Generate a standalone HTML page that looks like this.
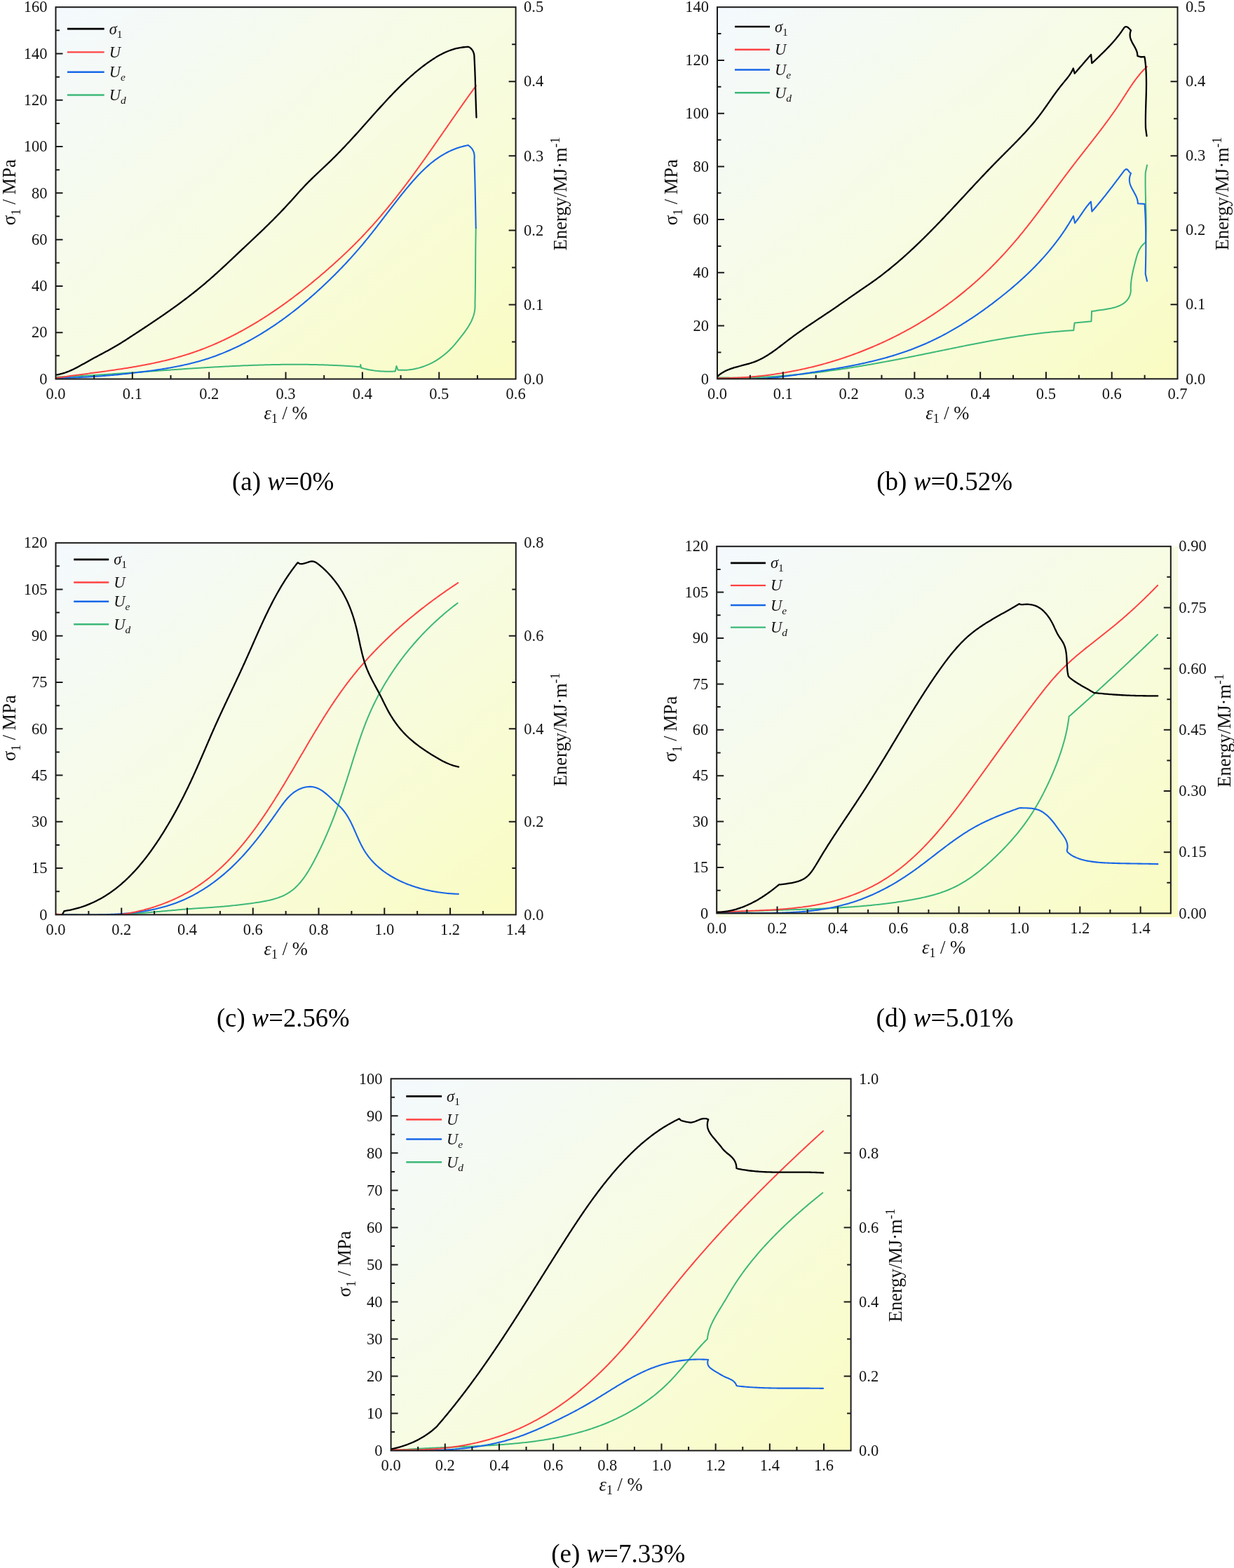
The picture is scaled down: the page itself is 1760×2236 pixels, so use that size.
<!DOCTYPE html><html><head><meta charset="utf-8"><title>Figure</title><style>html,body{margin:0;padding:0;background:#fff;}body{width:1760px;height:2236px;overflow:hidden;}svg{display:block;}</style></head><body><svg xmlns="http://www.w3.org/2000/svg" width="1760" height="2236" viewBox="0 0 1760 2236" font-family='"Liberation Serif", "DejaVu Serif", serif'><defs><linearGradient id="ga" x1="0" y1="0" x2="1" y2="1"><stop offset="0" stop-color="#f4f9fe"/><stop offset="0.5" stop-color="#f7fce3"/><stop offset="1" stop-color="#fafcc2"/></linearGradient><clipPath id="ca"><rect x="79.5" y="10.2" width="656.1" height="530.3"/></clipPath><linearGradient id="gb" x1="0" y1="0" x2="1" y2="1"><stop offset="0" stop-color="#f4f9fe"/><stop offset="0.5" stop-color="#f7fce3"/><stop offset="1" stop-color="#fafcc2"/></linearGradient><clipPath id="cb"><rect x="1023" y="10.2" width="656.5" height="530.1"/></clipPath><linearGradient id="gc" x1="0" y1="0" x2="1" y2="1"><stop offset="0" stop-color="#f4f9fe"/><stop offset="0.5" stop-color="#f7fce3"/><stop offset="1" stop-color="#fafcc2"/></linearGradient><clipPath id="cc"><rect x="79.5" y="774.2" width="656.3" height="530.2"/></clipPath><linearGradient id="gd" x1="0" y1="0" x2="1" y2="1"><stop offset="0" stop-color="#f4f9fe"/><stop offset="0.5" stop-color="#f7fce3"/><stop offset="1" stop-color="#fafcc2"/></linearGradient><clipPath id="cd"><rect x="1022.2" y="779.2" width="647.6" height="523.2"/></clipPath><linearGradient id="ge" x1="0" y1="0" x2="1" y2="1"><stop offset="0" stop-color="#f4f9fe"/><stop offset="0.5" stop-color="#f7fce3"/><stop offset="1" stop-color="#fafcc2"/></linearGradient><clipPath id="ce"><rect x="557.6" y="1538.3" width="656" height="530.3"/></clipPath></defs><rect x="79.5" y="10.2" width="656.1" height="530.3" fill="url(#ga)"/>
<g clip-path="url(#ca)" fill="none" stroke-linejoin="round" stroke-linecap="round">
<path d="M79,537.78 81,537.7 83.01,537.62 85.01,537.53 87.01,537.44 89.01,537.35 91.01,537.26 93.01,537.17 95.01,537.08 97.01,536.98 99.02,536.89 101.02,536.79 103.02,536.69 105.02,536.59 107.02,536.48 109.02,536.38 111.02,536.27 113.03,536.17 115.03,536.06 117.03,535.95 119.03,535.84 121.03,535.72 123.03,535.61 125.03,535.5 127.04,535.38 129.04,535.26 131.04,535.14 133.04,535.02 135.04,534.9 137.04,534.78 139.05,534.66 141.05,534.53 143.05,534.41 145.05,534.28 147.05,534.16 149.06,534.03 151.06,533.9 153.06,533.77 155.06,533.64 157.06,533.51 159.07,533.38 161.07,533.24 163.07,533.11 165.07,532.98 167.07,532.84 169.08,532.71 171.08,532.57 173.08,532.43 175.08,532.3 177.08,532.16 179.09,532.02 181.09,531.88 183.09,531.74 185.09,531.6 187.1,531.46 189.1,531.32 191.1,531.18 193.1,531.04 195.11,530.9 197.11,530.76 199.11,530.62 201.11,530.48 203.12,530.33 205.12,530.19 207.12,530.05 209.12,529.91 211.13,529.76 213.13,529.62 215.13,529.48 217.14,529.34 219.14,529.19 221.14,529.05 223.14,528.91 225.15,528.77 227.15,528.62 229.15,528.48 231.16,528.34 233.16,528.2 235.16,528.06 237.16,527.91 239.17,527.77 241.17,527.63 243.17,527.49 245.18,527.35 247.18,527.21 249.18,527.08 251.19,526.94 253.19,526.8 255.19,526.66 257.2,526.52 259.2,526.39 261.2,526.25 263.21,526.12 265.21,525.98 267.21,525.85 269.22,525.72 271.22,525.58 273.22,525.45 275.23,525.32 277.23,525.19 279.23,525.06 281.24,524.94 283.24,524.81 285.24,524.68 287.25,524.56 289.25,524.43 291.26,524.31 293.26,524.19 295.26,524.06 297.27,523.94 299.27,523.83 301.27,523.71 303.28,523.59 305.28,523.47 307.29,523.36 309.29,523.25 311.29,523.14 313.3,523.02 315.3,522.92 317.31,522.81 319.31,522.7 321.31,522.6 323.32,522.49 325.32,522.39 327.33,522.29 329.33,522.19 331.33,522.09 333.34,522 335.34,521.9 337.35,521.81 339.35,521.72 341.36,521.63 343.36,521.54 345.36,521.46 347.37,521.37 349.37,521.29 351.38,521.21 353.38,521.13 355.39,521.05 357.39,520.98 359.4,520.9 361.4,520.83 363.41,520.76 365.41,520.7 367.41,520.63 369.42,520.57 371.42,520.51 373.43,520.45 375.43,520.39 377.44,520.34 379.44,520.28 381.45,520.23 383.45,520.19 385.46,520.14 387.46,520.1 389.47,520.06 391.47,520.02 393.48,519.98 395.48,519.95 397.49,519.92 399.49,519.89 401.5,519.86 403.5,519.84 405.51,519.82 407.51,519.8 409.52,519.78 411.52,519.77 413.53,519.76 415.53,519.75 417.54,519.74 419.55,519.74 421.55,519.74 423.56,519.74 425.56,519.75 427.57,519.76 429.57,519.77 431.58,519.78 433.58,519.8 435.59,519.82 437.59,519.84 439.6,519.87 441.61,519.9 443.61,519.93 445.62,519.97 447.62,520 449.63,520.05 451.63,520.09 453.64,520.14 455.65,520.19 457.65,520.24 459.66,520.3 461.66,520.36 463.67,520.43 465.68,520.49 467.68,520.57 469.69,520.64 471.69,520.72 473.7,520.8 475.71,520.88 477.71,520.97 479.72,521.06 481.72,521.16 483.73,521.26 485.74,521.36 487.74,521.47 489.75,521.58 491.76,521.69 493.76,521.81 495.77,521.93 497.77,522.06 499.78,522.19 501.79,522.32 503.79,522.45 505.8,522.59 507.81,522.74 509.81,522.89 511.82,523.04 513.83,523.2 514.25,520 515,524.5 516.97,525.08 518.95,525.61 520.94,526.11 522.94,526.58 524.95,527.01 526.96,527.4 528.98,527.76 531,528.09 533.03,528.38 535.07,528.64 537.11,528.88 539.15,529.08 541.19,529.25 543.24,529.4 545.29,529.52 547.34,529.61 549.4,529.67 551.45,529.72 553.5,529.73 555.56,529.73 557.61,529.7 559.66,529.66 561.71,529.59 563.75,529.5 565.5,522 567.5,527.5 569.44,527.68 571.53,527.77 573.61,527.81 575.68,527.8 577.74,527.74 579.79,527.63 581.83,527.48 583.86,527.28 585.88,527.03 587.89,526.74 589.88,526.4 591.87,526.02 593.84,525.59 595.79,525.12 597.74,524.61 599.67,524.06 601.58,523.46 603.48,522.82 605.37,522.15 607.24,521.43 609.09,520.67 610.93,519.88 612.75,519.05 614.55,518.18 616.33,517.27 618.1,516.33 619.85,515.35 621.58,514.34 623.28,513.29 624.97,512.21 626.64,511.09 628.29,509.94 629.92,508.76 631.52,507.55 633.11,506.31 634.67,505.04 636.21,503.73 637.72,502.4 639.21,501.04 640.68,499.65 642.13,498.24 643.54,496.79 644.94,495.33 646.3,493.83 647.65,492.31 648.97,490.78 650.28,489.22 651.57,487.66 652.85,486.08 654.12,484.49 655.38,482.9 656.64,481.31 657.89,479.71 659.14,478.12 660.38,476.52 661.6,474.91 662.8,473.29 663.98,471.67 665.13,470.03 666.26,468.38 667.35,466.71 668.41,465.02 669.43,463.32 670.4,461.6 671.33,459.85 672.21,458.08 673.04,456.29 673.8,454.48 674.51,452.63 675.15,450.76 675.73,448.86 676.23,446.93 676.66,444.97 677.01,442.97 677.27,440.94 677.46,438.88 677.55,436.78 677.55,434.63 677.45,432.45 677.55,430.47 677.59,428.44 677.63,426.42 677.67,424.39 677.71,422.36 677.75,420.33 677.78,418.3 677.81,416.27 677.84,414.25 677.87,412.22 677.89,410.19 677.92,408.16 677.94,406.13 677.96,404.11 677.98,402.08 678,400.05 678.02,398.02 678.03,395.99 678.05,393.96 678.06,391.94 678.08,389.91 678.09,387.88 678.1,385.85 678.12,383.82 678.13,381.79 678.14,379.76 678.15,377.74 678.17,375.71 678.18,373.68 678.19,371.65 678.2,369.62 678.22,367.59 678.23,365.57 678.24,363.54 678.26,361.51 678.27,359.48 678.29,357.45 678.31,355.42 678.32,353.4 678.34,351.37 678.36,349.34 678.39,347.31 678.41,345.28 678.44,343.25 678.46,341.23 678.49,339.2 678.52,337.17 678.55,335.14 678.59,333.11 678.63,331.08 678.66,329.06 678.71,327.03 678.75,325" stroke="#3cb878" stroke-width="2.0"/>
<path d="M79.07,538.97 81.08,538.95 83.08,538.93 85.08,538.9 87.09,538.88 89.09,538.84 91.09,538.8 93.09,538.76 95.09,538.71 97.09,538.66 99.09,538.61 101.09,538.55 103.09,538.49 105.08,538.42 107.08,538.34 109.08,538.27 111.07,538.19 113.07,538.1 115.06,538.01 117.06,537.92 119.05,537.82 121.05,537.72 123.04,537.62 125.04,537.51 127.03,537.4 129.02,537.28 131.02,537.16 133.01,537.03 135,536.9 136.99,536.77 138.98,536.63 140.98,536.49 142.97,536.35 144.96,536.2 146.95,536.05 148.94,535.89 150.93,535.73 152.93,535.57 154.92,535.4 156.91,535.23 158.9,535.06 160.89,534.88 162.88,534.7 164.87,534.51 166.86,534.33 168.86,534.13 170.85,533.94 172.84,533.74 174.83,533.54 176.82,533.33 178.81,533.12 180.81,532.91 182.8,532.69 184.79,532.47 186.78,532.24 188.78,532.02 190.77,531.79 192.76,531.55 194.76,531.32 196.75,531.08 198.75,530.83 200.74,530.59 202.74,530.34 204.73,530.08 206.73,529.83 208.73,529.57 210.72,529.3 212.72,529.04 214.72,528.76 216.71,528.49 218.71,528.21 220.7,527.92 222.7,527.63 224.69,527.34 226.69,527.04 228.68,526.73 230.67,526.42 232.66,526.11 234.65,525.78 236.64,525.46 238.63,525.12 240.62,524.78 242.6,524.43 244.58,524.07 246.56,523.71 248.54,523.34 250.52,522.96 252.49,522.58 254.47,522.19 256.44,521.78 258.4,521.37 260.37,520.96 262.33,520.53 264.29,520.09 266.25,519.65 268.2,519.2 270.15,518.73 272.1,518.26 274.05,517.78 275.99,517.28 277.92,516.78 279.86,516.27 281.79,515.74 283.71,515.21 285.64,514.66 287.56,514.1 289.47,513.54 291.38,512.96 293.29,512.36 295.19,511.76 297.08,511.14 298.98,510.52 300.86,509.88 302.75,509.23 304.63,508.57 306.5,507.9 308.37,507.21 310.24,506.52 312.1,505.81 313.96,505.09 315.81,504.36 317.66,503.63 319.5,502.88 321.34,502.12 323.18,501.34 325.01,500.56 326.83,499.77 328.65,498.97 330.47,498.16 332.29,497.33 334.09,496.5 335.9,495.66 337.7,494.81 339.49,493.94 341.28,493.07 343.07,492.19 344.85,491.3 346.63,490.4 348.4,489.49 350.17,488.57 351.94,487.64 353.7,486.7 355.45,485.75 357.2,484.8 358.95,483.83 360.69,482.86 362.43,481.87 364.16,480.88 365.89,479.88 367.62,478.87 369.34,477.86 371.05,476.83 372.77,475.8 374.47,474.75 376.18,473.7 377.87,472.65 379.57,471.58 381.26,470.51 382.94,469.42 384.62,468.33 386.3,467.24 387.97,466.13 389.64,465.02 391.3,463.9 392.96,462.77 394.61,461.64 396.26,460.5 397.91,459.35 399.55,458.19 401.18,457.03 402.82,455.86 404.44,454.68 406.07,453.5 407.69,452.31 409.3,451.12 410.91,449.92 412.52,448.71 414.12,447.49 415.71,446.27 417.3,445.04 418.89,443.81 420.48,442.57 422.05,441.33 423.63,440.08 425.2,438.82 426.76,437.56 428.33,436.29 429.88,435.02 431.43,433.74 432.98,432.46 434.53,431.17 436.06,429.88 437.6,428.58 439.13,427.28 440.66,425.97 442.18,424.65 443.69,423.34 445.21,422.01 446.71,420.69 448.22,419.36 449.72,418.02 451.21,416.68 452.7,415.34 454.19,413.99 455.67,412.63 457.15,411.28 458.62,409.92 460.09,408.55 461.55,407.19 463.01,405.82 464.46,404.44 465.91,403.06 467.36,401.68 468.8,400.29 470.24,398.9 471.67,397.51 473.1,396.11 474.52,394.71 475.94,393.31 477.36,391.9 478.77,390.49 480.18,389.07 481.58,387.65 482.97,386.23 484.37,384.8 485.76,383.37 487.14,381.94 488.52,380.5 489.9,379.06 491.27,377.61 492.63,376.16 493.99,374.7 495.35,373.25 496.71,371.78 498.05,370.32 499.4,368.85 500.74,367.37 502.07,365.89 503.41,364.41 504.73,362.92 506.05,361.43 507.37,359.93 508.69,358.43 510,356.93 511.3,355.42 512.6,353.91 513.9,352.39 515.19,350.87 516.48,349.34 517.76,347.81 519.04,346.28 520.31,344.74 521.58,343.2 522.85,341.65 524.11,340.1 525.36,338.54 526.62,336.98 527.87,335.42 529.12,333.85 530.36,332.28 531.6,330.71 532.84,329.14 534.08,327.56 535.31,325.98 536.54,324.39 537.77,322.81 539,321.22 540.22,319.63 541.45,318.04 542.67,316.45 543.9,314.86 545.12,313.26 546.34,311.67 547.56,310.07 548.78,308.47 550,306.88 551.22,305.28 552.45,303.68 553.67,302.08 554.89,300.49 556.12,298.89 557.34,297.3 558.57,295.7 559.8,294.11 561.03,292.52 562.26,290.92 563.49,289.34 564.73,287.75 565.97,286.16 567.21,284.58 568.46,283 569.71,281.42 570.96,279.84 572.21,278.27 573.47,276.7 574.73,275.13 576,273.57 577.27,272.01 578.55,270.45 579.83,268.9 581.11,267.35 582.41,265.8 583.7,264.27 585,262.73 586.31,261.21 587.63,259.69 588.95,258.18 590.28,256.68 591.62,255.18 592.97,253.7 594.32,252.23 595.68,250.77 597.06,249.32 598.44,247.88 599.83,246.45 601.23,245.04 602.65,243.64 604.07,242.26 605.51,240.89 606.95,239.54 608.41,238.21 609.89,236.89 611.37,235.59 612.87,234.31 614.38,233.04 615.9,231.8 617.44,230.58 619,229.38 620.57,228.19 622.15,227.04 623.75,225.9 625.37,224.79 627,223.7 628.65,222.64 630.31,221.6 632,220.58 633.7,219.6 635.42,218.64 637.15,217.71 638.91,216.8 640.69,215.93 642.48,215.08 644.3,214.27 646.13,213.48 647.99,212.73 649.86,212.01 651.76,211.32 653.68,210.67 655.63,210.05 657.59,209.46 659.58,208.91 661.59,208.39 663.62,207.91 665.68,207.47 667.76,207.06 669.33,208.24 670.95,209.61 672.37,211.1 673.59,212.71 674.61,214.45 675.43,216.31 676.05,218.3 676.46,220.41 676.68,222.65 676.69,225.01 676.5,227.5 676.57,229.53 676.64,231.56 676.71,233.59 676.77,235.62 676.84,237.65 676.9,239.68 676.96,241.72 677.02,243.75 677.08,245.78 677.13,247.81 677.19,249.84 677.24,251.87 677.29,253.9 677.34,255.93 677.39,257.96 677.44,260 677.49,262.03 677.54,264.06 677.58,266.09 677.62,268.12 677.67,270.15 677.71,272.18 677.75,274.21 677.79,276.25 677.83,278.28 677.88,280.31 677.91,282.34 677.95,284.37 677.99,286.4 678.03,288.43 678.07,290.47 678.11,292.5 678.15,294.53 678.19,296.56 678.22,298.59 678.26,300.62 678.3,302.65 678.34,304.69 678.38,306.72 678.42,308.75 678.46,310.78 678.5,312.81 678.54,314.84 678.58,316.87 678.62,318.91 678.66,320.94 678.71,322.97 678.75,325" stroke="#1766e8" stroke-width="2.1"/>
<path d="M79.3,539.13 81.24,538.84 83.18,538.56 85.13,538.27 87.07,537.99 89.02,537.71 90.97,537.43 92.93,537.16 94.88,536.88 96.84,536.61 98.8,536.34 100.76,536.07 102.72,535.8 104.69,535.53 106.66,535.27 108.63,535 110.6,534.74 112.57,534.47 114.55,534.21 116.52,533.94 118.5,533.68 120.48,533.42 122.46,533.15 124.44,532.89 126.42,532.63 128.41,532.36 130.39,532.1 132.38,531.83 134.36,531.57 136.35,531.3 138.34,531.03 140.33,530.76 142.32,530.49 144.31,530.22 146.3,529.95 148.29,529.67 150.29,529.4 152.28,529.12 154.27,528.84 156.27,528.56 158.26,528.27 160.25,527.99 162.25,527.7 164.24,527.41 166.23,527.11 168.23,526.81 170.22,526.51 172.21,526.21 174.2,525.9 176.2,525.6 178.19,525.28 180.18,524.97 182.17,524.64 184.16,524.32 186.15,523.99 188.14,523.66 190.13,523.32 192.11,522.98 194.1,522.64 196.08,522.29 198.07,521.93 200.05,521.58 202.03,521.21 204.01,520.84 205.99,520.47 207.97,520.09 209.94,519.7 211.92,519.31 213.89,518.92 215.86,518.52 217.83,518.11 219.8,517.7 221.76,517.28 223.73,516.85 225.69,516.42 227.65,515.98 229.61,515.53 231.56,515.08 233.51,514.62 235.47,514.16 237.41,513.68 239.36,513.2 241.3,512.71 243.24,512.22 245.18,511.72 247.12,511.21 249.05,510.69 250.98,510.16 252.91,509.63 254.83,509.08 256.75,508.53 258.67,507.97 260.58,507.41 262.5,506.83 264.4,506.24 266.31,505.65 268.21,505.05 270.11,504.43 272,503.81 273.89,503.18 275.78,502.54 277.67,501.89 279.55,501.23 281.42,500.56 283.29,499.88 285.16,499.2 287.03,498.5 288.89,497.79 290.75,497.08 292.6,496.36 294.46,495.63 296.3,494.88 298.15,494.14 299.99,493.38 301.83,492.61 303.66,491.84 305.49,491.05 307.32,490.26 309.14,489.46 310.96,488.65 312.77,487.83 314.59,487.01 316.39,486.18 318.2,485.33 320,484.49 321.8,483.63 323.59,482.76 325.39,481.89 327.17,481.01 328.96,480.12 330.74,479.23 332.52,478.32 334.29,477.41 336.06,476.5 337.83,475.57 339.59,474.64 341.35,473.7 343.11,472.75 344.86,471.8 346.61,470.84 348.36,469.87 350.1,468.89 351.84,467.91 353.58,466.92 355.31,465.93 357.04,464.92 358.76,463.92 360.49,462.9 362.21,461.88 363.92,460.85 365.63,459.82 367.34,458.78 369.05,457.73 370.75,456.68 372.45,455.62 374.15,454.55 375.84,453.48 377.53,452.4 379.21,451.32 380.9,450.23 382.57,449.14 384.25,448.04 385.92,446.93 387.59,445.82 389.26,444.7 390.92,443.58 392.58,442.45 394.23,441.32 395.89,440.18 397.54,439.04 399.18,437.89 400.83,436.74 402.47,435.58 404.1,434.42 405.73,433.25 407.36,432.08 408.99,430.9 410.61,429.72 412.23,428.53 413.85,427.34 415.46,426.14 417.07,424.94 418.68,423.74 420.29,422.53 421.89,421.31 423.48,420.1 425.08,418.87 426.67,417.65 428.26,416.42 429.84,415.19 431.42,413.95 433,412.71 434.58,411.46 436.15,410.21 437.72,408.96 439.29,407.7 440.85,406.44 442.41,405.18 443.96,403.91 445.52,402.64 447.07,401.37 448.62,400.09 450.16,398.81 451.7,397.53 453.24,396.24 454.77,394.95 456.3,393.66 457.83,392.36 459.36,391.06 460.88,389.75 462.4,388.45 463.92,387.14 465.43,385.82 466.94,384.51 468.45,383.19 469.95,381.86 471.46,380.54 472.95,379.21 474.45,377.88 475.94,376.54 477.43,375.2 478.92,373.86 480.4,372.52 481.88,371.17 483.36,369.82 484.83,368.47 486.3,367.11 487.76,365.75 489.22,364.38 490.68,363.01 492.14,361.64 493.59,360.26 495.03,358.88 496.48,357.5 497.92,356.11 499.35,354.72 500.78,353.33 502.21,351.93 503.63,350.52 505.05,349.12 506.46,347.7 507.87,346.29 509.28,344.87 510.68,343.44 512.07,342.01 513.46,340.58 514.85,339.14 516.23,337.7 517.61,336.26 518.99,334.81 520.36,333.35 521.72,331.89 523.08,330.43 524.44,328.96 525.79,327.49 527.14,326.02 528.48,324.54 529.83,323.06 531.16,321.57 532.49,320.08 533.82,318.59 535.15,317.1 536.47,315.6 537.78,314.09 539.1,312.58 540.41,311.07 541.71,309.56 543.01,308.04 544.31,306.52 545.61,305 546.9,303.47 548.19,301.94 549.47,300.4 550.75,298.87 552.03,297.33 553.3,295.78 554.57,294.24 555.84,292.69 557.1,291.14 558.36,289.58 559.62,288.02 560.87,286.46 562.12,284.9 563.37,283.33 564.61,281.76 565.85,280.19 567.09,278.62 568.32,277.04 569.55,275.46 570.78,273.88 572.01,272.29 573.23,270.71 574.45,269.12 575.67,267.53 576.88,265.93 578.09,264.34 579.3,262.74 580.51,261.14 581.71,259.54 582.91,257.93 584.11,256.33 585.3,254.72 586.5,253.11 587.69,251.5 588.88,249.88 590.06,248.27 591.25,246.65 592.43,245.03 593.61,243.41 594.78,241.78 595.96,240.16 597.13,238.53 598.3,236.91 599.47,235.28 600.64,233.65 601.81,232.02 602.97,230.39 604.14,228.75 605.3,227.12 606.46,225.48 607.62,223.84 608.77,222.21 609.93,220.57 611.09,218.93 612.24,217.29 613.39,215.65 614.54,214 615.69,212.36 616.84,210.72 617.99,209.07 619.14,207.43 620.28,205.78 621.43,204.13 622.58,202.49 623.72,200.84 624.86,199.19 626.01,197.55 627.15,195.9 628.29,194.25 629.44,192.6 630.58,190.95 631.72,189.3 632.86,187.65 634,186.01 635.14,184.36 636.28,182.71 637.43,181.06 638.57,179.41 639.71,177.76 640.85,176.12 641.99,174.47 643.14,172.82 644.28,171.18 645.42,169.53 646.56,167.89 647.71,166.24 648.85,164.6 650,162.95 651.15,161.31 652.29,159.67 653.44,158.03 654.59,156.39 655.74,154.75 656.89,153.11 658.04,151.47 659.19,149.84 660.35,148.2 661.5,146.57 662.66,144.93 663.82,143.3 664.98,141.67 666.14,140.04 667.3,138.42 668.46,136.79 669.63,135.17 670.79,133.54 671.96,131.92 673.13,130.3 674.31,128.68 675.48,127.07 676.66,125.45 677.83,123.84 679.01,122.23" stroke="#ff4242" stroke-width="2.0"/>
<path d="M79.14,534.65 81.13,534.37 83.11,534.03 85.06,533.64 86.99,533.18 88.91,532.68 90.8,532.12 92.68,531.52 94.54,530.87 96.39,530.18 98.23,529.45 100.05,528.68 101.86,527.88 103.66,527.05 105.44,526.19 107.22,525.3 109,524.4 110.76,523.47 112.52,522.52 114.28,521.56 116.03,520.59 117.78,519.61 119.53,518.63 121.28,517.64 123.03,516.65 124.78,515.66 126.53,514.68 128.29,513.7 130.05,512.73 131.81,511.77 133.57,510.81 135.34,509.86 137.11,508.91 138.88,507.97 140.65,507.02 142.42,506.08 144.19,505.14 145.95,504.2 147.72,503.26 149.49,502.31 151.25,501.36 153.01,500.41 154.76,499.45 156.51,498.49 158.26,497.52 160,496.54 161.74,495.55 163.47,494.56 165.19,493.55 166.91,492.54 168.61,491.51 170.32,490.48 172.01,489.43 173.71,488.38 175.39,487.32 177.08,486.25 178.76,485.17 180.44,484.1 182.11,483.01 183.78,481.92 185.46,480.84 187.13,479.74 188.8,478.65 190.48,477.56 192.15,476.46 193.82,475.37 195.5,474.27 197.17,473.17 198.84,472.08 200.52,470.98 202.19,469.87 203.86,468.77 205.53,467.67 207.2,466.56 208.88,465.45 210.55,464.34 212.22,463.23 213.88,462.12 215.55,461 217.22,459.89 218.88,458.77 220.55,457.64 222.21,456.52 223.87,455.39 225.53,454.27 227.19,453.14 228.85,452 230.51,450.87 232.16,449.73 233.81,448.59 235.46,447.44 237.11,446.29 238.75,445.14 240.4,443.99 242.04,442.84 243.68,441.68 245.31,440.51 246.95,439.35 248.58,438.18 250.21,437.01 251.83,435.83 253.45,434.65 255.07,433.47 256.69,432.28 258.3,431.09 259.91,429.89 261.52,428.69 263.12,427.49 264.72,426.28 266.32,425.07 267.91,423.86 269.5,422.64 271.09,421.41 272.67,420.19 274.24,418.95 275.82,417.72 277.38,416.47 278.95,415.23 280.51,413.98 282.06,412.72 283.62,411.46 285.16,410.19 286.7,408.92 288.24,407.64 289.77,406.36 291.3,405.07 292.82,403.78 294.34,402.48 295.86,401.18 297.36,399.88 298.87,398.57 300.37,397.25 301.87,395.93 303.36,394.61 304.85,393.28 306.34,391.95 307.83,390.62 309.31,389.28 310.79,387.94 312.26,386.6 313.74,385.25 315.21,383.9 316.67,382.55 318.14,381.19 319.61,379.84 321.07,378.48 322.53,377.12 323.99,375.76 325.45,374.39 326.91,373.03 328.36,371.66 329.82,370.29 331.27,368.92 332.73,367.55 334.18,366.18 335.64,364.81 337.09,363.44 338.54,362.07 340,360.7 341.45,359.32 342.91,357.95 344.36,356.58 345.82,355.21 347.28,353.84 348.74,352.47 350.2,351.1 351.65,349.73 353.11,348.36 354.57,346.99 356.03,345.62 357.49,344.25 358.95,342.87 360.41,341.5 361.87,340.13 363.32,338.75 364.78,337.38 366.24,336 367.69,334.62 369.14,333.24 370.59,331.86 372.04,330.48 373.49,329.09 374.93,327.71 376.38,326.32 377.82,324.92 379.25,323.53 380.69,322.13 382.12,320.73 383.55,319.33 384.98,317.93 386.4,316.52 387.82,315.11 389.24,313.69 390.65,312.27 392.06,310.85 393.47,309.42 394.87,307.99 396.27,306.56 397.66,305.13 399.05,303.69 400.44,302.24 401.82,300.8 403.2,299.35 404.58,297.9 405.95,296.44 407.31,294.98 408.68,293.52 410.04,292.06 411.39,290.59 412.74,289.12 414.09,287.65 415.43,286.18 416.77,284.7 418.11,283.22 419.44,281.73 420.77,280.25 422.09,278.77 423.42,277.28 424.75,275.8 426.08,274.32 427.42,272.84 428.75,271.37 430.1,269.9 431.45,268.43 432.8,266.97 434.17,265.52 435.54,264.07 436.92,262.64 438.32,261.21 439.72,259.79 441.13,258.38 442.55,256.97 443.98,255.57 445.41,254.17 446.85,252.78 448.3,251.39 449.75,250.01 451.2,248.63 452.66,247.26 454.12,245.88 455.58,244.51 457.04,243.14 458.51,241.76 459.97,240.39 461.43,239.02 462.89,237.65 464.35,236.27 465.81,234.89 467.26,233.51 468.71,232.13 470.15,230.74 471.58,229.35 473.01,227.95 474.44,226.55 475.86,225.14 477.28,223.73 478.69,222.32 480.09,220.9 481.49,219.48 482.89,218.06 484.28,216.63 485.67,215.2 487.06,213.76 488.44,212.32 489.81,210.88 491.19,209.44 492.56,207.99 493.92,206.54 495.29,205.08 496.65,203.63 498,202.17 499.36,200.71 500.71,199.24 502.06,197.77 503.41,196.3 504.76,194.83 506.1,193.36 507.44,191.88 508.78,190.41 510.12,188.93 511.46,187.45 512.79,185.96 514.13,184.48 515.46,182.99 516.79,181.5 518.13,180.02 519.46,178.53 520.79,177.03 522.12,175.54 523.45,174.05 524.78,172.55 526.11,171.06 527.45,169.56 528.78,168.07 530.11,166.57 531.45,165.08 532.78,163.58 534.12,162.08 535.45,160.59 536.79,159.09 538.13,157.6 539.48,156.1 540.82,154.61 542.17,153.12 543.51,151.63 544.86,150.15 546.22,148.66 547.57,147.18 548.93,145.7 550.29,144.23 551.66,142.75 553.03,141.28 554.4,139.82 555.78,138.35 557.16,136.9 558.54,135.44 559.93,133.99 561.32,132.55 562.72,131.11 564.12,129.67 565.52,128.25 566.94,126.82 568.35,125.4 569.77,123.99 571.2,122.59 572.63,121.19 574.07,119.8 575.51,118.41 576.97,117.04 578.42,115.67 579.88,114.3 581.35,112.95 582.83,111.6 584.31,110.26 585.8,108.94 587.3,107.61 588.81,106.3 590.32,105 591.84,103.71 593.36,102.42 594.9,101.15 596.44,99.89 598,98.64 599.56,97.39 601.13,96.16 602.7,94.94 604.29,93.73 605.89,92.54 607.49,91.35 609.11,90.18 610.73,89.01 612.37,87.87 614.01,86.73 615.67,85.61 617.33,84.51 619.01,83.43 620.7,82.37 622.4,81.33 624.11,80.31 625.84,79.32 627.58,78.36 629.33,77.42 631.1,76.51 632.88,75.64 634.67,74.8 636.49,73.99 638.31,73.22 640.15,72.49 642.01,71.79 643.89,71.14 645.78,70.53 647.69,69.96 649.61,69.43 651.56,68.95 653.52,68.52 655.5,68.13 657.49,67.78 659.5,67.49 661.53,67.24 663.57,67.03 665.63,66.88 667.71,66.77 669.45,67.38 671.16,68.68 672.63,70.15 673.87,71.79 674.87,73.59 675.63,75.57 676.16,77.71 676.45,80.02 676.5,82.5 676.61,84.52 676.72,86.54 676.82,88.57 676.91,90.59 677.01,92.61 677.1,94.64 677.18,96.66 677.26,98.68 677.34,100.71 677.42,102.73 677.49,104.75 677.56,106.78 677.63,108.8 677.7,110.83 677.76,112.85 677.82,114.87 677.88,116.9 677.94,118.92 678,120.95 678.06,122.97 678.11,125 678.17,127.02 678.22,129.04 678.28,131.07 678.33,133.09 678.39,135.12 678.45,137.14 678.5,139.17 678.56,141.19 678.62,143.21 678.68,145.24 678.74,147.26 678.81,149.29 678.87,151.31 678.94,153.34 679.01,155.36 679.09,157.38 679.16,159.41 679.24,161.43 679.32,163.45 679.41,165.48 679.5,167.5" stroke="#000000" stroke-width="2.3"/>
</g>
<path d="M134.18,540.5V535M188.85,540.5V530.5M243.53,540.5V535M298.2,540.5V530.5M352.88,540.5V535M407.55,540.5V530.5M462.23,540.5V535M516.9,540.5V530.5M571.58,540.5V535M626.25,540.5V530.5M680.93,540.5V535M79.5,507.36H85M79.5,474.21H89.5M79.5,441.07H85M79.5,407.93H89.5M79.5,374.78H85M79.5,341.64H89.5M79.5,308.49H85M79.5,275.35H89.5M79.5,242.21H85M79.5,209.06H89.5M79.5,175.92H85M79.5,142.78H89.5M79.5,109.63H85M79.5,76.49H89.5M79.5,43.34H85M735.6,487.47H730.1M735.6,434.44H725.6M735.6,381.41H730.1M735.6,328.38H725.6M735.6,275.35H730.1M735.6,222.32H725.6M735.6,169.29H730.1M735.6,116.26H725.6M735.6,63.23H730.1" stroke="#1a1a1a" stroke-width="2" fill="none"/>
<rect x="79.5" y="10.2" width="656.1" height="530.3" fill="none" stroke="#1a1a1a" stroke-width="2"/>
<g font-size="22.5" fill="#111"><text x="79.5" y="569.1" text-anchor="middle">0.0</text><text x="188.85" y="569.1" text-anchor="middle">0.1</text><text x="298.2" y="569.1" text-anchor="middle">0.2</text><text x="407.55" y="569.1" text-anchor="middle">0.3</text><text x="516.9" y="569.1" text-anchor="middle">0.4</text><text x="626.25" y="569.1" text-anchor="middle">0.5</text><text x="735.6" y="569.1" text-anchor="middle">0.6</text><text x="67.5" y="547.7" text-anchor="end">0</text><text x="67.5" y="481.41" text-anchor="end">20</text><text x="67.5" y="415.12" text-anchor="end">40</text><text x="67.5" y="348.84" text-anchor="end">60</text><text x="67.5" y="282.55" text-anchor="end">80</text><text x="67.5" y="216.26" text-anchor="end">100</text><text x="67.5" y="149.98" text-anchor="end">120</text><text x="67.5" y="83.69" text-anchor="end">140</text><text x="67.5" y="17.4" text-anchor="end">160</text><text x="747.1" y="547.7">0.0</text><text x="747.1" y="441.64">0.1</text><text x="747.1" y="335.58">0.2</text><text x="747.1" y="229.52">0.3</text><text x="747.1" y="123.46">0.4</text><text x="747.1" y="17.4">0.5</text></g>
<text transform="translate(22,274.35) rotate(-90)" text-anchor="middle" font-size="26.5" fill="#111">σ<tspan font-size="18" dy="7">1</tspan><tspan dy="-7"> / MPa</tspan></text>
<text transform="translate(808.1,276.35) rotate(-90)" text-anchor="middle" font-size="26.5" fill="#111">Energy/MJ·m<tspan font-size="18" dy="-10">-1</tspan></text>
<text x="407.55" y="598" text-anchor="middle" font-size="26.5" fill="#111"><tspan font-style="italic">ε</tspan><tspan font-size="18" dy="5">1</tspan><tspan dy="-5"> / %</tspan></text>
<path d="M96,41.2H148.7" stroke="#000000" stroke-width="2.6999999999999997"/>
<text x="155.7" y="48.7" font-size="22.5" font-style="italic" fill="#111">σ<tspan font-size="15.5" dy="5" font-style="normal">1</tspan></text>
<path d="M96,74.4H148.7" stroke="#ff4242" stroke-width="2.4"/>
<text x="155.7" y="81.9" font-size="22.5" font-style="italic" fill="#111">U</text>
<path d="M96,102.7H148.7" stroke="#1766e8" stroke-width="2.5"/>
<text x="155.7" y="110.2" font-size="22.5" font-style="italic" fill="#111">U<tspan font-size="15.5" dy="5" font-style="italic">e</tspan></text>
<path d="M96,135.5H148.7" stroke="#3cb878" stroke-width="2.4"/>
<text x="155.7" y="143" font-size="22.5" font-style="italic" fill="#111">U<tspan font-size="15.5" dy="5" font-style="italic">d</tspan></text>
<text x="331" y="699.3" font-size="37" fill="#000" textLength="145.3" lengthAdjust="spacingAndGlyphs">(a) <tspan font-style="italic">w</tspan>=0%</text>
<rect x="1023" y="10.2" width="656.5" height="530.1" fill="url(#gb)"/>
<g clip-path="url(#cb)" fill="none" stroke-linejoin="round" stroke-linecap="round">
<path d="M1022.89,538.26 1024.91,538.33 1026.92,538.38 1028.93,538.44 1030.94,538.48 1032.95,538.52 1034.96,538.56 1036.97,538.59 1038.98,538.62 1040.99,538.64 1043,538.65 1045.01,538.66 1047.01,538.67 1049.02,538.67 1051.02,538.67 1053.03,538.66 1055.03,538.64 1057.04,538.62 1059.04,538.6 1061.04,538.57 1063.05,538.54 1065.05,538.5 1067.05,538.46 1069.05,538.41 1071.05,538.36 1073.05,538.3 1075.05,538.24 1077.05,538.17 1079.04,538.1 1081.04,538.02 1083.04,537.94 1085.04,537.86 1087.03,537.77 1089.03,537.68 1091.02,537.58 1093.02,537.48 1095.01,537.37 1097,537.26 1099,537.15 1100.99,537.03 1102.98,536.91 1104.97,536.78 1106.96,536.65 1108.95,536.51 1110.94,536.37 1112.93,536.23 1114.92,536.08 1116.91,535.93 1118.9,535.77 1120.89,535.61 1122.88,535.45 1124.86,535.28 1126.85,535.11 1128.84,534.94 1130.82,534.76 1132.81,534.57 1134.79,534.39 1136.78,534.2 1138.76,534 1140.75,533.81 1142.73,533.61 1144.71,533.4 1146.69,533.19 1148.68,532.98 1150.66,532.77 1152.64,532.55 1154.62,532.33 1156.6,532.1 1158.58,531.87 1160.56,531.64 1162.54,531.41 1164.52,531.17 1166.5,530.93 1168.48,530.68 1170.45,530.43 1172.43,530.18 1174.41,529.93 1176.39,529.67 1178.36,529.41 1180.34,529.15 1182.32,528.88 1184.29,528.61 1186.27,528.34 1188.24,528.06 1190.22,527.79 1192.19,527.51 1194.17,527.22 1196.14,526.94 1198.11,526.65 1200.09,526.35 1202.06,526.06 1204.03,525.76 1206,525.46 1207.98,525.16 1209.95,524.86 1211.92,524.55 1213.89,524.24 1215.86,523.92 1217.83,523.61 1219.8,523.29 1221.77,522.97 1223.74,522.65 1225.71,522.33 1227.68,522 1229.65,521.67 1231.62,521.34 1233.59,521 1235.56,520.67 1237.53,520.33 1239.49,519.99 1241.46,519.65 1243.43,519.3 1245.4,518.96 1247.36,518.61 1249.33,518.26 1251.3,517.91 1253.26,517.55 1255.23,517.2 1257.2,516.84 1259.16,516.48 1261.13,516.12 1263.09,515.76 1265.06,515.39 1267.02,515.03 1268.99,514.66 1270.95,514.29 1272.92,513.92 1274.88,513.54 1276.85,513.17 1278.81,512.79 1280.77,512.42 1282.74,512.04 1284.7,511.66 1286.67,511.27 1288.63,510.89 1290.59,510.51 1292.56,510.12 1294.52,509.73 1296.48,509.34 1298.44,508.96 1300.41,508.56 1302.37,508.17 1304.33,507.78 1306.29,507.39 1308.26,506.99 1310.22,506.59 1312.18,506.2 1314.14,505.8 1316.11,505.4 1318.07,505 1320.03,504.6 1321.99,504.2 1323.95,503.8 1325.91,503.4 1327.88,503 1329.84,502.59 1331.8,502.19 1333.76,501.79 1335.72,501.38 1337.68,500.98 1339.65,500.58 1341.61,500.17 1343.57,499.77 1345.53,499.37 1347.49,498.97 1349.45,498.56 1351.42,498.16 1353.38,497.76 1355.34,497.36 1357.3,496.96 1359.27,496.56 1361.23,496.16 1363.19,495.76 1365.15,495.36 1367.12,494.96 1369.08,494.57 1371.04,494.17 1373.01,493.78 1374.97,493.38 1376.93,492.99 1378.9,492.6 1380.86,492.21 1382.82,491.82 1384.79,491.44 1386.75,491.05 1388.72,490.67 1390.68,490.28 1392.65,489.9 1394.61,489.52 1396.58,489.15 1398.55,488.77 1400.51,488.4 1402.48,488.03 1404.45,487.66 1406.41,487.29 1408.38,486.93 1410.35,486.56 1412.32,486.2 1414.28,485.84 1416.25,485.49 1418.22,485.13 1420.19,484.78 1422.16,484.43 1424.13,484.09 1426.1,483.75 1428.07,483.41 1430.04,483.07 1432.01,482.73 1433.99,482.4 1435.96,482.07 1437.93,481.75 1439.9,481.43 1441.88,481.11 1443.85,480.79 1445.83,480.48 1447.8,480.17 1449.78,479.87 1451.75,479.56 1453.73,479.26 1455.71,478.97 1457.68,478.68 1459.66,478.39 1461.64,478.11 1463.62,477.83 1465.6,477.55 1467.58,477.28 1469.56,477.01 1471.54,476.75 1473.52,476.49 1475.5,476.24 1477.49,475.99 1479.47,475.74 1481.45,475.5 1483.44,475.26 1485.42,475.03 1487.41,474.8 1489.39,474.58 1491.38,474.36 1493.37,474.15 1495.36,473.94 1497.34,473.74 1499.33,473.54 1501.32,473.35 1503.31,473.16 1505.31,472.97 1507.3,472.8 1509.29,472.63 1511.28,472.46 1513.28,472.3 1515.27,472.14 1517.27,471.99 1519.26,471.85 1521.26,471.71 1523.26,471.57 1525.26,471.45 1527.26,471.33 1529.26,471.21 1531.26,471.1 1532.48,460.61 1556.49,458.27 1557.07,443.63 1559.05,443.8 1560.86,443.46 1562.73,443.15 1564.65,442.84 1566.62,442.55 1568.63,442.27 1570.67,441.98 1572.73,441.69 1574.82,441.39 1576.91,441.07 1579.02,440.72 1581.11,440.36 1583.21,439.96 1585.28,439.52 1587.33,439.03 1589.36,438.5 1591.34,437.92 1593.29,437.27 1595.18,436.56 1597.02,435.78 1598.79,434.92 1600.5,433.99 1602.12,432.96 1603.66,431.85 1605.11,430.63 1606.47,429.32 1607.71,427.9 1608.85,426.36 1609.87,424.7 1610.76,422.92 1611.51,421.01 1612.13,418.97 1612.61,416.78 1612.93,414.45 1612.74,412.59 1612.74,410.62 1612.79,408.65 1612.88,406.68 1613.02,404.7 1613.2,402.73 1613.42,400.76 1613.67,398.78 1613.96,396.81 1614.28,394.84 1614.63,392.87 1615.01,390.9 1615.41,388.93 1615.83,386.97 1616.27,385.01 1616.73,383.05 1617.2,381.1 1617.68,379.15 1618.18,377.2 1618.68,375.26 1619.19,373.33 1619.69,371.4 1620.21,369.48 1620.73,367.56 1621.28,365.67 1621.85,363.8 1622.48,361.95 1623.15,360.13 1623.89,358.35 1624.71,356.61 1625.61,354.92 1626.61,353.27 1627.71,351.69 1628.93,350.16 1630.28,348.7 1631.77,347.31 1633.4,345.99 1633.89,344.07 1634.01,342.04 1634.12,340.01 1634.22,337.98 1634.31,335.95 1634.38,333.92 1634.45,331.89 1634.5,329.86 1634.54,327.82 1634.58,325.79 1634.6,323.76 1634.62,321.73 1634.63,319.69 1634.63,317.66 1634.62,315.63 1634.61,313.6 1634.59,311.56 1634.56,309.53 1634.53,307.5 1634.5,305.46 1634.46,303.43 1634.42,301.4 1634.37,299.36 1634.32,297.33 1634.27,295.29 1634.22,293.26 1634.17,291.23 1634.11,289.19 1634.06,287.16 1634.01,285.13 1633.95,283.09 1633.9,281.06 1633.85,279.02 1633.81,276.99 1633.76,274.96 1633.72,272.92 1633.69,270.89 1633.66,268.85 1633.63,266.82 1633.61,264.79 1633.59,262.75 1633.58,260.72 1633.58,258.69 1633.58,256.65 1633.6,254.62 1633.62,252.59 1633.65,250.55 1633.69,248.52 1633.74,246.49 1636.01,235.55" stroke="#3cb878" stroke-width="2.0"/>
<path d="M1023.01,540.04 1025.03,540.21 1027.06,540.37 1029.08,540.51 1031.1,540.64 1033.12,540.76 1035.13,540.87 1037.15,540.97 1039.16,541.05 1041.18,541.12 1043.19,541.18 1045.2,541.23 1047.2,541.27 1049.21,541.3 1051.22,541.32 1053.22,541.32 1055.22,541.32 1057.22,541.3 1059.22,541.28 1061.22,541.24 1063.22,541.2 1065.22,541.15 1067.21,541.08 1069.21,541.01 1071.2,540.93 1073.2,540.84 1075.19,540.74 1077.18,540.63 1079.17,540.52 1081.16,540.39 1083.14,540.26 1085.13,540.12 1087.12,539.97 1089.1,539.82 1091.09,539.66 1093.07,539.49 1095.05,539.31 1097.04,539.13 1099.02,538.94 1101,538.75 1102.98,538.54 1104.96,538.34 1106.94,538.12 1108.92,537.9 1110.9,537.68 1112.87,537.45 1114.85,537.21 1116.83,536.97 1118.8,536.73 1120.78,536.48 1122.76,536.22 1124.73,535.96 1126.71,535.7 1128.68,535.43 1130.66,535.16 1132.63,534.89 1134.61,534.61 1136.58,534.33 1138.56,534.04 1140.53,533.76 1142.5,533.47 1144.48,533.17 1146.45,532.88 1148.43,532.58 1150.4,532.28 1152.38,531.98 1154.35,531.68 1156.32,531.37 1158.3,531.07 1160.27,530.76 1162.25,530.45 1164.23,530.15 1166.2,529.84 1168.18,529.53 1170.15,529.21 1172.13,528.9 1174.11,528.59 1176.08,528.27 1178.06,527.95 1180.04,527.63 1182.01,527.31 1183.99,526.99 1185.96,526.66 1187.94,526.33 1189.91,526 1191.89,525.67 1193.86,525.33 1195.83,524.99 1197.81,524.64 1199.78,524.3 1201.75,523.94 1203.72,523.59 1205.69,523.23 1207.66,522.86 1209.63,522.49 1211.6,522.12 1213.56,521.74 1215.53,521.36 1217.49,520.97 1219.46,520.58 1221.42,520.18 1223.38,519.78 1225.34,519.37 1227.3,518.95 1229.25,518.53 1231.21,518.11 1233.16,517.68 1235.12,517.24 1237.07,516.79 1239.01,516.35 1240.96,515.89 1242.91,515.43 1244.85,514.96 1246.79,514.49 1248.73,514.01 1250.67,513.52 1252.6,513.02 1254.54,512.52 1256.47,512.01 1258.4,511.5 1260.33,510.98 1262.25,510.45 1264.17,509.91 1266.09,509.37 1268.01,508.82 1269.92,508.26 1271.84,507.69 1273.75,507.12 1275.65,506.53 1277.56,505.94 1279.46,505.34 1281.36,504.74 1283.25,504.12 1285.14,503.5 1287.03,502.87 1288.92,502.23 1290.8,501.58 1292.68,500.92 1294.56,500.25 1296.44,499.58 1298.31,498.89 1300.17,498.2 1302.04,497.49 1303.9,496.78 1305.75,496.06 1307.61,495.33 1309.46,494.58 1311.3,493.83 1313.14,493.07 1314.98,492.3 1316.82,491.52 1318.65,490.73 1320.47,489.93 1322.3,489.12 1324.12,488.3 1325.93,487.47 1327.74,486.63 1329.55,485.78 1331.35,484.92 1333.15,484.05 1334.95,483.17 1336.74,482.28 1338.52,481.39 1340.31,480.48 1342.09,479.57 1343.86,478.65 1345.63,477.71 1347.4,476.77 1349.16,475.83 1350.92,474.87 1352.68,473.9 1354.43,472.93 1356.18,471.95 1357.92,470.96 1359.66,469.96 1361.4,468.96 1363.13,467.95 1364.86,466.93 1366.58,465.9 1368.3,464.87 1370.01,463.82 1371.72,462.77 1373.43,461.72 1375.13,460.65 1376.83,459.58 1378.53,458.51 1380.22,457.42 1381.9,456.33 1383.59,455.24 1385.27,454.13 1386.94,453.02 1388.61,451.91 1390.28,450.79 1391.94,449.66 1393.6,448.52 1395.25,447.38 1396.9,446.24 1398.54,445.09 1400.19,443.93 1401.82,442.77 1403.46,441.6 1405.08,440.43 1406.71,439.25 1408.33,438.07 1409.95,436.88 1411.56,435.69 1413.17,434.49 1414.77,433.29 1416.37,432.08 1417.96,430.87 1419.55,429.66 1421.14,428.44 1422.72,427.21 1424.3,425.99 1425.88,424.75 1427.44,423.52 1429.01,422.28 1430.57,421.03 1432.13,419.78 1433.68,418.53 1435.23,417.27 1436.77,416.01 1438.3,414.74 1439.84,413.47 1441.36,412.19 1442.89,410.91 1444.4,409.63 1445.92,408.33 1447.42,407.04 1448.92,405.74 1450.42,404.43 1451.91,403.11 1453.4,401.8 1454.88,400.47 1456.35,399.14 1457.82,397.81 1459.28,396.47 1460.74,395.12 1462.19,393.77 1463.63,392.41 1465.07,391.05 1466.51,389.68 1467.93,388.3 1469.35,386.92 1470.77,385.53 1472.17,384.13 1473.58,382.73 1474.97,381.32 1476.36,379.9 1477.74,378.48 1479.12,377.05 1480.48,375.62 1481.84,374.17 1483.2,372.72 1484.55,371.27 1485.89,369.8 1487.22,368.33 1488.55,366.85 1489.86,365.37 1491.18,363.87 1492.48,362.37 1493.78,360.86 1495.07,359.35 1496.35,357.82 1497.62,356.29 1498.89,354.75 1500.15,353.2 1501.4,351.65 1502.64,350.08 1503.87,348.51 1505.1,346.93 1506.32,345.34 1507.53,343.74 1508.73,342.14 1509.92,340.52 1511.11,338.9 1512.29,337.27 1513.46,335.63 1514.61,333.98 1515.77,332.32 1516.91,330.65 1518.04,328.97 1519.17,327.29 1520.28,325.59 1521.39,323.89 1522.49,322.17 1523.58,320.45 1524.65,318.71 1525.72,316.97 1526.79,315.22 1527.84,313.46 1528.88,311.68 1529.91,309.9 1530.93,308.11 1533.07,317.99 1534.34,316.43 1535.57,314.85 1536.78,313.25 1537.96,311.64 1539.13,310 1540.28,308.36 1541.42,306.71 1542.55,305.05 1543.68,303.39 1544.81,301.74 1545.96,300.09 1547.11,298.45 1548.28,296.82 1549.47,295.22 1550.69,293.63 1551.94,292.06 1553.22,290.52 1554.54,289.01 1555.9,287.54 1557.43,301.59 1558.75,300.07 1560.08,298.54 1561.4,297.01 1562.71,295.48 1564.02,293.94 1565.32,292.39 1566.62,290.84 1567.91,289.28 1569.19,287.72 1570.47,286.16 1571.74,284.59 1573.01,283.02 1574.27,281.45 1575.53,279.87 1576.78,278.29 1578.03,276.7 1579.27,275.11 1580.51,273.52 1581.75,271.93 1582.98,270.33 1584.22,268.73 1585.44,267.13 1586.67,265.53 1587.89,263.92 1589.12,262.32 1590.33,260.71 1591.55,259.1 1592.77,257.49 1593.98,255.88 1595.2,254.27 1596.41,252.66 1597.62,251.04 1598.84,249.43 1600.05,247.82 1601.26,246.2 1602.47,244.59 1603.69,242.98 1605.69,241.28 1607.32,241.36 1608.76,242.62 1610.11,244.43 1611.48,246.13 1612.98,247.06 1612.03,249.45 1611.36,251.75 1610.97,253.96 1610.84,256.1 1610.93,258.17 1611.22,260.17 1611.69,262.12 1612.31,264.02 1613.06,265.88 1613.91,267.71 1614.83,269.52 1615.81,271.31 1616.81,273.1 1617.81,274.89 1618.79,276.69 1619.73,278.5 1620.58,280.34 1621.34,282.21 1621.97,284.13 1622.45,286.09 1622.76,288.11 1622.86,290.19 1632.55,290.83 1632.69,292.85 1632.83,294.88 1632.95,296.92 1633.07,298.95 1633.19,300.98 1633.3,303.01 1633.4,305.04 1633.5,307.07 1633.59,309.1 1633.67,311.13 1633.75,313.17 1633.82,315.2 1633.89,317.23 1633.95,319.26 1634.01,321.3 1634.06,323.33 1634.11,325.36 1634.15,327.4 1634.19,329.43 1634.22,331.46 1634.25,333.5 1634.28,335.53 1634.3,337.56 1634.31,339.6 1634.32,341.63 1634.33,343.67 1634.34,345.7 1634.34,347.73 1634.33,349.77 1634.33,351.8 1634.32,353.84 1634.3,355.87 1634.29,357.91 1634.27,359.94 1634.25,361.97 1634.22,364.01 1634.19,366.04 1634.16,368.08 1634.13,370.11 1634.1,372.14 1634.06,374.18 1634.02,376.21 1633.98,378.24 1633.94,380.28 1633.89,382.31 1633.85,384.34 1633.8,386.38 1633.75,388.41 1633.7,390.44 1636.01,400.81" stroke="#1766e8" stroke-width="2.1"/>
<path d="M1022.93,539.25 1024.94,539.26 1026.94,539.26 1028.94,539.25 1030.95,539.24 1032.95,539.22 1034.95,539.19 1036.95,539.15 1038.96,539.11 1040.96,539.06 1042.96,539 1044.96,538.94 1046.96,538.86 1048.96,538.78 1050.97,538.7 1052.97,538.6 1054.97,538.5 1056.96,538.39 1058.96,538.28 1060.96,538.15 1062.96,538.02 1064.96,537.89 1066.96,537.74 1068.95,537.59 1070.95,537.43 1072.94,537.27 1074.94,537.09 1076.93,536.91 1078.92,536.72 1080.92,536.53 1082.91,536.33 1084.9,536.12 1086.89,535.9 1088.88,535.68 1090.87,535.45 1092.86,535.21 1094.84,534.96 1096.83,534.71 1098.81,534.45 1100.8,534.19 1102.78,533.91 1104.76,533.63 1106.74,533.35 1108.72,533.05 1110.7,532.75 1112.68,532.44 1114.66,532.13 1116.63,531.8 1118.61,531.47 1120.58,531.14 1122.55,530.79 1124.52,530.44 1126.49,530.08 1128.46,529.72 1130.42,529.35 1132.39,528.97 1134.35,528.58 1136.32,528.19 1138.28,527.79 1140.24,527.38 1142.19,526.97 1144.15,526.55 1146.11,526.12 1148.06,525.69 1150.01,525.24 1151.96,524.8 1153.91,524.34 1155.86,523.88 1157.8,523.41 1159.74,522.93 1161.69,522.45 1163.63,521.96 1165.56,521.46 1167.5,520.96 1169.43,520.45 1171.37,519.93 1173.3,519.41 1175.23,518.88 1177.15,518.34 1179.08,517.79 1181,517.24 1182.92,516.68 1184.84,516.12 1186.76,515.55 1188.67,514.97 1190.58,514.38 1192.49,513.79 1194.4,513.19 1196.31,512.58 1198.21,511.97 1200.11,511.35 1202.01,510.73 1203.91,510.09 1205.8,509.45 1207.7,508.81 1209.59,508.15 1211.47,507.49 1213.36,506.83 1215.24,506.15 1217.12,505.47 1219,504.79 1220.87,504.09 1222.75,503.39 1224.62,502.69 1226.48,501.97 1228.35,501.25 1230.21,500.52 1232.07,499.79 1233.93,499.05 1235.78,498.3 1237.63,497.55 1239.48,496.79 1241.33,496.02 1243.17,495.25 1245.01,494.47 1246.85,493.68 1248.68,492.89 1250.51,492.09 1252.34,491.29 1254.17,490.47 1255.99,489.65 1257.81,488.83 1259.62,487.99 1261.44,487.16 1263.25,486.31 1265.05,485.46 1266.86,484.6 1268.66,483.73 1270.46,482.86 1272.25,481.98 1274.04,481.1 1275.83,480.21 1277.61,479.31 1279.4,478.41 1281.17,477.5 1282.95,476.58 1284.72,475.66 1286.49,474.73 1288.25,473.79 1290.01,472.85 1291.77,471.9 1293.52,470.94 1295.27,469.98 1297.02,469.01 1298.76,468.04 1300.5,467.05 1302.24,466.07 1303.97,465.07 1305.7,464.07 1307.42,463.07 1309.14,462.05 1310.86,461.03 1312.57,460.01 1314.28,458.97 1315.99,457.94 1317.69,456.89 1319.39,455.84 1321.08,454.78 1322.77,453.72 1324.46,452.65 1326.14,451.57 1327.82,450.49 1329.49,449.4 1331.16,448.3 1332.83,447.2 1334.49,446.09 1336.15,444.98 1337.8,443.86 1339.45,442.73 1341.1,441.6 1342.74,440.46 1344.37,439.31 1346.01,438.16 1347.63,437 1349.26,435.84 1350.88,434.67 1352.49,433.49 1354.1,432.31 1355.71,431.12 1357.31,429.93 1358.9,428.73 1360.5,427.52 1362.08,426.31 1363.67,425.09 1365.25,423.86 1366.82,422.63 1368.39,421.39 1369.95,420.15 1371.51,418.9 1373.07,417.64 1374.62,416.38 1376.16,415.11 1377.71,413.83 1379.24,412.55 1380.77,411.27 1382.3,409.97 1383.82,408.67 1385.34,407.37 1386.85,406.06 1388.36,404.74 1389.86,403.42 1391.36,402.1 1392.85,400.76 1394.34,399.42 1395.82,398.08 1397.3,396.73 1398.77,395.38 1400.24,394.02 1401.7,392.65 1403.16,391.28 1404.61,389.9 1406.06,388.52 1407.51,387.14 1408.94,385.74 1410.38,384.35 1411.81,382.95 1413.23,381.54 1414.65,380.13 1416.06,378.71 1417.47,377.29 1418.87,375.86 1420.27,374.43 1421.67,373 1423.05,371.56 1424.44,370.11 1425.82,368.66 1427.19,367.21 1428.56,365.75 1429.92,364.29 1431.28,362.82 1432.63,361.35 1433.98,359.87 1435.32,358.39 1436.66,356.91 1437.99,355.42 1439.32,353.93 1440.64,352.43 1441.96,350.93 1443.27,349.42 1444.58,347.92 1445.88,346.4 1447.18,344.89 1448.47,343.37 1449.76,341.84 1451.04,340.32 1452.32,338.78 1453.59,337.25 1454.86,335.71 1456.12,334.17 1457.38,332.63 1458.64,331.08 1459.89,329.53 1461.14,327.98 1462.38,326.42 1463.62,324.86 1464.86,323.3 1466.1,321.74 1467.33,320.17 1468.55,318.6 1469.78,317.03 1471,315.45 1472.22,313.88 1473.43,312.3 1474.65,310.72 1475.86,309.14 1477.07,307.55 1478.27,305.97 1479.48,304.38 1480.68,302.79 1481.88,301.2 1483.08,299.61 1484.27,298.01 1485.47,296.42 1486.66,294.82 1487.85,293.22 1489.04,291.62 1490.23,290.02 1491.42,288.42 1492.61,286.82 1493.8,285.22 1494.98,283.62 1496.17,282.01 1497.35,280.41 1498.54,278.8 1499.72,277.2 1500.91,275.59 1502.09,273.99 1503.28,272.38 1504.46,270.78 1505.65,269.17 1506.83,267.56 1508.02,265.96 1509.2,264.35 1510.39,262.75 1511.58,261.14 1512.77,259.54 1513.96,257.94 1515.15,256.33 1516.35,254.73 1517.54,253.13 1518.74,251.53 1519.94,249.93 1521.14,248.33 1522.34,246.74 1523.54,245.14 1524.75,243.54 1525.95,241.95 1527.17,240.36 1528.38,238.77 1529.59,237.18 1530.81,235.59 1532.03,234.01 1533.26,232.42 1534.48,230.84 1535.71,229.26 1536.93,227.68 1538.16,226.1 1539.39,224.52 1540.63,222.94 1541.86,221.36 1543.09,219.79 1544.33,218.21 1545.56,216.63 1546.8,215.06 1548.03,213.48 1549.27,211.91 1550.5,210.33 1551.74,208.75 1552.97,207.18 1554.21,205.6 1555.44,204.02 1556.67,202.45 1557.91,200.87 1559.14,199.29 1560.36,197.71 1561.59,196.13 1562.82,194.54 1564.04,192.96 1565.26,191.38 1566.48,189.79 1567.7,188.2 1568.91,186.61 1570.12,185.02 1571.33,183.43 1572.54,181.83 1573.74,180.24 1574.94,178.64 1576.13,177.04 1577.32,175.43 1578.51,173.83 1579.69,172.22 1580.87,170.61 1582.05,169 1583.22,167.38 1584.39,165.76 1585.55,164.14 1586.7,162.51 1587.85,160.89 1589,159.25 1590.14,157.62 1591.27,155.98 1592.4,154.34 1593.52,152.69 1594.64,151.04 1595.75,149.39 1596.85,147.73 1597.95,146.07 1599.04,144.4 1600.12,142.73 1601.2,141.06 1602.28,139.39 1603.35,137.71 1604.43,136.04 1605.5,134.36 1606.57,132.69 1607.65,131.01 1608.73,129.34 1609.81,127.68 1610.9,126.02 1612,124.36 1613.11,122.71 1614.22,121.07 1615.35,119.44 1616.49,117.81 1617.64,116.2 1618.8,114.59 1619.98,113 1621.18,111.42 1622.4,109.85 1623.63,108.29 1624.89,106.75 1626.16,105.23 1627.46,103.72 1628.78,102.22 1630.13,100.75 1631.51,99.29 1632.91,97.85 1634.34,96.44 1635.8,95.04" stroke="#ff4242" stroke-width="2.0"/>
<path d="M1022.63,537.42 1024.07,536.05 1025.56,534.77 1027.09,533.57 1028.68,532.44 1030.31,531.39 1031.99,530.41 1033.7,529.49 1035.45,528.63 1037.24,527.82 1039.05,527.06 1040.89,526.35 1042.76,525.68 1044.66,525.05 1046.57,524.44 1048.5,523.87 1050.45,523.31 1052.4,522.78 1054.37,522.25 1056.34,521.74 1058.32,521.23 1060.3,520.72 1062.28,520.2 1064.25,519.68 1066.22,519.14 1068.17,518.58 1070.12,518 1072.05,517.39 1073.96,516.75 1075.85,516.07 1077.72,515.35 1079.56,514.6 1081.38,513.8 1083.19,512.96 1084.97,512.09 1086.73,511.19 1088.48,510.25 1090.2,509.29 1091.92,508.29 1093.61,507.27 1095.3,506.22 1096.97,505.15 1098.63,504.06 1100.27,502.95 1101.91,501.81 1103.53,500.67 1105.15,499.5 1106.76,498.32 1108.37,497.13 1109.97,495.93 1111.56,494.72 1113.15,493.51 1114.74,492.28 1116.33,491.06 1117.91,489.83 1119.5,488.6 1121.09,487.38 1122.68,486.15 1124.27,484.93 1125.87,483.72 1127.47,482.51 1129.08,481.32 1130.69,480.13 1132.3,478.94 1133.92,477.76 1135.55,476.59 1137.18,475.43 1138.81,474.27 1140.44,473.12 1142.08,471.97 1143.72,470.83 1145.36,469.69 1147.01,468.55 1148.66,467.42 1150.31,466.3 1151.96,465.17 1153.62,464.05 1155.28,462.93 1156.94,461.82 1158.59,460.71 1160.26,459.6 1161.92,458.49 1163.58,457.38 1165.24,456.27 1166.9,455.16 1168.57,454.06 1170.23,452.95 1171.89,451.85 1173.55,450.74 1175.22,449.63 1176.88,448.53 1178.53,447.42 1180.19,446.3 1181.85,445.19 1183.5,444.08 1185.16,442.96 1186.81,441.84 1188.45,440.71 1190.1,439.58 1191.75,438.46 1193.39,437.32 1195.03,436.19 1196.67,435.05 1198.31,433.92 1199.95,432.78 1201.58,431.64 1203.22,430.49 1204.86,429.35 1206.49,428.21 1208.13,427.07 1209.77,425.92 1211.41,424.78 1213.05,423.64 1214.68,422.5 1216.33,421.36 1217.97,420.22 1219.61,419.08 1221.26,417.94 1222.91,416.81 1224.56,415.68 1226.21,414.55 1227.86,413.42 1229.52,412.29 1231.17,411.16 1232.83,410.03 1234.48,408.9 1236.13,407.77 1237.78,406.64 1239.43,405.5 1241.07,404.35 1242.71,403.21 1244.35,402.05 1245.98,400.9 1247.6,399.73 1249.22,398.56 1250.83,397.38 1252.44,396.19 1254.04,395 1255.64,393.8 1257.23,392.6 1258.82,391.38 1260.4,390.17 1261.97,388.94 1263.54,387.71 1265.1,386.47 1266.66,385.23 1268.22,383.98 1269.77,382.73 1271.31,381.47 1272.85,380.2 1274.39,378.93 1275.92,377.65 1277.44,376.37 1278.96,375.08 1280.48,373.79 1281.99,372.49 1283.5,371.19 1285,369.88 1286.5,368.57 1288,367.25 1289.49,365.92 1290.98,364.6 1292.46,363.26 1293.94,361.93 1295.41,360.58 1296.89,359.24 1298.35,357.89 1299.82,356.53 1301.28,355.17 1302.74,353.81 1304.19,352.44 1305.64,351.07 1307.09,349.7 1308.53,348.32 1309.97,346.94 1311.41,345.55 1312.84,344.16 1314.27,342.77 1315.7,341.37 1317.13,339.97 1318.55,338.57 1319.97,337.16 1321.39,335.75 1322.8,334.34 1324.21,332.92 1325.62,331.5 1327.03,330.08 1328.44,328.66 1329.84,327.23 1331.24,325.8 1332.64,324.37 1334.03,322.94 1335.43,321.5 1336.82,320.06 1338.21,318.62 1339.6,317.18 1340.99,315.73 1342.37,314.29 1343.75,312.84 1345.14,311.39 1346.52,309.94 1347.9,308.48 1349.27,307.03 1350.65,305.57 1352.03,304.11 1353.4,302.65 1354.77,301.19 1356.14,299.73 1357.52,298.27 1358.89,296.8 1360.25,295.34 1361.62,293.87 1362.99,292.41 1364.36,290.94 1365.72,289.47 1367.09,288 1368.46,286.53 1369.82,285.07 1371.19,283.6 1372.55,282.13 1373.91,280.66 1375.28,279.19 1376.64,277.72 1378.01,276.25 1379.37,274.78 1380.74,273.31 1382.1,271.84 1383.46,270.37 1384.83,268.9 1386.2,267.44 1387.56,265.97 1388.93,264.5 1390.3,263.04 1391.66,261.57 1393.03,260.11 1394.4,258.65 1395.77,257.19 1397.14,255.73 1398.51,254.27 1399.89,252.81 1401.26,251.36 1402.64,249.9 1404.01,248.45 1405.39,247 1406.77,245.55 1408.15,244.1 1409.53,242.65 1410.92,241.21 1412.3,239.77 1413.69,238.33 1415.08,236.89 1416.47,235.46 1417.86,234.02 1419.26,232.59 1420.66,231.17 1422.05,229.74 1423.46,228.32 1424.86,226.9 1426.26,225.48 1427.67,224.07 1429.08,222.65 1430.49,221.24 1431.9,219.83 1433.3,218.42 1434.71,217.01 1436.12,215.6 1437.53,214.19 1438.94,212.78 1440.35,211.37 1441.75,209.96 1443.16,208.54 1444.56,207.13 1445.96,205.71 1447.35,204.29 1448.75,202.87 1450.14,201.44 1451.53,200.02 1452.91,198.59 1454.29,197.15 1455.66,195.71 1457.03,194.27 1458.4,192.82 1459.76,191.37 1461.11,189.91 1462.46,188.45 1463.8,186.98 1465.14,185.5 1466.47,184.02 1467.79,182.53 1469.11,181.03 1470.42,179.53 1471.72,178.02 1473.01,176.5 1474.29,174.97 1475.56,173.44 1476.83,171.89 1478.09,170.34 1479.33,168.78 1480.57,167.2 1481.79,165.62 1483.01,164.03 1484.22,162.42 1485.41,160.81 1486.6,159.19 1487.78,157.56 1488.95,155.93 1490.12,154.29 1491.29,152.64 1492.45,150.99 1493.6,149.34 1494.76,147.69 1495.91,146.03 1497.06,144.38 1498.22,142.73 1499.37,141.07 1500.53,139.43 1501.69,137.78 1502.86,136.14 1504.03,134.5 1505.21,132.88 1506.39,131.25 1507.58,129.64 1508.79,128.04 1510,126.44 1511.22,124.86 1512.45,123.28 1513.7,121.72 1514.96,120.18 1516.23,118.64 1517.5,117.12 1518.77,115.59 1520.03,114.06 1521.28,112.52 1522.5,110.97 1523.7,109.4 1524.87,107.81 1525.99,106.19 1527.07,104.53 1528.09,102.84 1529.05,101.11 1529.95,99.33 1530.78,97.49 1532.69,104.8 1534.07,103.22 1535.45,101.63 1536.83,100.05 1538.2,98.46 1539.58,96.88 1540.96,95.3 1542.34,93.71 1543.71,92.13 1545.09,90.54 1546.47,88.96 1547.85,87.37 1549.22,85.79 1550.6,84.21 1551.98,82.62 1553.36,81.04 1554.73,79.45 1556.11,77.87 1557.28,90.16 1558.81,88.87 1560.26,87.49 1561.71,86.11 1563.16,84.73 1564.61,83.35 1566.06,81.97 1567.5,80.58 1568.95,79.19 1570.39,77.79 1571.83,76.39 1573.26,74.98 1574.69,73.56 1576.11,72.14 1577.52,70.72 1578.92,69.28 1580.32,67.84 1581.7,66.38 1583.08,64.92 1584.44,63.45 1585.8,61.97 1587.13,60.48 1588.46,58.97 1589.77,57.46 1591.07,55.93 1592.34,54.39 1593.61,52.83 1594.85,51.27 1596.08,49.68 1597.28,48.09 1598.47,46.47 1599.63,44.84 1600.78,43.2 1601.9,41.54 1603,39.86 1604.76,38.22 1606.63,38.09 1608.48,38.99 1610.2,40.46 1611.71,42.05 1612.9,43.33 1612.19,45.59 1611.77,47.77 1611.64,49.86 1611.76,51.87 1612.1,53.82 1612.64,55.71 1613.34,57.55 1614.16,59.35 1615.07,61.13 1616.05,62.89 1617.06,64.64 1618.06,66.4 1619.03,68.17 1619.94,69.96 1620.74,71.78 1621.42,73.64 1621.93,75.56 1622.24,77.54 1622.33,79.59 1624.15,80.46 1626.08,81 1628.07,81.24 1630.12,81.17 1632.22,80.8 1632.76,82.74 1633.03,84.72 1633.29,86.7 1633.52,88.68 1633.73,90.67 1633.92,92.65 1634.1,94.64 1634.25,96.63 1634.39,98.62 1634.51,100.61 1634.62,102.61 1634.71,104.6 1634.79,106.6 1634.85,108.6 1634.9,110.59 1634.94,112.59 1634.97,114.59 1634.98,116.59 1634.99,118.59 1634.99,120.6 1634.97,122.6 1634.95,124.6 1634.93,126.61 1634.89,128.61 1634.85,130.61 1634.81,132.62 1634.76,134.62 1634.7,136.63 1634.64,138.64 1634.58,140.64 1634.52,142.65 1634.46,144.65 1634.4,146.66 1634.34,148.66 1634.27,150.67 1634.22,152.67 1634.16,154.68 1634.1,156.68 1634.05,158.68 1634.01,160.69 1633.97,162.69 1633.93,164.69 1633.91,166.69 1633.89,168.69 1633.87,170.69 1633.87,172.69 1633.87,174.69 1633.89,176.68 1633.92,178.68 1633.96,180.67 1634.01,182.66 1635.5,193.79" stroke="#000000" stroke-width="2.3"/>
</g>
<path d="M1069.89,540.3V534.8M1116.79,540.3V530.3M1163.68,540.3V534.8M1210.57,540.3V530.3M1257.46,540.3V534.8M1304.36,540.3V530.3M1351.25,540.3V534.8M1398.14,540.3V530.3M1445.04,540.3V534.8M1491.93,540.3V530.3M1538.82,540.3V534.8M1585.71,540.3V530.3M1632.61,540.3V534.8M1023,502.44H1028.5M1023,464.57H1033M1023,426.71H1028.5M1023,388.84H1033M1023,350.98H1028.5M1023,313.11H1033M1023,275.25H1028.5M1023,237.39H1033M1023,199.52H1028.5M1023,161.66H1033M1023,123.79H1028.5M1023,85.93H1033M1023,48.06H1028.5M1679.5,487.29H1674M1679.5,434.28H1669.5M1679.5,381.27H1674M1679.5,328.26H1669.5M1679.5,275.25H1674M1679.5,222.24H1669.5M1679.5,169.23H1674M1679.5,116.22H1669.5M1679.5,63.21H1674" stroke="#1a1a1a" stroke-width="2" fill="none"/>
<rect x="1023" y="10.2" width="656.5" height="530.1" fill="none" stroke="#1a1a1a" stroke-width="2"/>
<g font-size="22.5" fill="#111"><text x="1023" y="568.9" text-anchor="middle">0.0</text><text x="1116.79" y="568.9" text-anchor="middle">0.1</text><text x="1210.57" y="568.9" text-anchor="middle">0.2</text><text x="1304.36" y="568.9" text-anchor="middle">0.3</text><text x="1398.14" y="568.9" text-anchor="middle">0.4</text><text x="1491.93" y="568.9" text-anchor="middle">0.5</text><text x="1585.71" y="568.9" text-anchor="middle">0.6</text><text x="1679.5" y="568.9" text-anchor="middle">0.7</text><text x="1011" y="547.5" text-anchor="end">0</text><text x="1011" y="471.77" text-anchor="end">20</text><text x="1011" y="396.04" text-anchor="end">40</text><text x="1011" y="320.31" text-anchor="end">60</text><text x="1011" y="244.59" text-anchor="end">80</text><text x="1011" y="168.86" text-anchor="end">100</text><text x="1011" y="93.13" text-anchor="end">120</text><text x="1011" y="17.4" text-anchor="end">140</text><text x="1691" y="547.5">0.0</text><text x="1691" y="441.48">0.1</text><text x="1691" y="335.46">0.2</text><text x="1691" y="229.44">0.3</text><text x="1691" y="123.42">0.4</text><text x="1691" y="17.4">0.5</text></g>
<text transform="translate(965.5,274.25) rotate(-90)" text-anchor="middle" font-size="26.5" fill="#111">σ<tspan font-size="18" dy="7">1</tspan><tspan dy="-7"> / MPa</tspan></text>
<text transform="translate(1752,276.25) rotate(-90)" text-anchor="middle" font-size="26.5" fill="#111">Energy/MJ·m<tspan font-size="18" dy="-10">-1</tspan></text>
<text x="1351.25" y="597.8" text-anchor="middle" font-size="26.5" fill="#111"><tspan font-style="italic">ε</tspan><tspan font-size="18" dy="5">1</tspan><tspan dy="-5"> / %</tspan></text>
<path d="M1048,38H1098" stroke="#000000" stroke-width="2.6999999999999997"/>
<text x="1105" y="45.5" font-size="22.5" font-style="italic" fill="#111">σ<tspan font-size="15.5" dy="5" font-style="normal">1</tspan></text>
<path d="M1048,70.8H1098" stroke="#ff4242" stroke-width="2.4"/>
<text x="1105" y="78.3" font-size="22.5" font-style="italic" fill="#111">U</text>
<path d="M1048,99.6H1098" stroke="#1766e8" stroke-width="2.5"/>
<text x="1105" y="107.1" font-size="22.5" font-style="italic" fill="#111">U<tspan font-size="15.5" dy="5" font-style="italic">e</tspan></text>
<path d="M1048,132.3H1098" stroke="#3cb878" stroke-width="2.4"/>
<text x="1105" y="139.8" font-size="22.5" font-style="italic" fill="#111">U<tspan font-size="15.5" dy="5" font-style="italic">d</tspan></text>
<text x="1250.2" y="699.1" font-size="37" fill="#000" textLength="193.9" lengthAdjust="spacingAndGlyphs">(b) <tspan font-style="italic">w</tspan>=0.52%</text>
<rect x="79.5" y="774.2" width="656.3" height="530.2" fill="url(#gc)"/>
<g clip-path="url(#cc)" fill="none" stroke-linejoin="round" stroke-linecap="round">
<path d="M79.01,1303.98 81,1304.17 83,1304.35 85,1304.52 87,1304.68 88.99,1304.83 90.99,1304.98 92.99,1305.11 94.99,1305.23 96.98,1305.34 98.98,1305.45 100.98,1305.55 102.98,1305.63 104.98,1305.71 106.98,1305.78 108.98,1305.85 110.98,1305.9 112.98,1305.95 114.97,1305.99 116.97,1306.02 118.97,1306.04 120.97,1306.06 122.97,1306.07 124.97,1306.07 126.97,1306.06 128.97,1306.05 130.97,1306.03 132.97,1306.01 134.97,1305.98 136.97,1305.94 138.97,1305.9 140.98,1305.85 142.98,1305.79 144.98,1305.73 146.98,1305.66 148.98,1305.59 150.98,1305.51 152.98,1305.43 154.98,1305.34 156.98,1305.24 158.98,1305.14 160.98,1305.04 162.98,1304.93 164.98,1304.82 166.98,1304.71 168.98,1304.58 170.98,1304.46 172.98,1304.33 174.98,1304.2 176.98,1304.06 178.98,1303.92 180.98,1303.78 182.98,1303.63 184.98,1303.49 186.98,1303.33 188.98,1303.18 190.98,1303.02 192.98,1302.86 194.97,1302.7 196.97,1302.53 198.97,1302.37 200.97,1302.2 202.97,1302.03 204.97,1301.85 206.96,1301.68 208.96,1301.5 210.96,1301.33 212.96,1301.15 214.95,1300.97 216.95,1300.79 218.95,1300.61 220.94,1300.43 222.94,1300.24 224.94,1300.06 226.93,1299.88 228.93,1299.69 230.92,1299.51 232.92,1299.33 234.91,1299.15 236.91,1298.96 238.9,1298.78 240.89,1298.6 242.89,1298.42 244.88,1298.24 246.87,1298.06 248.87,1297.88 250.86,1297.71 252.85,1297.53 254.84,1297.36 256.83,1297.19 258.82,1297.02 260.81,1296.86 262.8,1296.69 264.79,1296.53 266.78,1296.37 268.77,1296.21 270.76,1296.05 272.75,1295.9 274.74,1295.75 276.72,1295.61 278.71,1295.46 280.7,1295.32 282.68,1295.19 284.67,1295.05 286.65,1294.92 288.64,1294.79 290.62,1294.66 292.61,1294.53 294.59,1294.4 296.57,1294.27 298.56,1294.14 300.54,1294.01 302.52,1293.88 304.5,1293.74 306.48,1293.61 308.46,1293.46 310.44,1293.32 312.42,1293.17 314.4,1293.01 316.38,1292.85 318.36,1292.69 320.33,1292.52 322.31,1292.34 324.29,1292.15 326.26,1291.96 328.24,1291.76 330.22,1291.55 332.19,1291.34 334.17,1291.12 336.15,1290.89 338.13,1290.66 340.12,1290.43 342.11,1290.19 344.1,1289.94 346.09,1289.7 348.1,1289.45 350.1,1289.2 352.12,1288.95 354.13,1288.7 356.16,1288.44 358.18,1288.17 360.21,1287.9 362.24,1287.62 364.26,1287.33 366.29,1287.03 368.32,1286.72 370.35,1286.4 372.37,1286.06 374.39,1285.7 376.4,1285.33 378.42,1284.94 380.42,1284.54 382.42,1284.11 384.41,1283.66 386.39,1283.18 388.36,1282.69 390.32,1282.16 392.27,1281.61 394.2,1281.02 396.11,1280.4 397.99,1279.74 399.85,1279.05 401.69,1278.32 403.49,1277.54 405.27,1276.72 407.01,1275.85 408.71,1274.93 410.37,1273.96 412,1272.94 413.6,1271.88 415.15,1270.77 416.68,1269.62 418.17,1268.42 419.62,1267.18 421.05,1265.9 422.45,1264.59 423.81,1263.23 425.15,1261.84 426.46,1260.42 427.74,1258.97 429,1257.48 430.23,1255.96 431.44,1254.42 432.63,1252.85 433.79,1251.26 434.93,1249.64 436.06,1248 437.16,1246.33 438.24,1244.65 439.31,1242.96 440.36,1241.24 441.39,1239.51 442.41,1237.77 443.42,1236.01 444.41,1234.25 445.39,1232.48 446.36,1230.7 447.32,1228.91 448.27,1227.12 449.21,1225.33 450.14,1223.53 451.06,1221.73 451.98,1219.93 452.89,1218.12 453.79,1216.32 454.68,1214.51 455.57,1212.69 456.45,1210.88 457.32,1209.06 458.18,1207.24 459.04,1205.42 459.88,1203.6 460.73,1201.77 461.56,1199.94 462.39,1198.11 463.21,1196.28 464.02,1194.44 464.83,1192.6 465.63,1190.76 466.43,1188.92 467.21,1187.08 468,1185.23 468.77,1183.38 469.54,1181.53 470.31,1179.68 471.06,1177.83 471.82,1175.97 472.56,1174.11 473.3,1172.25 474.04,1170.39 474.77,1168.53 475.5,1166.66 476.22,1164.8 476.93,1162.93 477.64,1161.06 478.34,1159.19 479.04,1157.31 479.74,1155.44 480.43,1153.56 481.12,1151.69 481.8,1149.81 482.48,1147.93 483.15,1146.05 483.82,1144.16 484.48,1142.28 485.14,1140.39 485.8,1138.51 486.45,1136.62 487.1,1134.73 487.75,1132.84 488.39,1130.95 489.03,1129.05 489.67,1127.16 490.3,1125.27 490.93,1123.37 491.56,1121.47 492.18,1119.58 492.8,1117.68 493.42,1115.78 494.04,1113.88 494.65,1111.98 495.26,1110.07 495.87,1108.17 496.48,1106.27 497.08,1104.37 497.68,1102.46 498.28,1100.56 498.88,1098.65 499.48,1096.74 500.07,1094.84 500.67,1092.93 501.26,1091.03 501.86,1089.12 502.45,1087.21 503.05,1085.31 503.64,1083.4 504.24,1081.5 504.84,1079.59 505.44,1077.69 506.04,1075.78 506.64,1073.88 507.25,1071.98 507.86,1070.08 508.47,1068.18 509.08,1066.28 509.7,1064.39 510.32,1062.49 510.95,1060.6 511.57,1058.7 512.21,1056.81 512.85,1054.93 513.49,1053.04 514.14,1051.15 514.79,1049.27 515.46,1047.39 516.12,1045.51 516.8,1043.64 517.48,1041.77 518.16,1039.9 518.86,1038.03 519.56,1036.16 520.27,1034.3 520.99,1032.44 521.71,1030.59 522.45,1028.74 523.19,1026.89 523.94,1025.04 524.71,1023.2 525.48,1021.36 526.26,1019.53 527.06,1017.7 527.86,1015.87 528.67,1014.05 529.49,1012.23 530.33,1010.42 531.17,1008.61 532.02,1006.8 532.89,1005 533.76,1003.2 534.64,1001.41 535.54,999.62 536.44,997.83 537.35,996.05 538.27,994.28 539.2,992.5 540.14,990.74 541.09,988.98 542.05,987.22 543.02,985.47 544,983.72 544.99,981.97 545.98,980.24 546.99,978.5 548,976.77 549.03,975.05 550.06,973.33 551.1,971.62 552.15,969.91 553.21,968.21 554.28,966.51 555.36,964.82 556.44,963.13 557.54,961.45 558.64,959.77 559.75,958.1 560.87,956.44 562,954.78 563.14,953.12 564.28,951.48 565.44,949.83 566.6,948.2 567.77,946.57 568.95,944.94 570.13,943.32 571.33,941.71 572.53,940.1 573.74,938.5 574.96,936.91 576.19,935.32 577.42,933.73 578.66,932.16 579.91,930.59 581.17,929.02 582.43,927.47 583.7,925.92 584.98,924.37 586.27,922.84 587.57,921.3 588.87,919.78 590.18,918.26 591.49,916.75 592.82,915.25 594.15,913.75 595.49,912.26 596.83,910.78 598.18,909.3 599.54,907.83 600.91,906.37 602.28,904.91 603.66,903.47 605.05,902.03 606.44,900.59 607.84,899.17 609.25,897.75 610.66,896.34 612.08,894.93 613.51,893.54 614.94,892.15 616.38,890.77 617.82,889.39 619.28,888.03 620.73,886.67 622.2,885.32 623.67,883.98 625.14,882.64 626.63,881.32 628.11,880 629.61,878.69 631.11,877.39 632.61,876.09 634.12,874.81 635.64,873.53 637.16,872.26 638.69,871 640.23,869.75 641.77,868.5 643.31,867.27 644.86,866.04 646.42,864.82 647.98,863.61 649.54,862.41 651.12,861.22 652.69,860.03" stroke="#3cb878" stroke-width="2.0"/>
<path d="M79.05,1304.02 80.97,1304.04 82.9,1304.06 84.83,1304.08 86.77,1304.11 88.71,1304.13 90.66,1304.16 92.61,1304.19 94.57,1304.21 96.53,1304.24 98.5,1304.27 100.47,1304.3 102.44,1304.32 104.42,1304.35 106.4,1304.38 108.38,1304.4 110.37,1304.42 112.36,1304.44 114.36,1304.46 116.36,1304.48 118.36,1304.49 120.36,1304.5 122.37,1304.51 124.38,1304.52 126.39,1304.52 128.4,1304.52 130.42,1304.51 132.43,1304.5 134.45,1304.49 136.47,1304.47 138.5,1304.45 140.52,1304.42 142.54,1304.39 144.57,1304.35 146.59,1304.3 148.62,1304.25 150.65,1304.19 152.68,1304.13 154.71,1304.06 156.73,1303.98 158.76,1303.9 160.79,1303.81 162.82,1303.71 164.85,1303.6 166.87,1303.48 168.9,1303.36 170.93,1303.23 172.95,1303.09 174.97,1302.94 177,1302.78 179.02,1302.61 181.04,1302.43 183.05,1302.24 185.07,1302.04 187.08,1301.83 189.1,1301.61 191.1,1301.38 193.11,1301.13 195.12,1300.88 197.12,1300.61 199.12,1300.34 201.11,1300.05 203.1,1299.74 205.09,1299.43 207.08,1299.1 209.06,1298.76 211.04,1298.4 213.02,1298.04 214.99,1297.65 216.95,1297.26 218.92,1296.85 220.87,1296.42 222.83,1295.98 224.78,1295.53 226.72,1295.06 228.66,1294.58 230.59,1294.07 232.52,1293.56 234.44,1293.02 236.36,1292.47 238.27,1291.91 240.18,1291.33 242.08,1290.73 243.97,1290.11 245.86,1289.47 247.74,1288.82 249.61,1288.15 251.48,1287.46 253.34,1286.75 255.2,1286.02 257.04,1285.28 258.88,1284.51 260.72,1283.73 262.54,1282.93 264.36,1282.11 266.17,1281.27 267.97,1280.42 269.76,1279.54 271.55,1278.65 273.33,1277.75 275.1,1276.82 276.86,1275.88 278.62,1274.93 280.37,1273.96 282.11,1272.97 283.84,1271.96 285.56,1270.94 287.27,1269.91 288.98,1268.86 290.67,1267.79 292.36,1266.71 294.04,1265.62 295.71,1264.51 297.37,1263.39 299.03,1262.26 300.67,1261.11 302.3,1259.94 303.93,1258.77 305.55,1257.58 307.15,1256.38 308.75,1255.17 310.34,1253.94 311.92,1252.7 313.48,1251.45 315.04,1250.19 316.59,1248.92 318.13,1247.64 319.66,1246.34 321.18,1245.04 322.69,1243.72 324.19,1242.4 325.68,1241.06 327.16,1239.72 328.62,1238.36 330.08,1237 331.53,1235.63 332.97,1234.24 334.4,1232.85 335.82,1231.45 337.23,1230.04 338.63,1228.62 340.02,1227.19 341.4,1225.76 342.78,1224.32 344.15,1222.86 345.51,1221.4 346.86,1219.94 348.2,1218.46 349.53,1216.98 350.86,1215.49 352.18,1213.99 353.5,1212.49 354.8,1210.98 356.1,1209.46 357.39,1207.93 358.68,1206.4 359.96,1204.86 361.23,1203.32 362.5,1201.77 363.76,1200.21 365.02,1198.65 366.27,1197.08 367.51,1195.51 368.75,1193.93 369.99,1192.34 371.22,1190.75 372.45,1189.16 373.67,1187.56 374.88,1185.95 376.1,1184.34 377.31,1182.73 378.51,1181.11 379.71,1179.49 380.91,1177.86 382.11,1176.23 383.3,1174.59 384.49,1172.95 385.67,1171.31 386.86,1169.67 388.04,1168.02 389.21,1166.37 390.39,1164.71 391.57,1163.05 392.74,1161.39 393.91,1159.73 395.08,1158.07 396.25,1156.4 397.42,1154.73 398.59,1153.06 399.77,1151.4 400.95,1149.76 402.14,1148.12 403.35,1146.5 404.56,1144.9 405.8,1143.33 407.05,1141.78 408.33,1140.26 409.63,1138.78 410.96,1137.33 412.31,1135.93 413.7,1134.57 415.12,1133.26 416.57,1131.99 418.06,1130.79 419.6,1129.64 421.17,1128.56 422.79,1127.54 424.46,1126.58 426.18,1125.7 427.95,1124.9 429.77,1124.18 431.62,1123.54 433.51,1123 435.42,1122.55 437.35,1122.21 439.29,1121.98 441.23,1121.87 443.17,1121.87 445.1,1122 447.01,1122.27 448.89,1122.67 450.75,1123.22 452.57,1123.89 454.35,1124.69 456.11,1125.59 457.83,1126.6 459.53,1127.68 461.19,1128.84 462.81,1130.07 464.41,1131.34 465.98,1132.65 467.51,1133.98 469.02,1135.34 470.5,1136.72 471.97,1138.11 473.42,1139.5 474.87,1140.9 476.31,1142.29 477.75,1143.67 479.2,1145.05 480.66,1146.4 482.12,1147.74 483.58,1149.07 485.01,1150.43 486.39,1151.82 487.73,1153.25 489.01,1154.73 490.25,1156.24 491.45,1157.79 492.6,1159.38 493.71,1160.99 494.79,1162.64 495.84,1164.32 496.85,1166.02 497.83,1167.75 498.79,1169.5 499.72,1171.27 500.63,1173.06 501.51,1174.87 502.39,1176.69 503.24,1178.53 504.08,1180.37 504.92,1182.23 505.74,1184.09 506.56,1185.96 507.38,1187.82 508.19,1189.69 509.01,1191.56 509.83,1193.43 510.66,1195.29 511.49,1197.15 512.34,1198.99 513.2,1200.82 514.08,1202.65 514.98,1204.45 515.89,1206.24 516.83,1208.01 517.8,1209.76 518.79,1211.49 519.81,1213.19 520.87,1214.86 521.95,1216.51 523.07,1218.13 524.22,1219.73 525.4,1221.3 526.61,1222.84 527.85,1224.36 529.11,1225.85 530.41,1227.32 531.73,1228.76 533.08,1230.18 534.45,1231.57 535.85,1232.94 537.28,1234.28 538.73,1235.59 540.2,1236.89 541.7,1238.16 543.22,1239.4 544.76,1240.62 546.32,1241.81 547.91,1242.99 549.52,1244.13 551.14,1245.26 552.79,1246.36 554.46,1247.44 556.14,1248.49 557.84,1249.53 559.56,1250.53 561.3,1251.52 563.05,1252.48 564.82,1253.43 566.6,1254.34 568.4,1255.24 570.21,1256.12 572.04,1256.97 573.88,1257.8 575.73,1258.61 577.6,1259.4 579.47,1260.16 581.36,1260.91 583.25,1261.63 585.16,1262.34 587.07,1263.02 589,1263.68 590.93,1264.32 592.87,1264.95 594.82,1265.55 596.77,1266.13 598.73,1266.69 600.69,1267.23 602.66,1267.75 604.64,1268.25 606.61,1268.73 608.59,1269.2 610.58,1269.64 612.56,1270.07 614.55,1270.47 616.54,1270.86 618.52,1271.23 620.51,1271.58 622.5,1271.91 624.48,1272.22 626.47,1272.52 628.45,1272.8 630.43,1273.06 632.4,1273.3 634.37,1273.53 636.34,1273.73 638.3,1273.93 640.26,1274.1 642.21,1274.26 644.15,1274.4 646.09,1274.52 648.02,1274.63 649.94,1274.72 651.85,1274.79 653.75,1274.85" stroke="#1766e8" stroke-width="2.1"/>
<path d="M78.72,1303.11 80.69,1303.44 82.66,1303.74 84.64,1304.04 86.62,1304.32 88.6,1304.59 90.59,1304.85 92.58,1305.09 94.57,1305.32 96.57,1305.54 98.57,1305.74 100.57,1305.93 102.58,1306.11 104.58,1306.28 106.59,1306.43 108.61,1306.57 110.62,1306.69 112.63,1306.81 114.65,1306.91 116.67,1306.99 118.69,1307.06 120.71,1307.12 122.74,1307.17 124.76,1307.2 126.78,1307.23 128.81,1307.23 130.84,1307.23 132.86,1307.21 134.89,1307.17 136.92,1307.13 138.95,1307.07 140.97,1307 143,1306.91 145.03,1306.81 147.06,1306.7 149.08,1306.57 151.11,1306.43 153.13,1306.28 155.16,1306.12 157.18,1305.94 159.2,1305.75 161.22,1305.54 163.24,1305.32 165.26,1305.09 167.27,1304.84 169.29,1304.58 171.3,1304.31 173.31,1304.02 175.32,1303.72 177.32,1303.41 179.32,1303.08 181.32,1302.74 183.32,1302.39 185.31,1302.02 187.3,1301.64 189.29,1301.25 191.27,1300.84 193.25,1300.42 195.23,1299.98 197.2,1299.53 199.17,1299.07 201.14,1298.59 203.1,1298.1 205.06,1297.6 207.01,1297.08 208.96,1296.55 210.9,1296.01 212.84,1295.45 214.77,1294.88 216.7,1294.3 218.62,1293.7 220.54,1293.09 222.45,1292.46 224.36,1291.82 226.26,1291.17 228.15,1290.5 230.04,1289.82 231.92,1289.12 233.8,1288.41 235.67,1287.69 237.53,1286.95 239.38,1286.2 241.23,1285.44 243.08,1284.66 244.91,1283.87 246.74,1283.06 248.56,1282.25 250.37,1281.41 252.18,1280.56 253.98,1279.7 255.76,1278.83 257.55,1277.94 259.32,1277.04 261.08,1276.12 262.84,1275.19 264.59,1274.24 266.33,1273.29 268.06,1272.31 269.78,1271.33 271.49,1270.33 273.19,1269.31 274.89,1268.28 276.57,1267.24 278.24,1266.18 279.91,1265.11 281.56,1264.03 283.21,1262.93 284.84,1261.82 286.47,1260.69 288.08,1259.55 289.69,1258.4 291.29,1257.23 292.87,1256.05 294.45,1254.86 296.02,1253.66 297.58,1252.44 299.13,1251.21 300.67,1249.97 302.2,1248.72 303.72,1247.46 305.24,1246.18 306.74,1244.89 308.24,1243.59 309.73,1242.28 311.21,1240.96 312.68,1239.63 314.14,1238.29 315.6,1236.94 317.04,1235.57 318.48,1234.2 319.91,1232.82 321.33,1231.43 322.75,1230.02 324.15,1228.61 325.55,1227.19 326.94,1225.76 328.32,1224.32 329.7,1222.87 331.06,1221.41 332.42,1219.95 333.77,1218.47 335.12,1216.99 336.46,1215.5 337.79,1214 339.11,1212.5 340.42,1210.98 341.73,1209.46 343.03,1207.93 344.33,1206.4 345.62,1204.85 346.9,1203.3 348.17,1201.75 349.44,1200.19 350.7,1198.62 351.95,1197.04 353.2,1195.46 354.44,1193.87 355.68,1192.28 356.91,1190.68 358.13,1189.08 359.35,1187.47 360.56,1185.86 361.77,1184.24 362.97,1182.62 364.16,1180.99 365.35,1179.36 366.53,1177.72 367.7,1176.08 368.88,1174.44 370.04,1172.79 371.2,1171.14 372.36,1169.49 373.51,1167.83 374.65,1166.17 375.79,1164.5 376.92,1162.83 378.05,1161.16 379.18,1159.49 380.3,1157.82 381.41,1156.14 382.52,1154.46 383.63,1152.77 384.73,1151.09 385.83,1149.4 386.92,1147.71 388.02,1146.01 389.1,1144.32 390.18,1142.62 391.26,1140.92 392.34,1139.22 393.41,1137.51 394.48,1135.8 395.54,1134.1 396.6,1132.39 397.66,1130.67 398.72,1128.96 399.77,1127.25 400.82,1125.53 401.87,1123.81 402.91,1122.09 403.96,1120.37 405,1118.65 406.03,1116.92 407.07,1115.2 408.1,1113.47 409.13,1111.75 410.16,1110.02 411.19,1108.29 412.22,1106.56 413.24,1104.83 414.26,1103.1 415.29,1101.37 416.31,1099.64 417.32,1097.9 418.34,1096.17 419.36,1094.44 420.37,1092.7 421.39,1090.97 422.4,1089.23 423.42,1087.5 424.43,1085.76 425.44,1084.03 426.46,1082.3 427.47,1080.56 428.48,1078.83 429.49,1077.09 430.51,1075.36 431.52,1073.63 432.53,1071.89 433.54,1070.16 434.56,1068.43 435.57,1066.7 436.59,1064.97 437.6,1063.24 438.62,1061.51 439.63,1059.79 440.65,1058.06 441.67,1056.33 442.69,1054.61 443.72,1052.89 444.74,1051.17 445.76,1049.44 446.79,1047.73 447.82,1046.01 448.85,1044.29 449.88,1042.58 450.92,1040.86 451.95,1039.15 452.99,1037.44 454.04,1035.74 455.08,1034.03 456.13,1032.33 457.17,1030.63 458.23,1028.93 459.28,1027.23 460.34,1025.54 461.4,1023.84 462.46,1022.15 463.53,1020.47 464.6,1018.78 465.67,1017.1 466.75,1015.42 467.83,1013.74 468.92,1012.07 470,1010.39 471.1,1008.72 472.19,1007.06 473.29,1005.4 474.4,1003.74 475.51,1002.08 476.62,1000.43 477.74,998.78 478.86,997.13 479.99,995.49 481.12,993.85 482.26,992.21 483.4,990.58 484.55,988.95 485.7,987.33 486.86,985.7 488.02,984.09 489.19,982.47 490.37,980.86 491.55,979.26 492.73,977.66 493.93,976.06 495.12,974.47 496.33,972.88 497.54,971.3 498.75,969.72 499.98,968.14 501.21,966.57 502.44,965.01 503.69,963.45 504.94,961.89 506.19,960.34 507.45,958.79 508.72,957.25 510,955.71 511.28,954.18 512.57,952.65 513.86,951.13 515.17,949.61 516.47,948.1 517.79,946.59 519.11,945.09 520.43,943.59 521.76,942.09 523.1,940.6 524.44,939.12 525.79,937.64 527.15,936.16 528.51,934.69 529.88,933.23 531.25,931.77 532.63,930.31 534.01,928.86 535.4,927.41 536.79,925.97 538.19,924.53 539.6,923.1 541.01,921.67 542.42,920.24 543.84,918.83 545.27,917.41 546.7,916 548.14,914.6 549.58,913.2 551.02,911.8 552.48,910.41 553.93,909.03 555.39,907.65 556.86,906.27 558.33,904.9 559.8,903.53 561.28,902.17 562.77,900.81 564.25,899.46 565.75,898.11 567.25,896.77 568.75,895.43 570.25,894.09 571.76,892.76 573.28,891.44 574.8,890.12 576.32,888.8 577.85,887.49 579.38,886.19 580.91,884.88 582.45,883.59 583.99,882.3 585.54,881.01 587.09,879.73 588.65,878.45 590.2,877.18 591.76,875.91 593.33,874.64 594.9,873.38 596.47,872.13 598.04,870.88 599.62,869.64 601.2,868.39 602.79,867.16 604.38,865.93 605.97,864.7 607.56,863.48 609.16,862.26 610.76,861.05 612.37,859.84 613.97,858.64 615.58,857.44 617.2,856.25 618.81,855.06 620.43,853.87 622.05,852.7 623.67,851.52 625.3,850.35 626.93,849.18 628.56,848.02 630.19,846.87 631.82,845.71 633.46,844.57 635.1,843.43 636.74,842.29 638.39,841.15 640.04,840.03 641.68,838.9 643.33,837.78 644.99,836.67 646.64,835.56 648.3,834.45 649.96,833.35 651.62,832.26 653.28,831.17" stroke="#ff4242" stroke-width="2.0"/>
<path d="M88.95,1304 90.71,1300.72 91.66,1299.1 93.67,1298.81 95.67,1298.48 97.66,1298.13 99.65,1297.76 101.62,1297.35 103.59,1296.91 105.55,1296.45 107.5,1295.96 109.45,1295.45 111.38,1294.9 113.3,1294.33 115.22,1293.74 117.12,1293.12 119.02,1292.47 120.9,1291.8 122.78,1291.1 124.64,1290.38 126.5,1289.64 128.34,1288.87 130.17,1288.07 131.99,1287.26 133.8,1286.42 135.6,1285.56 137.38,1284.68 139.16,1283.77 140.92,1282.85 142.67,1281.9 144.4,1280.93 146.13,1279.95 147.84,1278.94 149.54,1277.91 151.22,1276.86 152.89,1275.79 154.55,1274.71 156.2,1273.6 157.83,1272.48 159.45,1271.34 161.05,1270.18 162.65,1269 164.23,1267.8 165.8,1266.59 167.35,1265.36 168.9,1264.12 170.43,1262.86 171.95,1261.58 173.46,1260.29 174.96,1258.98 176.44,1257.66 177.92,1256.32 179.38,1254.97 180.83,1253.6 182.27,1252.22 183.7,1250.82 185.12,1249.41 186.52,1247.99 187.92,1246.56 189.3,1245.11 190.68,1243.65 192.04,1242.18 193.4,1240.7 194.74,1239.21 196.07,1237.7 197.4,1236.19 198.71,1234.66 200.02,1233.12 201.31,1231.58 202.59,1230.02 203.87,1228.46 205.13,1226.88 206.39,1225.3 207.64,1223.7 208.87,1222.1 210.1,1220.49 211.32,1218.88 212.53,1217.25 213.74,1215.62 214.93,1213.98 216.12,1212.34 217.29,1210.69 218.46,1209.03 219.62,1207.37 220.77,1205.7 221.92,1204.02 223.06,1202.35 224.19,1200.66 225.31,1198.97 226.42,1197.28 227.53,1195.59 228.63,1193.89 229.72,1192.18 230.8,1190.48 231.88,1188.77 232.95,1187.06 234.02,1185.35 235.08,1183.63 236.13,1181.91 237.17,1180.19 238.21,1178.47 239.24,1176.75 240.27,1175.02 241.28,1173.29 242.3,1171.56 243.3,1169.83 244.3,1168.09 245.3,1166.35 246.29,1164.61 247.27,1162.87 248.25,1161.12 249.22,1159.37 250.18,1157.62 251.14,1155.87 252.1,1154.12 253.04,1152.36 253.99,1150.6 254.92,1148.84 255.86,1147.08 256.78,1145.31 257.71,1143.54 258.62,1141.77 259.54,1140 260.44,1138.22 261.35,1136.44 262.24,1134.66 263.14,1132.88 264.03,1131.1 264.91,1129.31 265.79,1127.52 266.66,1125.73 267.53,1123.93 268.4,1122.14 269.26,1120.34 270.12,1118.54 270.97,1116.74 271.82,1114.93 272.67,1113.12 273.51,1111.31 274.35,1109.5 275.18,1107.68 276.01,1105.87 276.84,1104.05 277.67,1102.23 278.49,1100.4 279.3,1098.58 280.12,1096.75 280.93,1094.92 281.74,1093.09 282.55,1091.26 283.35,1089.42 284.15,1087.59 284.96,1085.75 285.76,1083.91 286.55,1082.08 287.35,1080.24 288.15,1078.4 288.94,1076.55 289.73,1074.71 290.53,1072.87 291.32,1071.03 292.11,1069.18 292.9,1067.34 293.69,1065.5 294.49,1063.65 295.28,1061.81 296.07,1059.97 296.87,1058.12 297.66,1056.28 298.46,1054.44 299.25,1052.59 300.05,1050.75 300.85,1048.91 301.65,1047.07 302.45,1045.23 303.26,1043.39 304.07,1041.56 304.87,1039.72 305.69,1037.89 306.5,1036.05 307.32,1034.22 308.14,1032.39 308.96,1030.56 309.79,1028.74 310.62,1026.91 311.45,1025.09 312.28,1023.26 313.12,1021.44 313.96,1019.62 314.8,1017.8 315.64,1015.98 316.48,1014.16 317.33,1012.35 318.18,1010.53 319.03,1008.72 319.88,1006.9 320.73,1005.09 321.58,1003.27 322.43,1001.46 323.29,999.65 324.14,997.84 325,996.02 325.86,994.21 326.72,992.4 327.57,990.59 328.43,988.78 329.29,986.97 330.15,985.16 331.01,983.34 331.86,981.53 332.72,979.72 333.58,977.91 334.44,976.09 335.29,974.28 336.15,972.47 337,970.65 337.86,968.84 338.71,967.02 339.56,965.2 340.41,963.39 341.26,961.57 342.11,959.75 342.95,957.93 343.8,956.11 344.64,954.28 345.48,952.46 346.32,950.64 347.15,948.81 347.98,946.98 348.81,945.15 349.64,943.32 350.47,941.49 351.29,939.65 352.11,937.82 352.93,935.98 353.75,934.14 354.56,932.3 355.38,930.46 356.19,928.62 357,926.78 357.82,924.94 358.63,923.1 359.44,921.26 360.25,919.42 361.06,917.57 361.87,915.73 362.68,913.89 363.49,912.05 364.3,910.21 365.12,908.37 365.93,906.53 366.75,904.69 367.57,902.85 368.39,901.02 369.21,899.18 370.03,897.35 370.86,895.51 371.69,893.68 372.52,891.85 373.36,890.03 374.2,888.2 375.04,886.38 375.88,884.56 376.73,882.74 377.59,880.92 378.44,879.11 379.31,877.3 380.17,875.49 381.05,873.68 381.92,871.88 382.81,870.08 383.69,868.29 384.59,866.49 385.49,864.7 386.39,862.92 387.3,861.14 388.22,859.36 389.15,857.59 390.08,855.82 391.02,854.05 391.96,852.29 392.92,850.54 393.88,848.78 394.85,847.04 395.82,845.3 396.81,843.56 397.8,841.83 398.81,840.1 399.82,838.38 400.84,836.66 401.87,834.95 402.91,833.25 403.96,831.55 405.02,829.86 406.09,828.17 407.17,826.49 408.26,824.82 409.36,823.15 410.47,821.49 411.59,819.83 412.73,818.19 413.87,816.55 415.03,814.91 416.2,813.29 417.38,811.67 418.57,810.06 419.78,808.45 421,806.86 422.23,805.27 423.48,803.69 424.74,802.11 427.17,803.77 429.05,804.12 431,804.07 433.01,803.72 435.05,803.16 437.1,802.48 439.14,801.79 441.15,801.17 443.11,800.71 445,800.51 446.8,800.65 448.5,801.13 450.14,801.88 451.72,802.85 453.27,803.95 454.8,805.13 456.31,806.35 457.81,807.61 459.31,808.89 460.79,810.21 462.26,811.56 463.71,812.94 465.15,814.35 466.58,815.78 467.99,817.24 469.38,818.73 470.75,820.24 472.11,821.77 473.45,823.32 474.76,824.9 476.06,826.49 477.33,828.1 478.59,829.73 479.82,831.37 481.02,833.03 482.2,834.7 483.36,836.39 484.48,838.08 485.59,839.79 486.66,841.5 487.71,843.22 488.73,844.95 489.72,846.69 490.69,848.44 491.63,850.2 492.55,851.96 493.45,853.74 494.32,855.52 495.17,857.31 495.99,859.1 496.8,860.91 497.58,862.72 498.34,864.54 499.08,866.37 499.8,868.21 500.5,870.05 501.18,871.9 501.84,873.76 502.49,875.62 503.12,877.5 503.73,879.38 504.32,881.26 504.9,883.15 505.46,885.05 506.01,886.96 506.54,888.87 507.06,890.79 507.57,892.72 508.06,894.65 508.54,896.59 509.01,898.53 509.46,900.48 509.91,902.43 510.35,904.39 510.78,906.36 511.21,908.32 511.63,910.29 512.06,912.26 512.48,914.24 512.9,916.21 513.32,918.18 513.75,920.16 514.18,922.13 514.62,924.1 515.07,926.07 515.53,928.03 515.99,929.99 516.47,931.95 516.97,933.91 517.48,935.85 518,937.79 518.55,939.73 519.11,941.66 519.7,943.58 520.31,945.49 520.94,947.39 521.6,949.28 522.28,951.16 523,953.04 523.74,954.9 524.52,956.74 525.32,958.58 526.14,960.41 526.99,962.23 527.85,964.04 528.74,965.85 529.64,967.64 530.56,969.44 531.49,971.22 532.42,973 533.37,974.78 534.32,976.56 535.28,978.33 536.24,980.1 537.2,981.87 538.15,983.64 539.1,985.41 540.05,987.18 540.99,988.96 541.91,990.73 542.83,992.51 543.73,994.3 544.62,996.08 545.51,997.87 546.39,999.66 547.27,1001.45 548.15,1003.23 549.03,1005.02 549.92,1006.79 550.82,1008.57 551.74,1010.34 552.66,1012.1 553.61,1013.85 554.57,1015.6 555.56,1017.33 556.56,1019.06 557.59,1020.77 558.64,1022.47 559.72,1024.16 560.81,1025.84 561.93,1027.5 563.06,1029.15 564.22,1030.78 565.4,1032.4 566.6,1034 567.82,1035.59 569.07,1037.16 570.33,1038.71 571.62,1040.24 572.92,1041.75 574.25,1043.24 575.59,1044.71 576.96,1046.16 578.35,1047.59 579.76,1048.99 581.19,1050.38 582.63,1051.74 584.1,1053.08 585.58,1054.4 587.08,1055.7 588.6,1056.99 590.13,1058.25 591.68,1059.5 593.24,1060.73 594.81,1061.94 596.4,1063.14 598,1064.32 599.61,1065.49 601.23,1066.64 602.86,1067.78 604.5,1068.91 606.14,1070.02 607.8,1071.12 609.46,1072.21 611.13,1073.29 612.81,1074.36 614.49,1075.42 616.17,1076.47 617.86,1077.51 619.55,1078.55 621.24,1079.57 622.94,1080.59 624.65,1081.59 626.36,1082.57 628.08,1083.53 629.82,1084.48 631.56,1085.4 633.32,1086.29 635.1,1087.15 636.9,1087.99 638.71,1088.78 640.55,1089.55 642.4,1090.27 644.29,1090.95 646.19,1091.58 648.13,1092.17 650.09,1092.71 652.09,1093.2 654.11,1093.63" stroke="#000000" stroke-width="2.3"/>
</g>
<path d="M126.38,1304.4V1298.9M173.26,1304.4V1294.4M220.14,1304.4V1298.9M267.01,1304.4V1294.4M313.89,1304.4V1298.9M360.77,1304.4V1294.4M407.65,1304.4V1298.9M454.53,1304.4V1294.4M501.41,1304.4V1298.9M548.29,1304.4V1294.4M595.16,1304.4V1298.9M642.04,1304.4V1294.4M688.92,1304.4V1298.9M79.5,1271.26H85M79.5,1238.12H89.5M79.5,1204.99H85M79.5,1171.85H89.5M79.5,1138.71H85M79.5,1105.58H89.5M79.5,1072.44H85M79.5,1039.3H89.5M79.5,1006.16H85M79.5,973.03H89.5M79.5,939.89H85M79.5,906.75H89.5M79.5,873.61H85M79.5,840.48H89.5M79.5,807.34H85M735.8,1238.12H730.3M735.8,1171.85H725.8M735.8,1105.58H730.3M735.8,1039.3H725.8M735.8,973.03H730.3M735.8,906.75H725.8M735.8,840.48H730.3" stroke="#1a1a1a" stroke-width="2" fill="none"/>
<rect x="79.5" y="774.2" width="656.3" height="530.2" fill="none" stroke="#1a1a1a" stroke-width="2"/>
<g font-size="22.5" fill="#111"><text x="79.5" y="1333" text-anchor="middle">0.0</text><text x="173.26" y="1333" text-anchor="middle">0.2</text><text x="267.01" y="1333" text-anchor="middle">0.4</text><text x="360.77" y="1333" text-anchor="middle">0.6</text><text x="454.53" y="1333" text-anchor="middle">0.8</text><text x="548.29" y="1333" text-anchor="middle">1.0</text><text x="642.04" y="1333" text-anchor="middle">1.2</text><text x="735.8" y="1333" text-anchor="middle">1.4</text><text x="67.5" y="1311.6" text-anchor="end">0</text><text x="67.5" y="1245.33" text-anchor="end">15</text><text x="67.5" y="1179.05" text-anchor="end">30</text><text x="67.5" y="1112.78" text-anchor="end">45</text><text x="67.5" y="1046.5" text-anchor="end">60</text><text x="67.5" y="980.23" text-anchor="end">75</text><text x="67.5" y="913.95" text-anchor="end">90</text><text x="67.5" y="847.68" text-anchor="end">105</text><text x="67.5" y="781.4" text-anchor="end">120</text><text x="747.3" y="1311.6">0.0</text><text x="747.3" y="1179.05">0.2</text><text x="747.3" y="1046.5">0.4</text><text x="747.3" y="913.95">0.6</text><text x="747.3" y="781.4">0.8</text></g>
<text transform="translate(22,1038.3) rotate(-90)" text-anchor="middle" font-size="26.5" fill="#111">σ<tspan font-size="18" dy="7">1</tspan><tspan dy="-7"> / MPa</tspan></text>
<text transform="translate(808.3,1040.3) rotate(-90)" text-anchor="middle" font-size="26.5" fill="#111">Energy/MJ·m<tspan font-size="18" dy="-10">-1</tspan></text>
<text x="407.65" y="1361.9" text-anchor="middle" font-size="26.5" fill="#111"><tspan font-style="italic">ε</tspan><tspan font-size="18" dy="5">1</tspan><tspan dy="-5"> / %</tspan></text>
<path d="M105.2,797.8H155.2" stroke="#000000" stroke-width="2.6999999999999997"/>
<text x="162.2" y="805.3" font-size="22.5" font-style="italic" fill="#111">σ<tspan font-size="15.5" dy="5" font-style="normal">1</tspan></text>
<path d="M105.2,830.5H155.2" stroke="#ff4242" stroke-width="2.4"/>
<text x="162.2" y="838" font-size="22.5" font-style="italic" fill="#111">U</text>
<path d="M105.2,857.8H155.2" stroke="#1766e8" stroke-width="2.5"/>
<text x="162.2" y="865.3" font-size="22.5" font-style="italic" fill="#111">U<tspan font-size="15.5" dy="5" font-style="italic">e</tspan></text>
<path d="M105.2,890.2H155.2" stroke="#3cb878" stroke-width="2.4"/>
<text x="162.2" y="897.7" font-size="22.5" font-style="italic" fill="#111">U<tspan font-size="15.5" dy="5" font-style="italic">d</tspan></text>
<text x="308.9" y="1463.8" font-size="37" fill="#000" textLength="189.8" lengthAdjust="spacingAndGlyphs">(c) <tspan font-style="italic">w</tspan>=2.56%</text>
<rect x="1022.2" y="779.2" width="657.8" height="528.8" fill="url(#gd)"/>
<g clip-path="url(#cd)" fill="none" stroke-linejoin="round" stroke-linecap="round">
<path d="M1022.07,1302.2 1024.06,1302.05 1026.05,1301.9 1028.05,1301.76 1030.04,1301.62 1032.04,1301.48 1034.03,1301.34 1036.03,1301.21 1038.02,1301.08 1040.02,1300.96 1042.01,1300.83 1044.01,1300.71 1046.01,1300.6 1048,1300.48 1050,1300.37 1052,1300.26 1054,1300.15 1056,1300.05 1057.99,1299.95 1059.99,1299.85 1061.99,1299.75 1063.99,1299.65 1065.99,1299.56 1067.99,1299.47 1069.99,1299.38 1071.99,1299.29 1073.99,1299.2 1076,1299.12 1078,1299.04 1080,1298.96 1082,1298.88 1084,1298.8 1086,1298.72 1088.01,1298.64 1090.01,1298.57 1092.01,1298.5 1094.01,1298.42 1096.02,1298.35 1098.02,1298.28 1100.02,1298.21 1102.03,1298.14 1104.03,1298.08 1106.03,1298.01 1108.04,1297.94 1110.04,1297.87 1112.05,1297.81 1114.05,1297.74 1116.05,1297.68 1118.06,1297.61 1120.06,1297.55 1122.07,1297.48 1124.07,1297.42 1126.08,1297.35 1128.08,1297.29 1130.08,1297.22 1132.09,1297.15 1134.09,1297.09 1136.1,1297.02 1138.1,1296.95 1140.11,1296.89 1142.11,1296.82 1144.12,1296.75 1146.12,1296.68 1148.13,1296.61 1150.13,1296.53 1152.13,1296.46 1154.14,1296.39 1156.14,1296.31 1158.15,1296.24 1160.15,1296.16 1162.16,1296.08 1164.16,1296 1166.16,1295.92 1168.17,1295.83 1170.17,1295.75 1172.17,1295.66 1174.18,1295.57 1176.18,1295.48 1178.18,1295.39 1180.19,1295.29 1182.19,1295.19 1184.19,1295.09 1186.2,1294.99 1188.2,1294.89 1190.2,1294.78 1192.2,1294.67 1194.2,1294.56 1196.21,1294.45 1198.21,1294.33 1200.21,1294.21 1202.21,1294.09 1204.21,1293.97 1206.21,1293.84 1208.21,1293.71 1210.21,1293.57 1212.21,1293.44 1214.21,1293.3 1216.21,1293.15 1218.21,1293 1220.21,1292.85 1222.2,1292.7 1224.2,1292.54 1226.2,1292.38 1228.2,1292.21 1230.19,1292.05 1232.19,1291.87 1234.19,1291.7 1236.18,1291.51 1238.18,1291.33 1240.17,1291.14 1242.17,1290.95 1244.16,1290.75 1246.16,1290.55 1248.15,1290.34 1250.14,1290.13 1252.14,1289.91 1254.13,1289.69 1256.12,1289.47 1258.11,1289.24 1260.1,1289 1262.1,1288.76 1264.09,1288.52 1266.08,1288.27 1268.06,1288.01 1270.05,1287.75 1272.04,1287.48 1274.03,1287.21 1276.02,1286.93 1278,1286.65 1279.99,1286.36 1281.98,1286.07 1283.96,1285.77 1285.95,1285.47 1287.93,1285.15 1289.91,1284.84 1291.9,1284.51 1293.88,1284.18 1295.86,1283.85 1297.84,1283.51 1299.83,1283.16 1301.81,1282.8 1303.78,1282.44 1305.76,1282.07 1307.73,1281.69 1309.71,1281.3 1311.68,1280.9 1313.64,1280.49 1315.61,1280.07 1317.57,1279.64 1319.52,1279.19 1321.47,1278.73 1323.42,1278.26 1325.36,1277.78 1327.3,1277.28 1329.23,1276.77 1331.16,1276.24 1333.08,1275.7 1334.99,1275.14 1336.9,1274.56 1338.79,1273.96 1340.69,1273.35 1342.57,1272.72 1344.45,1272.07 1346.31,1271.4 1348.17,1270.71 1350.02,1269.99 1351.86,1269.26 1353.69,1268.51 1355.51,1267.73 1357.32,1266.93 1359.12,1266.1 1360.91,1265.25 1362.69,1264.38 1364.45,1263.49 1366.21,1262.57 1367.95,1261.63 1369.69,1260.66 1371.41,1259.68 1373.13,1258.67 1374.83,1257.65 1376.53,1256.6 1378.21,1255.54 1379.88,1254.46 1381.55,1253.35 1383.2,1252.24 1384.85,1251.1 1386.49,1249.95 1388.11,1248.78 1389.73,1247.59 1391.34,1246.39 1392.94,1245.17 1394.53,1243.94 1396.11,1242.7 1397.69,1241.44 1399.26,1240.18 1400.81,1238.89 1402.36,1237.6 1403.9,1236.3 1405.44,1234.98 1406.96,1233.66 1408.48,1232.32 1409.99,1230.98 1411.5,1229.62 1412.99,1228.26 1414.48,1226.89 1415.96,1225.52 1417.44,1224.13 1418.9,1222.75 1420.36,1221.35 1421.82,1219.95 1423.26,1218.54 1424.7,1217.13 1426.14,1215.72 1427.56,1214.29 1428.98,1212.86 1430.39,1211.43 1431.79,1209.98 1433.18,1208.54 1434.57,1207.08 1435.95,1205.62 1437.32,1204.15 1438.68,1202.68 1440.03,1201.2 1441.37,1199.71 1442.7,1198.22 1444.03,1196.71 1445.34,1195.21 1446.65,1193.69 1447.94,1192.17 1449.23,1190.64 1450.51,1189.1 1451.77,1187.56 1453.03,1186 1454.27,1184.44 1455.51,1182.88 1456.73,1181.3 1457.95,1179.72 1459.15,1178.13 1460.34,1176.53 1461.52,1174.93 1462.69,1173.31 1463.85,1171.69 1464.99,1170.06 1466.13,1168.42 1467.25,1166.77 1468.37,1165.12 1469.47,1163.46 1470.56,1161.79 1471.64,1160.11 1472.71,1158.43 1473.77,1156.74 1474.82,1155.04 1475.86,1153.34 1476.88,1151.63 1477.9,1149.91 1478.91,1148.19 1479.91,1146.46 1480.9,1144.73 1481.88,1142.98 1482.85,1141.24 1483.81,1139.48 1484.76,1137.72 1485.7,1135.96 1486.64,1134.19 1487.56,1132.41 1488.48,1130.63 1489.38,1128.85 1490.28,1127.06 1491.17,1125.26 1492.05,1123.46 1492.93,1121.66 1493.79,1119.85 1494.65,1118.04 1495.5,1116.22 1496.34,1114.4 1497.17,1112.57 1498,1110.75 1498.82,1108.91 1499.63,1107.08 1500.43,1105.24 1501.23,1103.39 1502.01,1101.55 1502.79,1099.7 1503.56,1097.84 1504.32,1095.99 1505.07,1094.13 1505.81,1092.26 1506.54,1090.4 1507.26,1088.53 1507.98,1086.65 1508.68,1084.78 1509.37,1082.9 1510.05,1081.02 1510.72,1079.13 1511.38,1077.25 1512.03,1075.36 1512.67,1073.47 1513.3,1071.57 1513.91,1069.67 1514.52,1067.77 1515.11,1065.87 1515.69,1063.97 1516.25,1062.06 1516.81,1060.15 1517.35,1058.24 1517.88,1056.32 1518.39,1054.41 1518.89,1052.49 1519.37,1050.57 1519.84,1048.64 1520.3,1046.71 1520.74,1044.79 1521.16,1042.85 1521.57,1040.92 1521.96,1038.98 1522.33,1037.04 1522.69,1035.1 1523.03,1033.16 1523.36,1031.21 1523.66,1029.26 1523.95,1027.31 1524.22,1025.36 1524.47,1023.4 1524.7,1021.44 1526.66,1019.97 1528.18,1018.64 1529.69,1017.3 1531.2,1015.96 1532.71,1014.62 1534.22,1013.29 1535.73,1011.95 1537.23,1010.61 1538.74,1009.26 1540.25,1007.92 1541.75,1006.58 1543.25,1005.23 1544.76,1003.89 1546.26,1002.54 1547.76,1001.2 1549.26,999.85 1550.76,998.5 1552.26,997.15 1553.76,995.8 1555.26,994.45 1556.75,993.09 1558.25,991.74 1559.74,990.39 1561.24,989.03 1562.73,987.67 1564.22,986.32 1565.71,984.96 1567.21,983.6 1568.7,982.24 1570.19,980.88 1571.67,979.52 1573.16,978.16 1574.65,976.79 1576.13,975.43 1577.62,974.07 1579.11,972.7 1580.59,971.34 1582.07,969.97 1583.56,968.6 1585.04,967.23 1586.52,965.86 1588,964.49 1589.48,963.12 1590.96,961.75 1592.44,960.38 1593.91,959.01 1595.39,957.63 1596.87,956.26 1598.34,954.89 1599.82,953.51 1601.29,952.13 1602.77,950.76 1604.24,949.38 1605.71,948 1607.18,946.62 1608.65,945.24 1610.12,943.86 1611.59,942.48 1613.06,941.1 1614.53,939.71 1616,938.33 1617.46,936.95 1618.93,935.56 1620.4,934.18 1621.86,932.79 1623.33,931.41 1624.79,930.02 1626.25,928.63 1627.72,927.24 1629.18,925.86 1630.64,924.47 1632.1,923.08 1633.56,921.69 1635.02,920.3 1636.48,918.9 1637.94,917.51 1639.4,916.12 1640.86,914.73 1642.31,913.33 1643.77,911.94 1645.23,910.54 1646.68,909.15 1648.14,907.75 1649.59,906.36 1651.05,904.96" stroke="#3cb878" stroke-width="2.0"/>
<path d="M1022.03,1301.47 1023.98,1301.47 1025.93,1301.48 1027.89,1301.49 1029.85,1301.5 1031.81,1301.52 1033.77,1301.54 1035.74,1301.55 1037.71,1301.57 1039.68,1301.6 1041.66,1301.62 1043.64,1301.64 1045.62,1301.67 1047.6,1301.69 1049.59,1301.72 1051.58,1301.75 1053.57,1301.77 1055.56,1301.8 1057.56,1301.83 1059.55,1301.85 1061.55,1301.88 1063.55,1301.9 1065.56,1301.92 1067.56,1301.95 1069.57,1301.97 1071.58,1301.99 1073.58,1302 1075.59,1302.02 1077.61,1302.03 1079.62,1302.04 1081.63,1302.05 1083.65,1302.06 1085.66,1302.06 1087.68,1302.06 1089.7,1302.06 1091.72,1302.05 1093.74,1302.04 1095.76,1302.02 1097.78,1302.01 1099.8,1301.98 1101.82,1301.96 1103.84,1301.92 1105.86,1301.89 1107.88,1301.85 1109.9,1301.8 1111.92,1301.75 1113.94,1301.69 1115.96,1301.63 1117.98,1301.56 1120,1301.48 1122.02,1301.4 1124.04,1301.31 1126.06,1301.22 1128.08,1301.12 1130.09,1301.01 1132.11,1300.89 1134.12,1300.77 1136.14,1300.64 1138.15,1300.5 1140.16,1300.36 1142.17,1300.2 1144.18,1300.04 1146.18,1299.87 1148.19,1299.69 1150.19,1299.5 1152.19,1299.3 1154.19,1299.09 1156.19,1298.88 1158.19,1298.65 1160.18,1298.41 1162.17,1298.17 1164.16,1297.91 1166.15,1297.64 1168.14,1297.36 1170.12,1297.07 1172.1,1296.78 1174.08,1296.46 1176.05,1296.14 1178.02,1295.81 1179.99,1295.46 1181.96,1295.11 1183.92,1294.74 1185.88,1294.35 1187.84,1293.96 1189.79,1293.55 1191.74,1293.13 1193.69,1292.7 1195.63,1292.25 1197.57,1291.79 1199.5,1291.32 1201.43,1290.83 1203.36,1290.33 1205.29,1289.82 1207.21,1289.29 1209.12,1288.74 1211.03,1288.19 1212.94,1287.61 1214.85,1287.02 1216.74,1286.42 1218.64,1285.8 1220.53,1285.17 1222.41,1284.52 1224.29,1283.86 1226.17,1283.18 1228.04,1282.49 1229.91,1281.79 1231.77,1281.07 1233.63,1280.34 1235.48,1279.59 1237.33,1278.83 1239.17,1278.06 1241.01,1277.28 1242.84,1276.48 1244.67,1275.67 1246.49,1274.85 1248.31,1274.01 1250.12,1273.16 1251.93,1272.3 1253.73,1271.43 1255.53,1270.55 1257.32,1269.65 1259.11,1268.74 1260.89,1267.82 1262.66,1266.89 1264.43,1265.95 1266.2,1265 1267.95,1264.03 1269.71,1263.06 1271.45,1262.07 1273.2,1261.08 1274.93,1260.07 1276.66,1259.05 1278.38,1258.03 1280.1,1256.99 1281.81,1255.94 1283.52,1254.89 1285.22,1253.82 1286.91,1252.74 1288.6,1251.66 1290.28,1250.56 1291.96,1249.46 1293.63,1248.35 1295.29,1247.23 1296.95,1246.1 1298.6,1244.96 1300.24,1243.81 1301.88,1242.66 1303.51,1241.5 1305.14,1240.33 1306.76,1239.16 1308.38,1237.98 1310,1236.79 1311.61,1235.6 1313.21,1234.41 1314.82,1233.21 1316.42,1232 1318.01,1230.79 1319.61,1229.58 1321.2,1228.37 1322.79,1227.15 1324.38,1225.93 1325.96,1224.71 1327.55,1223.49 1329.13,1222.27 1330.71,1221.05 1332.3,1219.82 1333.88,1218.6 1335.46,1217.38 1337.04,1216.16 1338.62,1214.94 1340.21,1213.72 1341.79,1212.5 1343.38,1211.29 1344.97,1210.08 1346.56,1208.87 1348.15,1207.67 1349.74,1206.47 1351.34,1205.27 1352.94,1204.08 1354.54,1202.9 1356.15,1201.72 1357.76,1200.54 1359.37,1199.38 1360.99,1198.22 1362.61,1197.06 1364.24,1195.92 1365.88,1194.78 1367.51,1193.65 1369.16,1192.53 1370.81,1191.42 1372.47,1190.32 1374.13,1189.23 1375.8,1188.15 1377.48,1187.08 1379.16,1186.02 1380.85,1184.97 1382.55,1183.93 1384.26,1182.91 1385.97,1181.9 1387.7,1180.9 1389.43,1179.92 1391.17,1178.94 1392.93,1177.99 1394.69,1177.04 1396.45,1176.11 1398.23,1175.19 1400.01,1174.28 1401.81,1173.39 1403.61,1172.51 1405.41,1171.64 1407.22,1170.78 1409.04,1169.93 1410.87,1169.09 1412.7,1168.26 1414.54,1167.44 1416.39,1166.64 1418.23,1165.84 1420.09,1165.05 1421.95,1164.27 1423.81,1163.5 1425.68,1162.74 1427.55,1161.99 1429.43,1161.24 1431.31,1160.51 1433.19,1159.78 1435.08,1159.06 1436.97,1158.34 1438.87,1157.64 1440.76,1156.94 1442.66,1156.24 1444.56,1155.55 1446.46,1154.87 1448.36,1154.19 1450.27,1153.52 1452.17,1152.86 1454.08,1152.19 1455.58,1152.09 1457.54,1152.15 1459.52,1152.2 1461.52,1152.25 1463.53,1152.3 1465.54,1152.37 1467.56,1152.48 1469.57,1152.62 1471.57,1152.82 1473.56,1153.09 1475.53,1153.44 1477.48,1153.87 1479.39,1154.41 1481.27,1155.06 1483.1,1155.84 1484.9,1156.73 1486.65,1157.74 1488.35,1158.84 1490.01,1160.03 1491.63,1161.31 1493.19,1162.64 1494.71,1164.04 1496.18,1165.48 1497.6,1166.95 1498.96,1168.45 1500.28,1169.97 1501.54,1171.48 1502.75,1173 1503.92,1174.51 1505.05,1176.03 1506.16,1177.57 1507.25,1179.11 1508.35,1180.67 1509.47,1182.23 1510.63,1183.8 1511.82,1185.37 1513.03,1186.96 1514.25,1188.56 1515.46,1190.18 1516.64,1191.84 1517.78,1193.53 1518.84,1195.25 1519.82,1197.02 1520.68,1198.83 1521.41,1200.69 1521.98,1202.6 1522.37,1204.56 1522.56,1206.58 1522.53,1208.66 1522.26,1210.8 1521.72,1213.02 1522.48,1214.94 1523.82,1216.23 1525.25,1217.43 1526.77,1218.56 1528.35,1219.6 1530,1220.58 1531.7,1221.48 1533.46,1222.32 1535.27,1223.11 1537.11,1223.83 1538.99,1224.51 1540.9,1225.13 1542.83,1225.71 1544.78,1226.24 1546.75,1226.74 1548.74,1227.19 1550.73,1227.6 1552.72,1227.98 1554.72,1228.32 1556.73,1228.63 1558.73,1228.91 1560.74,1229.16 1562.74,1229.39 1564.75,1229.6 1566.76,1229.78 1568.77,1229.94 1570.79,1230.08 1572.8,1230.21 1574.81,1230.33 1576.83,1230.43 1578.84,1230.53 1580.85,1230.61 1582.86,1230.69 1584.87,1230.77 1586.89,1230.84 1588.9,1230.91 1590.91,1230.97 1592.91,1231.03 1594.92,1231.08 1596.93,1231.13 1598.94,1231.18 1600.95,1231.23 1602.96,1231.27 1604.96,1231.31 1606.97,1231.34 1608.98,1231.38 1610.99,1231.41 1613,1231.45 1615.01,1231.48 1617.02,1231.51 1619.02,1231.54 1621.03,1231.57 1623.05,1231.6 1625.06,1231.63 1627.07,1231.66 1629.08,1231.69 1631.09,1231.72 1633.11,1231.75 1635.12,1231.79 1637.14,1231.82 1639.16,1231.86 1641.17,1231.9 1643.19,1231.95 1645.21,1231.99 1647.24,1232.04 1649.26,1232.1 1651.28,1232.15" stroke="#1766e8" stroke-width="2.1"/>
<path d="M1022.03,1300.96 1024.02,1300.85 1026,1300.74 1027.99,1300.63 1029.98,1300.53 1031.97,1300.43 1033.96,1300.33 1035.95,1300.24 1037.94,1300.15 1039.93,1300.06 1041.93,1299.98 1043.92,1299.89 1045.92,1299.81 1047.92,1299.73 1049.92,1299.65 1051.92,1299.57 1053.92,1299.5 1055.92,1299.42 1057.92,1299.35 1059.92,1299.27 1061.92,1299.2 1063.93,1299.12 1065.93,1299.05 1067.93,1298.97 1069.94,1298.9 1071.94,1298.82 1073.95,1298.74 1075.95,1298.66 1077.96,1298.58 1079.96,1298.5 1081.97,1298.41 1083.98,1298.32 1085.98,1298.23 1087.99,1298.14 1089.99,1298.05 1092,1297.95 1094,1297.85 1096.01,1297.74 1098.01,1297.63 1100.02,1297.52 1102.02,1297.4 1104.03,1297.28 1106.03,1297.16 1108.03,1297.03 1110.03,1296.89 1112.04,1296.75 1114.04,1296.6 1116.04,1296.45 1118.04,1296.29 1120.04,1296.13 1122.03,1295.96 1124.03,1295.78 1126.03,1295.6 1128.02,1295.41 1130.02,1295.21 1132.01,1295.01 1134,1294.8 1135.99,1294.58 1137.98,1294.35 1139.97,1294.11 1141.96,1293.87 1143.95,1293.62 1145.93,1293.35 1147.91,1293.08 1149.89,1292.8 1151.87,1292.51 1153.85,1292.21 1155.83,1291.9 1157.81,1291.58 1159.78,1291.25 1161.75,1290.91 1163.72,1290.56 1165.69,1290.2 1167.65,1289.83 1169.62,1289.44 1171.58,1289.05 1173.54,1288.64 1175.5,1288.22 1177.46,1287.79 1179.41,1287.34 1181.36,1286.88 1183.31,1286.41 1185.26,1285.93 1187.2,1285.43 1189.14,1284.92 1191.08,1284.4 1193.02,1283.86 1194.95,1283.31 1196.88,1282.75 1198.81,1282.17 1200.73,1281.58 1202.65,1280.98 1204.56,1280.37 1206.47,1279.74 1208.38,1279.09 1210.28,1278.44 1212.17,1277.77 1214.06,1277.08 1215.95,1276.39 1217.83,1275.68 1219.7,1274.95 1221.57,1274.21 1223.43,1273.46 1225.29,1272.7 1227.14,1271.92 1228.99,1271.12 1230.82,1270.32 1232.65,1269.5 1234.48,1268.66 1236.29,1267.82 1238.1,1266.95 1239.91,1266.08 1241.7,1265.19 1243.49,1264.28 1245.27,1263.36 1247.04,1262.43 1248.8,1261.49 1250.55,1260.53 1252.3,1259.55 1254.03,1258.56 1255.76,1257.56 1257.48,1256.54 1259.18,1255.51 1260.88,1254.46 1262.57,1253.41 1264.25,1252.33 1265.92,1251.25 1267.59,1250.15 1269.24,1249.03 1270.88,1247.91 1272.52,1246.77 1274.15,1245.62 1275.77,1244.46 1277.38,1243.28 1278.98,1242.09 1280.57,1240.89 1282.15,1239.68 1283.73,1238.46 1285.3,1237.23 1286.86,1235.99 1288.41,1234.73 1289.95,1233.47 1291.49,1232.19 1293.02,1230.9 1294.53,1229.61 1296.05,1228.3 1297.55,1226.98 1299.05,1225.66 1300.54,1224.32 1302.02,1222.98 1303.49,1221.63 1304.96,1220.27 1306.42,1218.9 1307.87,1217.52 1309.31,1216.13 1310.75,1214.74 1312.18,1213.34 1313.6,1211.93 1315.02,1210.51 1316.43,1209.08 1317.83,1207.65 1319.23,1206.21 1320.62,1204.77 1322,1203.32 1323.37,1201.86 1324.74,1200.39 1326.11,1198.92 1327.46,1197.45 1328.81,1195.97 1330.16,1194.48 1331.49,1192.99 1332.83,1191.49 1334.15,1189.99 1335.47,1188.48 1336.79,1186.97 1338.1,1185.45 1339.4,1183.93 1340.7,1182.41 1341.99,1180.88 1343.28,1179.34 1344.56,1177.8 1345.84,1176.26 1347.11,1174.71 1348.38,1173.16 1349.64,1171.61 1350.9,1170.05 1352.16,1168.49 1353.41,1166.93 1354.65,1165.36 1355.9,1163.79 1357.13,1162.21 1358.37,1160.64 1359.6,1159.05 1360.83,1157.47 1362.05,1155.88 1363.27,1154.3 1364.49,1152.7 1365.71,1151.11 1366.92,1149.51 1368.13,1147.92 1369.34,1146.31 1370.54,1144.71 1371.74,1143.11 1372.94,1141.5 1374.14,1139.89 1375.33,1138.28 1376.53,1136.67 1377.72,1135.05 1378.91,1133.44 1380.1,1131.82 1381.28,1130.21 1382.47,1128.59 1383.65,1126.97 1384.83,1125.35 1386.02,1123.73 1387.2,1122.1 1388.38,1120.48 1389.56,1118.86 1390.73,1117.23 1391.91,1115.61 1393.09,1113.99 1394.27,1112.36 1395.44,1110.74 1396.62,1109.11 1397.8,1107.48 1398.97,1105.86 1400.15,1104.23 1401.32,1102.61 1402.49,1100.98 1403.67,1099.35 1404.84,1097.73 1406.02,1096.1 1407.19,1094.47 1408.36,1092.84 1409.54,1091.22 1410.71,1089.59 1411.88,1087.96 1413.05,1086.33 1414.23,1084.71 1415.4,1083.08 1416.57,1081.45 1417.74,1079.82 1418.92,1078.2 1420.09,1076.57 1421.26,1074.94 1422.44,1073.32 1423.61,1071.69 1424.79,1070.06 1425.96,1068.44 1427.13,1066.81 1428.31,1065.19 1429.48,1063.56 1430.66,1061.94 1431.83,1060.31 1433.01,1058.69 1434.19,1057.07 1435.37,1055.44 1436.54,1053.82 1437.72,1052.2 1438.9,1050.58 1440.08,1048.96 1441.26,1047.34 1442.44,1045.72 1443.62,1044.1 1444.81,1042.48 1445.99,1040.86 1447.17,1039.24 1448.36,1037.63 1449.54,1036.01 1450.73,1034.4 1451.92,1032.78 1453.11,1031.17 1454.29,1029.56 1455.49,1027.94 1456.68,1026.33 1457.87,1024.72 1459.06,1023.11 1460.26,1021.51 1461.45,1019.9 1462.65,1018.29 1463.85,1016.69 1465.05,1015.08 1466.25,1013.48 1467.45,1011.88 1468.65,1010.28 1469.86,1008.68 1471.06,1007.08 1472.27,1005.48 1473.48,1003.88 1474.69,1002.29 1475.9,1000.7 1477.11,999.1 1478.33,997.51 1479.54,995.92 1480.76,994.33 1481.98,992.75 1483.21,991.16 1484.43,989.58 1485.66,988.01 1486.9,986.43 1488.13,984.86 1489.37,983.29 1490.62,981.73 1491.87,980.18 1493.13,978.62 1494.39,977.08 1495.66,975.54 1496.94,974 1498.22,972.48 1499.51,970.96 1500.81,969.45 1502.12,967.94 1503.43,966.45 1504.76,964.96 1506.09,963.48 1507.43,962.01 1508.78,960.55 1510.15,959.1 1511.52,957.66 1512.9,956.23 1514.3,954.81 1515.7,953.4 1517.11,952 1518.53,950.61 1519.96,949.23 1521.4,947.85 1522.85,946.49 1524.31,945.13 1525.77,943.78 1527.25,942.44 1528.73,941.11 1530.22,939.78 1531.72,938.46 1533.22,937.15 1534.73,935.85 1536.25,934.55 1537.78,933.26 1539.31,931.98 1540.85,930.71 1542.39,929.43 1543.94,928.17 1545.49,926.91 1547.05,925.65 1548.62,924.4 1550.18,923.15 1551.75,921.91 1553.32,920.66 1554.9,919.42 1556.48,918.18 1558.06,916.95 1559.64,915.71 1561.22,914.47 1562.8,913.24 1564.38,912 1565.96,910.76 1567.54,909.53 1569.12,908.29 1570.69,907.05 1572.27,905.8 1573.84,904.56 1575.42,903.31 1576.99,902.07 1578.56,900.82 1580.12,899.56 1581.69,898.31 1583.25,897.05 1584.81,895.78 1586.36,894.52 1587.91,893.25 1589.46,891.98 1591.01,890.7 1592.55,889.42 1594.09,888.14 1595.62,886.85 1597.15,885.55 1598.68,884.25 1600.2,882.95 1601.72,881.64 1603.23,880.33 1604.74,879.01 1606.24,877.69 1607.75,876.37 1609.24,875.04 1610.74,873.71 1612.23,872.37 1613.71,871.02 1615.19,869.68 1616.67,868.33 1618.15,866.97 1619.62,865.61 1621.08,864.25 1622.55,862.88 1624.01,861.51 1625.46,860.14 1626.92,858.76 1628.37,857.38 1629.81,855.99 1631.25,854.6 1632.69,853.2 1634.13,851.81 1635.56,850.41 1636.99,849 1638.41,847.59 1639.84,846.18 1641.26,844.76 1642.67,843.34 1644.09,841.92 1645.49,840.49 1646.9,839.06 1648.31,837.63 1649.71,836.2 1651.1,834.76" stroke="#ff4242" stroke-width="2.0"/>
<path d="M1021.97,1300.78 1024.03,1300.74 1026.09,1300.66 1028.14,1300.54 1030.18,1300.37 1032.21,1300.16 1034.24,1299.91 1036.25,1299.62 1038.25,1299.29 1040.25,1298.92 1042.23,1298.52 1044.21,1298.08 1046.18,1297.6 1048.13,1297.08 1050.08,1296.54 1052.02,1295.95 1053.94,1295.34 1055.86,1294.69 1057.77,1294.01 1059.66,1293.3 1061.55,1292.56 1063.42,1291.79 1065.29,1290.99 1067.14,1290.16 1068.98,1289.3 1070.82,1288.42 1072.64,1287.52 1074.45,1286.59 1076.25,1285.63 1078.03,1284.65 1079.81,1283.65 1081.57,1282.63 1083.33,1281.58 1085.07,1280.52 1086.8,1279.43 1088.52,1278.33 1090.22,1277.21 1091.92,1276.07 1093.6,1274.92 1095.27,1273.74 1096.92,1272.56 1098.57,1271.36 1100.2,1270.14 1101.82,1268.92 1103.43,1267.68 1105.02,1266.43 1106.6,1265.17 1108.17,1263.9 1109.72,1262.62 1111.27,1261.33 1113.17,1261.31 1115.12,1261.06 1117.1,1260.8 1119.11,1260.55 1121.14,1260.29 1123.18,1260.01 1125.23,1259.71 1127.28,1259.38 1129.31,1259.02 1131.33,1258.62 1133.32,1258.18 1135.29,1257.69 1137.21,1257.14 1139.1,1256.54 1140.94,1255.87 1142.74,1255.13 1144.48,1254.32 1146.16,1253.43 1147.78,1252.45 1149.33,1251.39 1150.81,1250.23 1152.22,1248.99 1153.56,1247.65 1154.85,1246.25 1156.08,1244.77 1157.27,1243.24 1158.42,1241.66 1159.54,1240.03 1160.64,1238.37 1161.71,1236.69 1162.78,1234.99 1163.83,1233.27 1164.88,1231.54 1165.92,1229.81 1166.96,1228.07 1167.99,1226.32 1169.03,1224.58 1170.07,1222.84 1171.11,1221.1 1172.16,1219.37 1173.21,1217.64 1174.27,1215.92 1175.33,1214.2 1176.39,1212.48 1177.46,1210.77 1178.53,1209.06 1179.6,1207.36 1180.67,1205.65 1181.75,1203.96 1182.83,1202.26 1183.92,1200.57 1185,1198.88 1186.09,1197.19 1187.18,1195.51 1188.27,1193.82 1189.37,1192.14 1190.46,1190.47 1191.56,1188.79 1192.66,1187.12 1193.76,1185.45 1194.86,1183.78 1195.97,1182.11 1197.07,1180.44 1198.18,1178.78 1199.29,1177.11 1200.39,1175.45 1201.5,1173.79 1202.61,1172.13 1203.72,1170.47 1204.83,1168.81 1205.94,1167.15 1207.05,1165.49 1208.17,1163.83 1209.28,1162.17 1210.39,1160.52 1211.5,1158.86 1212.61,1157.2 1213.72,1155.54 1214.82,1153.88 1215.93,1152.22 1217.04,1150.56 1218.15,1148.9 1219.25,1147.24 1220.35,1145.57 1221.46,1143.91 1222.56,1142.24 1223.66,1140.58 1224.75,1138.91 1225.85,1137.24 1226.94,1135.57 1228.04,1133.89 1229.13,1132.22 1230.21,1130.54 1231.3,1128.86 1232.38,1127.18 1233.47,1125.5 1234.55,1123.81 1235.63,1122.13 1236.7,1120.44 1237.78,1118.75 1238.85,1117.06 1239.92,1115.37 1240.99,1113.67 1242.06,1111.98 1243.13,1110.28 1244.19,1108.58 1245.25,1106.89 1246.32,1105.19 1247.38,1103.49 1248.43,1101.78 1249.49,1100.08 1250.55,1098.38 1251.6,1096.67 1252.66,1094.96 1253.71,1093.26 1254.76,1091.55 1255.81,1089.84 1256.85,1088.13 1257.9,1086.42 1258.95,1084.71 1259.99,1083 1261.03,1081.29 1262.08,1079.57 1263.12,1077.86 1264.16,1076.15 1265.2,1074.43 1266.23,1072.72 1267.27,1071 1268.31,1069.29 1269.34,1067.57 1270.38,1065.86 1271.41,1064.14 1272.44,1062.42 1273.48,1060.71 1274.51,1058.99 1275.54,1057.27 1276.57,1055.56 1277.6,1053.84 1278.62,1052.12 1279.65,1050.41 1280.68,1048.69 1281.71,1046.98 1282.74,1045.26 1283.77,1043.55 1284.8,1041.83 1285.82,1040.12 1286.85,1038.4 1287.88,1036.69 1288.91,1034.98 1289.94,1033.26 1290.98,1031.55 1292.01,1029.84 1293.04,1028.13 1294.08,1026.42 1295.11,1024.71 1296.15,1023 1297.18,1021.29 1298.22,1019.59 1299.26,1017.88 1300.31,1016.18 1301.35,1014.47 1302.39,1012.77 1303.44,1011.07 1304.49,1009.37 1305.54,1007.67 1306.59,1005.97 1307.65,1004.28 1308.7,1002.58 1309.76,1000.89 1310.83,999.2 1311.89,997.51 1312.96,995.82 1314.03,994.13 1315.1,992.44 1316.17,990.76 1317.25,989.08 1318.33,987.39 1319.42,985.72 1320.5,984.04 1321.59,982.36 1322.69,980.69 1323.79,979.02 1324.89,977.35 1325.99,975.68 1327.1,974.01 1328.21,972.35 1329.33,970.69 1330.45,969.03 1331.57,967.37 1332.7,965.72 1333.83,964.06 1334.97,962.41 1336.11,960.77 1337.26,959.12 1338.41,957.48 1339.56,955.84 1340.72,954.2 1341.89,952.57 1343.06,950.93 1344.24,949.3 1345.42,947.68 1346.6,946.06 1347.8,944.44 1349,942.83 1350.21,941.23 1351.43,939.63 1352.65,938.04 1353.88,936.46 1355.13,934.88 1356.38,933.31 1357.64,931.76 1358.91,930.21 1360.19,928.67 1361.49,927.14 1362.79,925.63 1364.11,924.12 1365.44,922.63 1366.78,921.15 1368.13,919.68 1369.5,918.23 1370.88,916.79 1372.27,915.37 1373.68,913.96 1375.1,912.57 1376.54,911.19 1377.99,909.83 1379.46,908.49 1380.95,907.16 1382.45,905.86 1383.97,904.57 1385.51,903.3 1387.06,902.05 1388.63,900.82 1390.22,899.61 1391.82,898.42 1393.44,897.24 1395.07,896.08 1396.71,894.93 1398.36,893.79 1400.03,892.68 1401.71,891.57 1403.39,890.48 1405.09,889.39 1406.8,888.32 1408.51,887.26 1410.23,886.21 1411.96,885.17 1413.69,884.14 1415.43,883.11 1417.17,882.1 1418.91,881.08 1420.66,880.08 1422.41,879.08 1424.17,878.08 1425.92,877.09 1427.67,876.1 1429.43,875.11 1431.18,874.13 1432.93,873.14 1434.68,872.16 1436.42,871.17 1438.16,870.19 1439.89,869.2 1441.62,868.21 1443.35,867.22 1445.06,866.22 1446.77,865.22 1448.47,864.22 1450.16,863.2 1451.85,862.19 1453.52,861.16 1455.54,862 1457.53,862.05 1459.54,861.98 1461.56,861.86 1463.57,861.76 1465.57,861.74 1467.53,861.83 1469.47,862.03 1471.37,862.34 1473.25,862.75 1475.08,863.28 1476.88,863.91 1478.65,864.65 1480.37,865.49 1482.04,866.45 1483.67,867.52 1485.26,868.69 1486.8,869.95 1488.29,871.29 1489.73,872.72 1491.12,874.21 1492.47,875.77 1493.76,877.38 1495,879.04 1496.2,880.74 1497.34,882.47 1498.42,884.23 1499.46,886 1500.44,887.78 1501.37,889.56 1502.24,891.33 1503.07,893.1 1503.88,894.86 1504.68,896.61 1505.47,898.35 1506.29,900.08 1507.13,901.8 1508.02,903.51 1508.97,905.21 1509.99,906.9 1511.1,908.58 1512.24,910.25 1513.41,911.93 1514.54,913.63 1515.62,915.35 1516.59,917.11 1517.45,918.91 1518.2,920.74 1518.84,922.6 1519.4,924.5 1519.86,926.42 1520.25,928.36 1520.57,930.33 1520.84,932.32 1521.05,934.33 1521.22,936.35 1521.35,938.38 1521.46,940.41 1521.55,942.46 1521.64,944.5 1521.72,946.54 1521.81,948.59 1521.92,950.62 1522.06,952.65 1522.23,954.66 1522.44,956.66 1522.71,958.64 1523.03,960.61 1523.43,962.55 1523.9,964.46 1525.34,966.01 1526.91,967.32 1528.53,968.59 1530.17,969.82 1531.85,971.02 1533.55,972.19 1535.28,973.33 1537.03,974.45 1538.8,975.54 1540.58,976.61 1542.38,977.67 1544.18,978.72 1546,979.75 1547.82,980.78 1549.64,981.8 1551.46,982.82 1553.27,983.85 1555.08,984.88 1556.88,985.91 1558.66,986.96 1560.43,988.02 1562.52,988.16 1564.53,988.37 1566.54,988.58 1568.54,988.79 1570.55,988.98 1572.57,989.18 1574.58,989.36 1576.59,989.54 1578.6,989.71 1580.61,989.88 1582.63,990.04 1584.64,990.2 1586.66,990.35 1588.67,990.49 1590.69,990.63 1592.7,990.76 1594.72,990.89 1596.74,991.01 1598.76,991.12 1600.77,991.23 1602.79,991.34 1604.81,991.44 1606.83,991.53 1608.85,991.62 1610.87,991.7 1612.89,991.78 1614.91,991.85 1616.93,991.92 1618.95,991.98 1620.97,992.03 1622.99,992.09 1625.01,992.13 1627.03,992.18 1629.05,992.21 1631.07,992.24 1633.09,992.27 1635.11,992.29 1637.13,992.31 1639.15,992.32 1641.17,992.33 1643.19,992.34 1645.21,992.34 1647.23,992.33 1649.24,992.32 1651.26,992.31" stroke="#000000" stroke-width="2.3"/>
</g>
<path d="M1065.37,1302.4V1296.9M1108.55,1302.4V1292.4M1151.72,1302.4V1296.9M1194.89,1302.4V1292.4M1238.07,1302.4V1296.9M1281.24,1302.4V1292.4M1324.41,1302.4V1296.9M1367.59,1302.4V1292.4M1410.76,1302.4V1296.9M1453.93,1302.4V1292.4M1497.11,1302.4V1296.9M1540.28,1302.4V1292.4M1583.45,1302.4V1296.9M1626.63,1302.4V1292.4M1022.2,1269.7H1027.7M1022.2,1237H1032.2M1022.2,1204.3H1027.7M1022.2,1171.6H1032.2M1022.2,1138.9H1027.7M1022.2,1106.2H1032.2M1022.2,1073.5H1027.7M1022.2,1040.8H1032.2M1022.2,1008.1H1027.7M1022.2,975.4H1032.2M1022.2,942.7H1027.7M1022.2,910H1032.2M1022.2,877.3H1027.7M1022.2,844.6H1032.2M1022.2,811.9H1027.7M1669.8,1258.8H1664.3M1669.8,1215.2H1659.8M1669.8,1171.6H1664.3M1669.8,1128H1659.8M1669.8,1084.4H1664.3M1669.8,1040.8H1659.8M1669.8,997.2H1664.3M1669.8,953.6H1659.8M1669.8,910H1664.3M1669.8,866.4H1659.8M1669.8,822.8H1664.3" stroke="#1a1a1a" stroke-width="2" fill="none"/>
<rect x="1022.2" y="779.2" width="647.6" height="523.2" fill="none" stroke="#1a1a1a" stroke-width="2"/>
<g font-size="22.5" fill="#111"><text x="1022.2" y="1331" text-anchor="middle">0.0</text><text x="1108.55" y="1331" text-anchor="middle">0.2</text><text x="1194.89" y="1331" text-anchor="middle">0.4</text><text x="1281.24" y="1331" text-anchor="middle">0.6</text><text x="1367.59" y="1331" text-anchor="middle">0.8</text><text x="1453.93" y="1331" text-anchor="middle">1.0</text><text x="1540.28" y="1331" text-anchor="middle">1.2</text><text x="1626.63" y="1331" text-anchor="middle">1.4</text><text x="1010.2" y="1309.6" text-anchor="end">0</text><text x="1010.2" y="1244.2" text-anchor="end">15</text><text x="1010.2" y="1178.8" text-anchor="end">30</text><text x="1010.2" y="1113.4" text-anchor="end">45</text><text x="1010.2" y="1048" text-anchor="end">60</text><text x="1010.2" y="982.6" text-anchor="end">75</text><text x="1010.2" y="917.2" text-anchor="end">90</text><text x="1010.2" y="851.8" text-anchor="end">105</text><text x="1010.2" y="786.4" text-anchor="end">120</text><text x="1681.3" y="1309.6">0.00</text><text x="1681.3" y="1222.4">0.15</text><text x="1681.3" y="1135.2">0.30</text><text x="1681.3" y="1048">0.45</text><text x="1681.3" y="960.8">0.60</text><text x="1681.3" y="873.6">0.75</text><text x="1681.3" y="786.4">0.90</text></g>
<text transform="translate(964.7,1039.8) rotate(-90)" text-anchor="middle" font-size="26.5" fill="#111">σ<tspan font-size="18" dy="7">1</tspan><tspan dy="-7"> / MPa</tspan></text>
<text transform="translate(1755.3,1041.8) rotate(-90)" text-anchor="middle" font-size="26.5" fill="#111">Energy/MJ·m<tspan font-size="18" dy="-10">-1</tspan></text>
<text x="1346" y="1359.9" text-anchor="middle" font-size="26.5" fill="#111"><tspan font-style="italic">ε</tspan><tspan font-size="18" dy="5">1</tspan><tspan dy="-5"> / %</tspan></text>
<path d="M1042,802.9H1092" stroke="#000000" stroke-width="2.6999999999999997"/>
<text x="1099" y="810.4" font-size="22.5" font-style="italic" fill="#111">σ<tspan font-size="15.5" dy="5" font-style="normal">1</tspan></text>
<path d="M1042,834.9H1092" stroke="#ff4242" stroke-width="2.4"/>
<text x="1099" y="842.4" font-size="22.5" font-style="italic" fill="#111">U</text>
<path d="M1042,863H1092" stroke="#1766e8" stroke-width="2.5"/>
<text x="1099" y="870.5" font-size="22.5" font-style="italic" fill="#111">U<tspan font-size="15.5" dy="5" font-style="italic">e</tspan></text>
<path d="M1042,894.6H1092" stroke="#3cb878" stroke-width="2.4"/>
<text x="1099" y="902.1" font-size="22.5" font-style="italic" fill="#111">U<tspan font-size="15.5" dy="5" font-style="italic">d</tspan></text>
<text x="1249.5" y="1463.8" font-size="37" fill="#000" textLength="196" lengthAdjust="spacingAndGlyphs">(d) <tspan font-style="italic">w</tspan>=5.01%</text>
<rect x="557.6" y="1538.3" width="656" height="530.3" fill="url(#ge)"/>
<g clip-path="url(#ce)" fill="none" stroke-linejoin="round" stroke-linecap="round">
<path d="M557.57,2068.82 559.5,2068.63 561.44,2068.45 563.38,2068.28 565.33,2068.1 567.27,2067.94 569.22,2067.78 571.17,2067.62 573.12,2067.46 575.08,2067.31 577.04,2067.17 579,2067.02 580.96,2066.88 582.92,2066.75 584.89,2066.62 586.86,2066.49 588.83,2066.36 590.81,2066.24 592.78,2066.12 594.76,2066 596.74,2065.89 598.72,2065.78 600.71,2065.67 602.69,2065.56 604.68,2065.45 606.67,2065.35 608.66,2065.25 610.65,2065.15 612.65,2065.06 614.64,2064.96 616.64,2064.87 618.64,2064.78 620.64,2064.69 622.64,2064.6 624.65,2064.51 626.65,2064.43 628.66,2064.34 630.66,2064.26 632.67,2064.17 634.68,2064.09 636.69,2064.01 638.71,2063.93 640.72,2063.84 642.73,2063.76 644.75,2063.68 646.76,2063.6 648.78,2063.52 650.8,2063.44 652.82,2063.35 654.83,2063.27 656.85,2063.19 658.87,2063.11 660.9,2063.02 662.92,2062.94 664.94,2062.85 666.96,2062.76 668.98,2062.67 671.01,2062.58 673.03,2062.49 675.06,2062.4 677.08,2062.31 679.1,2062.21 681.13,2062.11 683.15,2062.01 685.18,2061.91 687.2,2061.81 689.23,2061.7 691.25,2061.59 693.28,2061.48 695.3,2061.36 697.33,2061.25 699.35,2061.13 701.37,2061 703.4,2060.88 705.42,2060.75 707.44,2060.62 709.47,2060.48 711.49,2060.34 713.51,2060.2 715.53,2060.06 717.55,2059.9 719.57,2059.75 721.59,2059.59 723.61,2059.43 725.63,2059.26 727.64,2059.09 729.66,2058.92 731.67,2058.74 733.69,2058.55 735.7,2058.36 737.71,2058.17 739.72,2057.97 741.73,2057.77 743.74,2057.56 745.75,2057.34 747.75,2057.12 749.76,2056.89 751.76,2056.66 753.76,2056.42 755.76,2056.18 757.76,2055.93 759.76,2055.68 761.75,2055.41 763.75,2055.14 765.74,2054.87 767.73,2054.59 769.72,2054.3 771.71,2054.01 773.69,2053.7 775.68,2053.4 777.66,2053.08 779.64,2052.76 781.61,2052.43 783.59,2052.09 785.56,2051.74 787.53,2051.39 789.5,2051.03 791.47,2050.66 793.44,2050.29 795.4,2049.9 797.36,2049.51 799.32,2049.11 801.27,2048.7 803.22,2048.28 805.17,2047.85 807.12,2047.42 809.07,2046.97 811.01,2046.52 812.95,2046.06 814.88,2045.59 816.82,2045.11 818.75,2044.62 820.68,2044.12 822.6,2043.61 824.53,2043.09 826.45,2042.56 828.36,2042.02 830.28,2041.47 832.19,2040.91 834.09,2040.34 836,2039.76 837.9,2039.17 839.79,2038.57 841.69,2037.96 843.58,2037.34 845.47,2036.7 847.35,2036.06 849.23,2035.41 851.11,2034.74 852.98,2034.06 854.85,2033.37 856.71,2032.67 858.57,2031.96 860.43,2031.23 862.29,2030.5 864.14,2029.75 865.98,2028.99 867.82,2028.21 869.66,2027.43 871.5,2026.63 873.33,2025.82 875.15,2025 876.97,2024.16 878.79,2023.32 880.6,2022.46 882.4,2021.59 884.2,2020.71 885.99,2019.81 887.78,2018.9 889.56,2017.98 891.34,2017.05 893.11,2016.1 894.87,2015.15 896.63,2014.18 898.38,2013.2 900.12,2012.2 901.86,2011.19 903.59,2010.18 905.31,2009.14 907.03,2008.1 908.73,2007.04 910.43,2005.97 912.12,2004.89 913.81,2003.8 915.48,2002.69 917.15,2001.57 918.81,2000.44 920.46,1999.3 922.1,1998.14 923.73,1996.97 925.35,1995.79 926.97,1994.6 928.57,1993.39 930.17,1992.17 931.75,1990.94 933.33,1989.7 934.89,1988.44 936.45,1987.17 937.99,1985.89 939.52,1984.6 941.05,1983.29 942.56,1981.97 944.06,1980.64 945.55,1979.29 947.03,1977.93 948.5,1976.56 949.95,1975.18 951.4,1973.78 952.83,1972.37 954.25,1970.95 955.66,1969.52 957.05,1968.07 958.44,1966.62 959.81,1965.15 961.18,1963.67 962.54,1962.19 963.89,1960.69 965.23,1959.19 966.56,1957.68 967.89,1956.16 969.21,1954.64 970.52,1953.11 971.83,1951.58 973.14,1950.04 974.44,1948.5 975.74,1946.96 977.03,1945.42 978.33,1943.87 979.62,1942.32 980.91,1940.78 982.2,1939.23 983.5,1937.69 984.79,1936.14 986.08,1934.6 987.38,1933.07 988.68,1931.54 989.98,1930.01 991.29,1928.48 992.6,1926.97 993.91,1925.46 995.23,1923.95 996.56,1922.46 997.89,1920.97 999.24,1919.49 1000.59,1918.03 1001.94,1916.57 1003.31,1915.12 1004.69,1913.69 1006.07,1912.26 1007.47,1910.86 1008.88,1909.46 1009.11,1907.41 1009.39,1905.4 1009.74,1903.41 1010.16,1901.46 1010.65,1899.52 1011.2,1897.62 1011.8,1895.73 1012.46,1893.86 1013.17,1892.02 1013.93,1890.19 1014.73,1888.37 1015.56,1886.58 1016.43,1884.79 1017.33,1883.01 1018.26,1881.25 1019.21,1879.49 1020.18,1877.74 1021.16,1876 1022.16,1874.26 1023.17,1872.53 1024.2,1870.8 1025.23,1869.08 1026.27,1867.36 1027.31,1865.64 1028.36,1863.93 1029.41,1862.21 1030.46,1860.5 1031.51,1858.79 1032.56,1857.08 1033.6,1855.37 1034.63,1853.65 1035.66,1851.94 1036.68,1850.22 1037.7,1848.51 1038.71,1846.79 1039.73,1845.08 1040.74,1843.37 1041.76,1841.67 1042.78,1839.97 1043.8,1838.27 1044.84,1836.59 1045.88,1834.9 1046.93,1833.23 1047.99,1831.57 1049.06,1829.91 1050.14,1828.25 1051.24,1826.61 1052.34,1824.97 1053.45,1823.34 1054.56,1821.71 1055.69,1820.09 1056.83,1818.48 1057.98,1816.86 1059.14,1815.26 1060.3,1813.66 1061.47,1812.06 1062.66,1810.47 1063.85,1808.89 1065.05,1807.3 1066.26,1805.73 1067.48,1804.16 1068.7,1802.59 1069.94,1801.03 1071.18,1799.47 1072.43,1797.92 1073.68,1796.38 1074.95,1794.83 1076.22,1793.3 1077.5,1791.77 1078.79,1790.24 1080.09,1788.72 1081.39,1787.2 1082.7,1785.69 1084.01,1784.18 1085.34,1782.68 1086.67,1781.18 1088.01,1779.68 1089.35,1778.2 1090.7,1776.71 1092.06,1775.23 1093.42,1773.76 1094.79,1772.29 1096.16,1770.83 1097.54,1769.37 1098.93,1767.91 1100.32,1766.46 1101.72,1765.02 1103.12,1763.57 1104.53,1762.14 1105.94,1760.71 1107.36,1759.28 1108.79,1757.86 1110.22,1756.44 1111.65,1755.03 1113.09,1753.62 1114.53,1752.22 1115.98,1750.82 1117.43,1749.42 1118.89,1748.04 1120.35,1746.65 1121.82,1745.27 1123.29,1743.89 1124.76,1742.52 1126.24,1741.16 1127.72,1739.8 1129.2,1738.44 1130.69,1737.09 1132.18,1735.74 1133.67,1734.39 1135.17,1733.06 1136.67,1731.72 1138.17,1730.39 1139.68,1729.07 1141.19,1727.75 1142.7,1726.43 1144.21,1725.12 1145.73,1723.81 1147.25,1722.51 1148.77,1721.21 1150.29,1719.91 1151.82,1718.63 1153.35,1717.34 1154.88,1716.06 1156.41,1714.78 1157.94,1713.51 1159.47,1712.25 1161.01,1710.98 1162.54,1709.72 1164.08,1708.47 1165.62,1707.22 1167.16,1705.98 1168.7,1704.73 1170.24,1703.5 1171.78,1702.27 1173.32,1701.04" stroke="#3cb878" stroke-width="2.0"/>
<path d="M556.99,2067.92 558.98,2067.98 560.97,2068.05 562.96,2068.11 564.95,2068.17 566.94,2068.22 568.94,2068.28 570.94,2068.33 572.93,2068.37 574.93,2068.42 576.93,2068.46 578.94,2068.49 580.94,2068.52 582.94,2068.55 584.95,2068.57 586.95,2068.59 588.96,2068.61 590.97,2068.62 592.98,2068.63 594.99,2068.63 597,2068.63 599.01,2068.62 601.02,2068.61 603.03,2068.59 605.05,2068.57 607.06,2068.54 609.07,2068.51 611.09,2068.47 613.1,2068.42 615.11,2068.37 617.13,2068.32 619.14,2068.26 621.16,2068.19 623.17,2068.12 625.18,2068.04 627.2,2067.95 629.21,2067.86 631.22,2067.76 633.23,2067.65 635.25,2067.54 637.26,2067.42 639.27,2067.29 641.28,2067.16 643.29,2067.02 645.3,2066.87 647.3,2066.71 649.31,2066.55 651.32,2066.38 653.32,2066.2 655.33,2066.01 657.33,2065.82 659.33,2065.61 661.33,2065.4 663.33,2065.18 665.32,2064.95 667.32,2064.72 669.31,2064.47 671.31,2064.22 673.3,2063.95 675.29,2063.68 677.27,2063.4 679.26,2063.11 681.24,2062.81 683.23,2062.5 685.21,2062.18 687.18,2061.85 689.16,2061.51 691.13,2061.16 693.1,2060.8 695.07,2060.43 697.04,2060.05 699,2059.66 700.96,2059.26 702.92,2058.85 704.88,2058.43 706.83,2058 708.78,2057.55 710.73,2057.1 712.67,2056.63 714.61,2056.16 716.55,2055.67 718.49,2055.17 720.42,2054.66 722.35,2054.13 724.28,2053.6 726.2,2053.05 728.12,2052.49 730.03,2051.92 731.95,2051.34 733.85,2050.74 735.76,2050.13 737.66,2049.51 739.56,2048.88 741.45,2048.23 743.34,2047.57 745.23,2046.9 747.11,2046.21 748.99,2045.51 750.86,2044.8 752.73,2044.08 754.6,2043.34 756.46,2042.59 758.32,2041.83 760.17,2041.06 762.02,2040.28 763.87,2039.5 765.72,2038.7 767.56,2037.89 769.4,2037.08 771.23,2036.26 773.06,2035.43 774.89,2034.59 776.72,2033.75 778.54,2032.9 780.36,2032.05 782.18,2031.19 783.99,2030.33 785.81,2029.46 787.62,2028.6 789.42,2027.72 791.23,2026.85 793.03,2025.97 794.83,2025.1 796.63,2024.22 798.43,2023.33 800.22,2022.45 802.02,2021.56 803.8,2020.67 805.59,2019.77 807.38,2018.87 809.16,2017.97 810.94,2017.06 812.72,2016.15 814.49,2015.23 816.26,2014.31 818.03,2013.39 819.8,2012.45 821.56,2011.51 823.33,2010.57 825.09,2009.62 826.84,2008.66 828.6,2007.7 830.35,2006.72 832.09,2005.74 833.84,2004.76 835.58,2003.76 837.32,2002.76 839.06,2001.75 840.79,2000.73 842.53,1999.71 844.26,1998.67 845.98,1997.64 847.71,1996.59 849.44,1995.55 851.16,1994.49 852.88,1993.44 854.6,1992.38 856.32,1991.32 858.04,1990.25 859.76,1989.19 861.48,1988.12 863.19,1987.05 864.91,1985.99 866.63,1984.92 868.35,1983.85 870.07,1982.78 871.79,1981.72 873.51,1980.66 875.23,1979.6 876.95,1978.54 878.67,1977.49 880.4,1976.44 882.13,1975.4 883.86,1974.36 885.59,1973.33 887.32,1972.3 889.06,1971.28 890.79,1970.27 892.54,1969.26 894.28,1968.27 896.03,1967.28 897.78,1966.3 899.53,1965.33 901.29,1964.38 903.05,1963.43 904.82,1962.49 906.59,1961.57 908.36,1960.66 910.14,1959.76 911.93,1958.87 913.71,1958 915.51,1957.14 917.31,1956.3 919.11,1955.47 920.92,1954.66 922.74,1953.86 924.56,1953.08 926.39,1952.32 928.22,1951.58 930.06,1950.85 931.91,1950.15 933.77,1949.46 935.63,1948.79 937.5,1948.15 939.37,1947.52 941.26,1946.92 943.15,1946.33 945.05,1945.77 946.95,1945.23 948.86,1944.71 950.78,1944.21 952.71,1943.73 954.63,1943.27 956.57,1942.84 958.51,1942.42 960.46,1942.03 962.41,1941.66 964.37,1941.3 966.33,1940.97 968.29,1940.66 970.26,1940.37 972.23,1940.11 974.21,1939.86 976.19,1939.63 978.18,1939.43 980.16,1939.25 982.15,1939.08 984.14,1938.94 986.14,1938.82 988.14,1938.72 990.14,1938.64 992.14,1938.58 994.14,1938.54 996.14,1938.52 998.14,1938.52 1000.15,1938.54 1002.15,1938.58 1004.16,1938.64 1006.17,1938.72 1008.17,1938.82 1010.18,1938.93 1009.38,1940.95 1009.2,1943.23 1009.44,1945.23 1010.06,1946.99 1010.98,1948.54 1012.17,1949.92 1013.56,1951.18 1015.09,1952.34 1016.72,1953.45 1018.38,1954.54 1020.08,1955.61 1021.8,1956.66 1023.54,1957.69 1025.28,1958.71 1027.01,1959.72 1028.74,1960.72 1030.46,1961.69 1032.19,1962.63 1033.96,1963.49 1035.76,1964.29 1037.58,1965.05 1039.39,1965.8 1041.16,1966.59 1042.87,1967.44 1044.5,1968.39 1046.01,1969.49 1047.39,1970.75 1048.61,1972.23 1049.64,1973.95 1050.46,1975.95 1052.36,1976.51 1054.37,1976.74 1056.39,1976.95 1058.41,1977.16 1060.43,1977.35 1062.45,1977.54 1064.47,1977.71 1066.5,1977.87 1068.52,1978.03 1070.54,1978.18 1072.57,1978.31 1074.59,1978.44 1076.62,1978.56 1078.64,1978.67 1080.67,1978.78 1082.69,1978.88 1084.72,1978.97 1086.75,1979.05 1088.78,1979.13 1090.8,1979.2 1092.83,1979.26 1094.86,1979.32 1096.89,1979.37 1098.92,1979.42 1100.95,1979.46 1102.98,1979.5 1105.01,1979.53 1107.04,1979.56 1109.07,1979.58 1111.1,1979.6 1113.14,1979.62 1115.17,1979.63 1117.2,1979.65 1119.23,1979.65 1121.26,1979.66 1123.29,1979.66 1125.32,1979.67 1127.36,1979.67 1129.39,1979.67 1131.42,1979.67 1133.45,1979.67 1135.48,1979.66 1137.51,1979.66 1139.54,1979.66 1141.58,1979.66 1143.61,1979.66 1145.64,1979.66 1147.67,1979.66 1149.7,1979.66 1151.73,1979.66 1153.76,1979.67 1155.79,1979.68 1157.81,1979.69 1159.84,1979.7 1161.87,1979.72 1163.9,1979.74 1165.93,1979.77 1167.95,1979.79 1169.98,1979.83 1172.01,1979.86 1174.03,1979.9" stroke="#1766e8" stroke-width="2.1"/>
<path d="M556.87,2066.92 558.88,2067.02 560.88,2067.11 562.89,2067.2 564.9,2067.27 566.91,2067.34 568.91,2067.41 570.92,2067.46 572.93,2067.51 574.94,2067.55 576.96,2067.58 578.97,2067.6 580.98,2067.62 582.99,2067.62 585,2067.62 587.01,2067.61 589.02,2067.6 591.03,2067.57 593.04,2067.54 595.05,2067.5 597.06,2067.45 599.07,2067.39 601.08,2067.33 603.09,2067.25 605.1,2067.17 607.11,2067.08 609.12,2066.98 611.12,2066.87 613.13,2066.75 615.13,2066.62 617.14,2066.49 619.14,2066.34 621.14,2066.19 623.14,2066.03 625.14,2065.85 627.14,2065.67 629.14,2065.48 631.13,2065.29 633.13,2065.08 635.12,2064.86 637.11,2064.63 639.1,2064.4 641.09,2064.15 643.08,2063.9 645.06,2063.63 647.05,2063.36 649.03,2063.07 651.01,2062.78 652.98,2062.48 654.96,2062.16 656.93,2061.84 658.9,2061.51 660.87,2061.16 662.84,2060.81 664.8,2060.45 666.76,2060.08 668.72,2059.69 670.68,2059.3 672.63,2058.89 674.59,2058.48 676.54,2058.05 678.48,2057.62 680.42,2057.17 682.37,2056.72 684.3,2056.25 686.24,2055.77 688.17,2055.28 690.1,2054.79 692.02,2054.28 693.94,2053.76 695.86,2053.22 697.78,2052.68 699.69,2052.13 701.6,2051.56 703.5,2050.99 705.4,2050.4 707.3,2049.8 709.2,2049.19 711.09,2048.57 712.97,2047.94 714.85,2047.3 716.73,2046.64 718.61,2045.97 720.48,2045.29 722.34,2044.6 724.21,2043.9 726.06,2043.19 727.92,2042.46 729.77,2041.73 731.61,2040.98 733.45,2040.22 735.29,2039.44 737.12,2038.66 738.94,2037.86 740.77,2037.06 742.58,2036.24 744.39,2035.4 746.2,2034.56 748.01,2033.71 749.8,2032.84 751.6,2031.97 753.39,2031.08 755.17,2030.19 756.95,2029.28 758.72,2028.36 760.49,2027.43 762.26,2026.49 764.02,2025.54 765.77,2024.58 767.52,2023.61 769.27,2022.64 771.01,2021.65 772.74,2020.65 774.47,2019.64 776.2,2018.62 777.92,2017.59 779.63,2016.56 781.34,2015.51 783.05,2014.46 784.74,2013.4 786.44,2012.32 788.13,2011.24 789.81,2010.15 791.49,2009.05 793.16,2007.95 794.83,2006.83 796.49,2005.71 798.15,2004.58 799.8,2003.44 801.44,2002.29 803.08,2001.14 804.72,1999.97 806.35,1998.8 807.97,1997.62 809.59,1996.44 811.2,1995.24 812.81,1994.04 814.41,1992.83 816.01,1991.62 817.6,1990.39 819.18,1989.16 820.76,1987.92 822.34,1986.68 823.9,1985.43 825.47,1984.17 827.02,1982.9 828.57,1981.63 830.12,1980.35 831.66,1979.06 833.19,1977.77 834.72,1976.47 836.24,1975.16 837.75,1973.85 839.26,1972.53 840.76,1971.2 842.26,1969.87 843.75,1968.54 845.24,1967.19 846.72,1965.84 848.19,1964.49 849.66,1963.13 851.12,1961.76 852.58,1960.39 854.02,1959.01 855.47,1957.63 856.9,1956.24 858.34,1954.84 859.76,1953.44 861.18,1952.04 862.6,1950.63 864.01,1949.21 865.41,1947.79 866.81,1946.37 868.2,1944.94 869.59,1943.5 870.98,1942.06 872.36,1940.62 873.73,1939.17 875.1,1937.72 876.46,1936.26 877.82,1934.8 879.18,1933.34 880.53,1931.87 881.88,1930.4 883.22,1928.92 884.56,1927.44 885.9,1925.95 887.23,1924.47 888.56,1922.98 889.88,1921.48 891.2,1919.98 892.52,1918.48 893.83,1916.98 895.14,1915.47 896.45,1913.96 897.75,1912.44 899.05,1910.93 900.35,1909.41 901.64,1907.89 902.94,1906.36 904.23,1904.83 905.51,1903.3 906.8,1901.77 908.08,1900.24 909.36,1898.7 910.63,1897.16 911.91,1895.62 913.18,1894.08 914.45,1892.53 915.72,1890.99 916.99,1889.44 918.25,1887.89 919.52,1886.34 920.78,1884.78 922.04,1883.23 923.3,1881.67 924.55,1880.12 925.81,1878.56 927.07,1877 928.32,1875.44 929.57,1873.88 930.83,1872.32 932.08,1870.76 933.33,1869.19 934.58,1867.63 935.83,1866.07 937.08,1864.5 938.33,1862.94 939.58,1861.37 940.83,1859.81 942.07,1858.24 943.32,1856.68 944.57,1855.11 945.82,1853.55 947.07,1851.98 948.32,1850.42 949.57,1848.85 950.82,1847.29 952.07,1845.73 953.33,1844.17 954.58,1842.6 955.83,1841.04 957.09,1839.48 958.34,1837.93 959.6,1836.37 960.86,1834.81 962.12,1833.26 963.38,1831.7 964.65,1830.15 965.91,1828.6 967.18,1827.05 968.44,1825.51 969.71,1823.96 970.99,1822.42 972.26,1820.87 973.54,1819.33 974.81,1817.79 976.09,1816.26 977.37,1814.72 978.66,1813.19 979.94,1811.66 981.23,1810.13 982.52,1808.6 983.81,1807.07 985.1,1805.55 986.4,1804.02 987.69,1802.5 988.99,1800.98 990.29,1799.46 991.59,1797.95 992.89,1796.43 994.2,1794.92 995.51,1793.41 996.81,1791.9 998.12,1790.39 999.44,1788.88 1000.75,1787.38 1002.07,1785.87 1003.38,1784.37 1004.7,1782.87 1006.02,1781.37 1007.35,1779.87 1008.67,1778.38 1010,1776.88 1011.32,1775.39 1012.65,1773.9 1013.98,1772.41 1015.32,1770.92 1016.65,1769.44 1017.99,1767.95 1019.33,1766.47 1020.67,1764.99 1022.01,1763.51 1023.35,1762.03 1024.69,1760.55 1026.04,1759.08 1027.39,1757.6 1028.74,1756.13 1030.09,1754.66 1031.44,1753.19 1032.8,1751.72 1034.15,1750.26 1035.51,1748.79 1036.87,1747.33 1038.23,1745.87 1039.59,1744.41 1040.96,1742.95 1042.32,1741.49 1043.69,1740.03 1045.06,1738.58 1046.43,1737.13 1047.8,1735.67 1049.17,1734.22 1050.55,1732.78 1051.93,1731.33 1053.3,1729.88 1054.68,1728.44 1056.06,1726.99 1057.45,1725.55 1058.83,1724.11 1060.22,1722.67 1061.6,1721.23 1062.99,1719.8 1064.38,1718.36 1065.77,1716.93 1067.17,1715.5 1068.56,1714.07 1069.96,1712.64 1071.36,1711.21 1072.75,1709.78 1074.15,1708.36 1075.56,1706.93 1076.96,1705.51 1078.36,1704.09 1079.77,1702.67 1081.18,1701.25 1082.59,1699.83 1084,1698.41 1085.41,1697 1086.82,1695.58 1088.24,1694.17 1089.65,1692.76 1091.07,1691.35 1092.49,1689.94 1093.91,1688.53 1095.33,1687.13 1096.75,1685.72 1098.18,1684.32 1099.6,1682.92 1101.03,1681.51 1102.46,1680.11 1103.89,1678.71 1105.32,1677.32 1106.75,1675.92 1108.18,1674.53 1109.62,1673.13 1111.06,1671.74 1112.49,1670.35 1113.93,1668.96 1115.37,1667.57 1116.81,1666.18 1118.26,1664.79 1119.7,1663.4 1121.14,1662.02 1122.59,1660.64 1124.04,1659.25 1125.49,1657.87 1126.94,1656.49 1128.39,1655.11 1129.84,1653.74 1131.29,1652.36 1132.75,1650.98 1134.21,1649.61 1135.66,1648.23 1137.12,1646.86 1138.58,1645.49 1140.04,1644.12 1141.5,1642.75 1142.97,1641.38 1144.43,1640.02 1145.9,1638.65 1147.36,1637.28 1148.83,1635.92 1150.3,1634.56 1151.77,1633.2 1153.24,1631.84 1154.72,1630.48 1156.19,1629.12 1157.66,1627.76 1159.14,1626.4 1160.62,1625.05 1162.09,1623.69 1163.57,1622.34 1165.05,1620.98 1166.54,1619.63 1168.02,1618.28 1169.5,1616.93 1170.99,1615.58 1172.47,1614.24 1173.96,1612.89" stroke="#ff4242" stroke-width="2.0"/>
<path d="M556.91,2066.65 558.91,2066.24 560.9,2065.82 562.87,2065.37 564.84,2064.89 566.8,2064.4 568.75,2063.87 570.69,2063.33 572.61,2062.75 574.53,2062.16 576.44,2061.53 578.33,2060.89 580.21,2060.21 582.08,2059.51 583.94,2058.79 585.79,2058.04 587.62,2057.26 589.44,2056.45 591.25,2055.62 593.05,2054.76 594.83,2053.88 596.59,2052.96 598.35,2052.02 600.08,2051.05 601.81,2050.05 603.52,2049.03 605.21,2047.97 606.89,2046.89 608.55,2045.78 610.2,2044.64 611.83,2043.47 613.44,2042.27 615.04,2041.04 616.62,2039.78 618.19,2038.49 619.73,2037.18 621.26,2035.83 622.77,2034.45 623.92,2033.14 625.24,2031.61 626.56,2030.08 627.87,2028.54 629.18,2027.01 630.48,2025.47 631.78,2023.93 633.08,2022.38 634.37,2020.84 635.66,2019.29 636.94,2017.74 638.22,2016.19 639.5,2014.63 640.77,2013.08 642.04,2011.52 643.31,2009.96 644.57,2008.39 645.83,2006.83 647.08,2005.26 648.33,2003.69 649.58,2002.12 650.82,2000.54 652.06,1998.97 653.3,1997.39 654.53,1995.81 655.77,1994.23 656.99,1992.65 658.22,1991.06 659.44,1989.47 660.66,1987.88 661.87,1986.29 663.08,1984.7 664.29,1983.1 665.49,1981.5 666.7,1979.91 667.9,1978.3 669.09,1976.7 670.29,1975.1 671.48,1973.49 672.66,1971.88 673.85,1970.27 675.03,1968.66 676.21,1967.05 677.38,1965.43 678.56,1963.82 679.73,1962.2 680.9,1960.58 682.06,1958.96 683.23,1957.33 684.39,1955.71 685.54,1954.08 686.7,1952.46 687.85,1950.83 689,1949.2 690.15,1947.56 691.3,1945.93 692.44,1944.3 693.58,1942.66 694.72,1941.02 695.86,1939.38 696.99,1937.74 698.13,1936.1 699.26,1934.45 700.38,1932.81 701.51,1931.16 702.63,1929.52 703.76,1927.87 704.88,1926.22 706,1924.57 707.11,1922.91 708.23,1921.26 709.34,1919.6 710.45,1917.95 711.56,1916.29 712.67,1914.63 713.77,1912.97 714.88,1911.31 715.98,1909.65 717.08,1907.99 718.18,1906.32 719.28,1904.66 720.38,1902.99 721.47,1901.32 722.56,1899.66 723.66,1897.99 724.75,1896.32 725.84,1894.65 726.93,1892.97 728.01,1891.3 729.1,1889.63 730.18,1887.95 731.27,1886.28 732.35,1884.6 733.43,1882.92 734.51,1881.25 735.59,1879.57 736.67,1877.89 737.74,1876.21 738.82,1874.53 739.9,1872.84 740.97,1871.16 742.04,1869.48 743.12,1867.8 744.19,1866.11 745.26,1864.43 746.33,1862.74 747.4,1861.05 748.47,1859.37 749.54,1857.68 750.61,1855.99 751.67,1854.3 752.74,1852.61 753.81,1850.92 754.87,1849.23 755.94,1847.54 757.01,1845.85 758.07,1844.16 759.14,1842.47 760.2,1840.78 761.26,1839.08 762.33,1837.39 763.39,1835.7 764.46,1834 765.52,1832.31 766.58,1830.62 767.65,1828.92 768.71,1827.23 769.77,1825.53 770.84,1823.84 771.9,1822.14 772.96,1820.44 774.03,1818.75 775.09,1817.05 776.16,1815.36 777.22,1813.66 778.29,1811.96 779.35,1810.27 780.42,1808.57 781.48,1806.87 782.55,1805.18 783.62,1803.48 784.68,1801.78 785.75,1800.09 786.82,1798.39 787.89,1796.69 788.96,1795 790.03,1793.3 791.1,1791.6 792.17,1789.91 793.25,1788.21 794.32,1786.52 795.39,1784.82 796.47,1783.12 797.54,1781.43 798.62,1779.73 799.7,1778.04 800.78,1776.34 801.86,1774.65 802.94,1772.96 804.02,1771.26 805.1,1769.57 806.19,1767.88 807.27,1766.18 808.36,1764.49 809.45,1762.8 810.54,1761.11 811.63,1759.42 812.72,1757.73 813.82,1756.04 814.91,1754.36 816.01,1752.67 817.11,1750.99 818.21,1749.31 819.32,1747.63 820.43,1745.95 821.54,1744.27 822.65,1742.59 823.76,1740.92 824.88,1739.25 826,1737.57 827.12,1735.91 828.25,1734.24 829.37,1732.58 830.5,1730.91 831.64,1729.26 832.77,1727.6 833.91,1725.94 835.06,1724.29 836.2,1722.64 837.35,1721 838.51,1719.35 839.66,1717.71 840.83,1716.08 841.99,1714.44 843.16,1712.81 844.33,1711.19 845.51,1709.56 846.69,1707.94 847.87,1706.32 849.06,1704.71 850.25,1703.1 851.45,1701.5 852.65,1699.89 853.85,1698.3 855.06,1696.7 856.28,1695.11 857.5,1693.53 858.72,1691.95 859.95,1690.37 861.19,1688.8 862.43,1687.23 863.67,1685.67 864.92,1684.11 866.17,1682.56 867.43,1681.01 868.7,1679.46 869.97,1677.93 871.25,1676.39 872.53,1674.86 873.82,1673.34 875.11,1671.82 876.41,1670.31 877.72,1668.81 879.03,1667.31 880.34,1665.81 881.67,1664.32 883,1662.84 884.34,1661.36 885.68,1659.89 887.03,1658.43 888.38,1656.97 889.75,1655.52 891.12,1654.07 892.49,1652.63 893.88,1651.2 895.27,1649.78 896.66,1648.36 898.07,1646.95 899.48,1645.55 900.9,1644.15 902.33,1642.76 903.76,1641.39 905.2,1640.02 906.65,1638.65 908.11,1637.3 909.58,1635.96 911.05,1634.62 912.54,1633.3 914.03,1631.98 915.53,1630.68 917.04,1629.38 918.56,1628.1 920.09,1626.82 921.62,1625.56 923.17,1624.31 924.72,1623.07 926.28,1621.84 927.86,1620.62 929.44,1619.41 931.03,1618.22 932.64,1617.04 934.25,1615.87 935.87,1614.71 937.5,1613.57 939.15,1612.44 940.8,1611.32 942.47,1610.21 944.14,1609.12 945.83,1608.05 947.52,1606.98 949.23,1605.93 950.95,1604.9 952.68,1603.88 954.42,1602.88 956.17,1601.89 957.93,1600.92 959.71,1599.96 961.49,1599.01 963.29,1598.09 965.1,1597.18 966.93,1596.28 968.76,1595.41 971.23,1597.76 973.21,1598.37 975.2,1598.93 977.21,1599.42 979.23,1599.84 981.26,1600.2 983.31,1600.5 985.37,1600.74 987.41,1600.48 989.44,1599.96 991.48,1599.24 993.52,1598.41 995.57,1597.54 997.62,1596.7 999.69,1595.95 1001.77,1595.39 1003.87,1595.07 1005.98,1595.08 1008.11,1595.48 1010.26,1596.35 1009.52,1598.69 1009.06,1600.94 1008.85,1603.1 1008.88,1605.17 1009.13,1607.16 1009.57,1609.07 1010.19,1610.92 1010.96,1612.71 1011.87,1614.44 1012.89,1616.13 1014,1617.78 1015.18,1619.39 1016.42,1620.97 1017.69,1622.54 1018.98,1624.08 1020.29,1625.62 1021.61,1627.14 1022.92,1628.67 1024.23,1630.19 1025.51,1631.73 1026.77,1633.27 1028,1634.82 1029.22,1636.38 1030.44,1637.91 1031.7,1639.4 1033.03,1640.84 1034.44,1642.2 1035.92,1643.49 1037.44,1644.75 1038.97,1645.99 1040.5,1647.23 1041.99,1648.5 1043.42,1649.81 1044.75,1651.19 1045.98,1652.67 1047.08,1654.24 1048.04,1655.9 1048.86,1657.68 1049.52,1659.57 1050.01,1661.57 1050.31,1663.7 1050.43,1665.95 1052.4,1666.62 1054.36,1667.02 1056.33,1667.4 1058.29,1667.76 1060.26,1668.1 1062.23,1668.42 1064.2,1668.72 1066.18,1669 1068.16,1669.27 1070.14,1669.51 1072.12,1669.74 1074.1,1669.96 1076.09,1670.16 1078.07,1670.34 1080.06,1670.51 1082.05,1670.66 1084.04,1670.8 1086.04,1670.93 1088.03,1671.05 1090.03,1671.15 1092.03,1671.25 1094.02,1671.33 1096.02,1671.4 1098.02,1671.47 1100.03,1671.52 1102.03,1671.57 1104.03,1671.61 1106.04,1671.64 1108.04,1671.67 1110.05,1671.68 1112.06,1671.7 1114.06,1671.71 1116.07,1671.71 1118.08,1671.71 1120.09,1671.71 1122.1,1671.7 1124.1,1671.7 1126.11,1671.69 1128.12,1671.68 1130.13,1671.67 1132.14,1671.66 1134.15,1671.65 1136.16,1671.64 1138.17,1671.64 1140.17,1671.63 1142.18,1671.63 1144.19,1671.64 1146.19,1671.64 1148.2,1671.65 1150.2,1671.67 1152.21,1671.7 1154.21,1671.72 1156.21,1671.76 1158.21,1671.81 1160.21,1671.86 1162.21,1671.92 1164.21,1671.99 1166.21,1672.07 1168.2,1672.16 1170.19,1672.26 1172.19,1672.37 1174.18,1672.5" stroke="#000000" stroke-width="2.3"/>
</g>
<path d="M596.19,2068.6V2063.1M634.78,2068.6V2058.6M673.36,2068.6V2063.1M711.95,2068.6V2058.6M750.54,2068.6V2063.1M789.13,2068.6V2058.6M827.72,2068.6V2063.1M866.31,2068.6V2058.6M904.89,2068.6V2063.1M943.48,2068.6V2058.6M982.07,2068.6V2063.1M1020.66,2068.6V2058.6M1059.25,2068.6V2063.1M1097.84,2068.6V2058.6M1136.42,2068.6V2063.1M1175.01,2068.6V2058.6M557.6,2042.08H563.1M557.6,2015.57H567.6M557.6,1989.05H563.1M557.6,1962.54H567.6M557.6,1936.02H563.1M557.6,1909.51H567.6M557.6,1882.99H563.1M557.6,1856.48H567.6M557.6,1829.96H563.1M557.6,1803.45H567.6M557.6,1776.93H563.1M557.6,1750.42H567.6M557.6,1723.9H563.1M557.6,1697.39H567.6M557.6,1670.88H563.1M557.6,1644.36H567.6M557.6,1617.84H563.1M557.6,1591.33H567.6M557.6,1564.82H563.1M1213.6,2015.57H1208.1M1213.6,1962.54H1203.6M1213.6,1909.51H1208.1M1213.6,1856.48H1203.6M1213.6,1803.45H1208.1M1213.6,1750.42H1203.6M1213.6,1697.39H1208.1M1213.6,1644.36H1203.6M1213.6,1591.33H1208.1" stroke="#1a1a1a" stroke-width="2" fill="none"/>
<rect x="557.6" y="1538.3" width="656" height="530.3" fill="none" stroke="#1a1a1a" stroke-width="2"/>
<g font-size="22.5" fill="#111"><text x="557.6" y="2097.2" text-anchor="middle">0.0</text><text x="634.78" y="2097.2" text-anchor="middle">0.2</text><text x="711.95" y="2097.2" text-anchor="middle">0.4</text><text x="789.13" y="2097.2" text-anchor="middle">0.6</text><text x="866.31" y="2097.2" text-anchor="middle">0.8</text><text x="943.48" y="2097.2" text-anchor="middle">1.0</text><text x="1020.66" y="2097.2" text-anchor="middle">1.2</text><text x="1097.84" y="2097.2" text-anchor="middle">1.4</text><text x="1175.01" y="2097.2" text-anchor="middle">1.6</text><text x="545.6" y="2075.8" text-anchor="end">0</text><text x="545.6" y="2022.77" text-anchor="end">10</text><text x="545.6" y="1969.74" text-anchor="end">20</text><text x="545.6" y="1916.71" text-anchor="end">30</text><text x="545.6" y="1863.68" text-anchor="end">40</text><text x="545.6" y="1810.65" text-anchor="end">50</text><text x="545.6" y="1757.62" text-anchor="end">60</text><text x="545.6" y="1704.59" text-anchor="end">70</text><text x="545.6" y="1651.56" text-anchor="end">80</text><text x="545.6" y="1598.53" text-anchor="end">90</text><text x="545.6" y="1545.5" text-anchor="end">100</text><text x="1225.1" y="2075.8">0.0</text><text x="1225.1" y="1969.74">0.2</text><text x="1225.1" y="1863.68">0.4</text><text x="1225.1" y="1757.62">0.6</text><text x="1225.1" y="1651.56">0.8</text><text x="1225.1" y="1545.5">1.0</text></g>
<text transform="translate(500.1,1802.45) rotate(-90)" text-anchor="middle" font-size="26.5" fill="#111">σ<tspan font-size="18" dy="7">1</tspan><tspan dy="-7"> / MPa</tspan></text>
<text transform="translate(1286.1,1804.45) rotate(-90)" text-anchor="middle" font-size="26.5" fill="#111">Energy/MJ·m<tspan font-size="18" dy="-10">-1</tspan></text>
<text x="885.6" y="2126.1" text-anchor="middle" font-size="26.5" fill="#111"><tspan font-style="italic">ε</tspan><tspan font-size="18" dy="5">1</tspan><tspan dy="-5"> / %</tspan></text>
<path d="M579.3,1563.4H630.1" stroke="#000000" stroke-width="2.6999999999999997"/>
<text x="637.1" y="1570.9" font-size="22.5" font-style="italic" fill="#111">σ<tspan font-size="15.5" dy="5" font-style="normal">1</tspan></text>
<path d="M579.3,1596.5H630.1" stroke="#ff4242" stroke-width="2.4"/>
<text x="637.1" y="1604" font-size="22.5" font-style="italic" fill="#111">U</text>
<path d="M579.3,1624.5H630.1" stroke="#1766e8" stroke-width="2.5"/>
<text x="637.1" y="1632" font-size="22.5" font-style="italic" fill="#111">U<tspan font-size="15.5" dy="5" font-style="italic">e</tspan></text>
<path d="M579.3,1657.2H630.1" stroke="#3cb878" stroke-width="2.4"/>
<text x="637.1" y="1664.7" font-size="22.5" font-style="italic" fill="#111">U<tspan font-size="15.5" dy="5" font-style="italic">d</tspan></text>
<text x="786.2" y="2228.1" font-size="37" fill="#000" textLength="191.2" lengthAdjust="spacingAndGlyphs">(e) <tspan font-style="italic">w</tspan>=7.33%</text></svg></body></html>
